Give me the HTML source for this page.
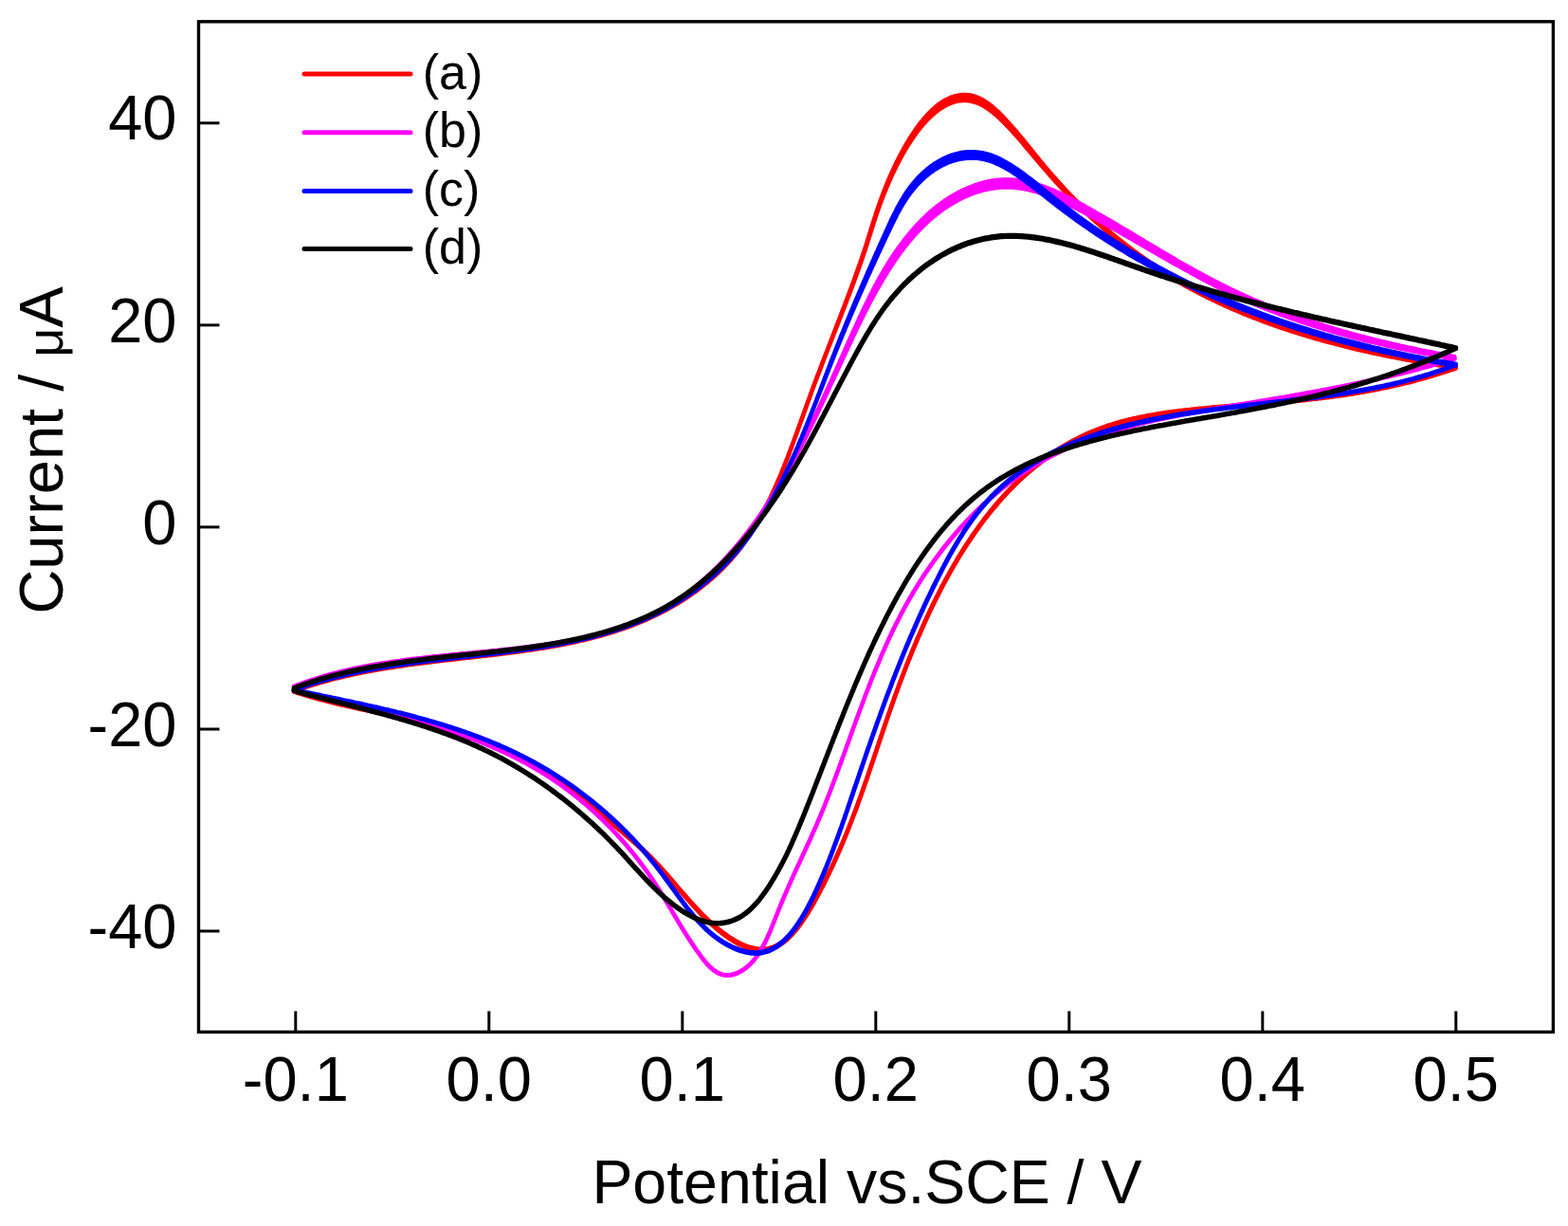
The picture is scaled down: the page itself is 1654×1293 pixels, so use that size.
<!DOCTYPE html>
<html><head><meta charset="utf-8"><title>Cyclic voltammograms</title>
<style>
html,body{margin:0;padding:0;background:#fff;}
body{width:1654px;height:1293px;overflow:hidden;}
svg{display:block;}
.t{font-family:"Liberation Sans", sans-serif;font-size:65px;fill:#000;}
.l{font-family:"Liberation Sans", sans-serif;font-size:52px;fill:#000;}
</style></head><body>
<svg width="1654" height="1293" viewBox="0 0 1654 1293">
<rect x="0" y="0" width="1654" height="1293" fill="#fff"/>
<path d="M310.0,728.5 311.9,727.8 313.8,727.1 315.7,726.5 317.5,725.8 319.4,725.1 321.3,724.5 323.2,723.9 325.1,723.2 327.0,722.6 329.0,722.0 330.9,721.4 332.8,720.8 334.7,720.2 336.6,719.7 338.5,719.1 340.5,718.6 342.4,718.0 344.3,717.5 346.3,717.0 348.2,716.4 350.1,715.9 352.1,715.4 354.0,714.9 356.0,714.4 357.9,714.0 359.8,713.5 361.8,713.0 363.7,712.6 365.7,712.1 367.7,711.7 369.6,711.2 371.6,710.8 373.5,710.4 375.5,710.0 377.4,709.5 379.4,709.1 381.4,708.7 383.3,708.3 385.3,708.0 387.3,707.6 389.2,707.2 391.2,706.8 393.2,706.5 395.1,706.1 397.1,705.8 399.1,705.4 401.1,705.1 403.0,704.7 405.0,704.4 407.0,704.1 409.0,703.8 411.0,703.5 412.9,703.1 414.9,702.8 416.9,702.5 418.9,702.2 420.9,701.9 422.8,701.6 424.8,701.4 426.8,701.1 428.8,700.8 430.8,700.5 432.8,700.2 434.7,700.0 436.7,699.7 438.7,699.4 440.7,699.2 442.7,698.9 444.7,698.7 446.7,698.4 448.6,698.2 450.6,697.9 452.6,697.7 454.6,697.4 456.6,697.2 458.6,696.9 460.6,696.7 462.6,696.5 464.6,696.2 466.5,696.0 468.5,695.8 470.5,695.5 472.5,695.3 474.5,695.1 476.5,694.9 478.5,694.6 480.5,694.4 482.5,694.2 484.5,693.9 486.5,693.7 488.4,693.5 490.4,693.3 492.4,693.0 494.4,692.8 496.4,692.6 498.4,692.4 500.4,692.2 502.4,691.9 504.4,691.7 506.4,691.5 508.4,691.2 510.3,691.0 512.3,690.8 514.3,690.6 516.3,690.3 518.3,690.1 520.3,689.9 522.3,689.6 524.3,689.4 526.3,689.1 528.2,688.9 530.2,688.6 532.2,688.4 534.2,688.1 536.2,687.9 538.2,687.6 540.2,687.4 542.2,687.1 544.1,686.9 546.1,686.6 548.1,686.3 550.1,686.1 552.1,685.8 554.1,685.5 556.1,685.2 558.0,684.9 560.0,684.6 562.0,684.3 564.0,684.0 566.0,683.7 567.9,683.4 569.9,683.1 571.9,682.8 573.9,682.5 575.9,682.1 577.8,681.8 579.8,681.5 581.8,681.1 583.7,680.8 585.7,680.4 587.7,680.1 589.7,679.7 591.6,679.3 593.6,679.0 595.6,678.6 597.5,678.2 599.5,677.8 601.5,677.4 603.4,677.0 605.4,676.5 607.3,676.1 609.3,675.7 611.2,675.3 613.2,674.8 615.1,674.4 617.1,673.9 619.0,673.4 621.0,672.9 622.9,672.5 624.9,672.0 626.8,671.5 628.8,670.9 630.7,670.4 632.6,669.9 634.6,669.4 636.5,668.8 638.4,668.3 640.3,667.7 642.2,667.1 644.2,666.5 646.1,665.9 648.0,665.3 649.9,664.7 651.8,664.1 653.7,663.5 655.6,662.8 657.5,662.2 659.4,661.5 661.3,660.8 663.1,660.1 665.0,659.4 666.9,658.7 668.8,658.0 670.6,657.3 672.5,656.5 674.4,655.8 676.2,655.0 678.1,654.2 679.9,653.5 681.7,652.7 683.6,651.8 685.4,651.0 687.2,650.2 689.0,649.3 690.8,648.5 692.6,647.6 694.4,646.7 696.2,645.8 698.0,644.9 699.8,644.0 701.6,643.1 703.3,642.1 705.1,641.2 706.8,640.2 708.6,639.2 710.3,638.2 712.1,637.2 713.8,636.2 715.5,635.1 717.2,634.1 718.9,633.0 720.6,631.9 722.3,630.9 724.0,629.8 725.6,628.7 727.3,627.5 728.9,626.4 730.6,625.2 732.2,624.1 733.8,622.9 735.4,621.7 737.0,620.5 738.6,619.3 740.2,618.1 741.8,616.9 743.4,615.6 744.9,614.3 746.5,613.1 748.0,611.8 749.5,610.5 751.0,609.2 752.5,607.8 754.0,606.5 755.5,605.1 757.0,603.8 758.4,602.4 759.9,601.0 761.3,599.6 762.7,598.2 764.1,596.8 765.5,595.3 766.9,593.9 768.3,592.4 769.6,590.9 771.0,589.4 772.3,587.9 773.6,586.4 774.9,584.9 776.2,583.4 777.4,581.8 778.7,580.2 779.9,578.7 781.2,577.1 782.4,575.5 783.6,573.9 784.8,572.3 785.9,570.6 787.1,569.0 788.2,567.4 789.4,565.7 790.5,564.0 791.6,562.4 792.7,560.7 793.7,559.0 794.8,557.3 795.9,555.6 796.9,553.9 797.9,552.2 799.0,550.4 800.0,548.7 801.0,547.0 801.9,545.2 802.9,543.5 803.9,541.7 804.8,540.0 805.8,538.2 806.7,536.4 807.6,534.6 808.5,532.8 809.4,531.1 810.3,529.3 811.2,527.5 812.1,525.7 813.0,523.9 813.8,522.1 814.7,520.2 815.5,518.4 816.4,516.6 817.2,514.8 818.0,512.9 818.8,511.1 819.6,509.3 820.4,507.4 821.2,505.6 822.0,503.8 822.8,501.9 823.6,500.1 824.3,498.2 825.1,496.4 825.8,494.5 826.6,492.6 827.3,490.8 828.1,488.9 828.8,487.1 829.5,485.2 830.3,483.3 831.0,481.5 831.7,479.6 832.4,477.7 833.1,475.8 833.8,474.0 834.5,472.1 835.3,470.2 835.9,468.3 836.6,466.5 837.3,464.6 838.0,462.7 838.7,460.8 839.4,458.9 840.1,457.1 840.8,455.2 841.5,453.3 842.1,451.4 842.8,449.5 843.5,447.6 844.2,445.7 844.8,443.9 845.5,442.0 846.2,440.1 846.9,438.2 847.6,436.3 848.2,434.4 848.9,432.5 849.6,430.7 850.3,428.8 850.9,426.9 851.6,425.0 852.3,423.1 853.0,421.2 853.7,419.4 854.4,417.5 855.0,415.6 855.7,413.7 856.4,411.8 857.1,410.0 857.8,408.1 858.5,406.2 859.2,404.3 859.9,402.4 860.6,400.6 861.3,398.7 862.0,396.8 862.7,394.9 863.5,393.1 864.2,391.2 864.9,389.3 865.6,387.5 866.3,385.6 867.0,383.7 867.7,381.8 868.5,380.0 869.2,378.1 869.9,376.2 870.6,374.4 871.3,372.5 872.1,370.6 872.8,368.7 873.5,366.8 874.2,364.9 875.0,363.1 875.7,361.2 876.4,359.3 877.1,357.4 877.9,355.6 878.6,353.7 879.3,351.8 880.0,349.9 880.8,348.0 881.5,346.2 882.2,344.3 882.9,342.4 883.7,340.5 884.4,338.6 885.1,336.8 885.8,334.9 886.6,333.0 887.3,331.1 888.0,329.2 888.7,327.3 889.4,325.5 890.2,323.6 890.9,321.7 891.6,319.8 892.3,317.9 893.0,316.1 893.7,314.2 894.4,312.3 895.2,310.4 895.9,308.5 896.6,306.6 897.3,304.7 898.0,302.8 898.7,301.0 899.4,299.1 900.1,297.2 900.8,295.3 901.4,293.4 902.1,291.5 902.8,289.6 903.5,287.7 904.2,285.8 904.8,283.9 905.5,282.0 906.2,280.1 906.9,278.2 907.5,276.3 908.2,274.4 908.8,272.5 909.5,270.6 910.1,268.7 910.8,266.8 911.4,264.9 912.0,263.0 912.7,261.0 913.3,259.1 913.9,257.2 914.5,255.3 915.1,253.4 915.7,251.5 916.3,249.5 916.9,247.6 917.5,245.7 918.1,243.8 918.7,241.8 919.3,239.9 919.9,238.0 920.5,236.0 921.1,234.1 921.7,232.2 922.3,230.3 923.0,228.4 923.6,226.4 924.2,224.5 924.8,222.6 925.5,220.7 926.1,218.8 926.8,216.9 927.4,215.0 928.1,213.1 928.8,211.2 929.5,209.3 930.2,207.4 930.9,205.5 931.6,203.6 932.3,201.7 933.1,199.8 933.8,198.0 934.6,196.1 935.3,194.2 936.1,192.3 936.9,190.5 937.7,188.6 938.5,186.8 939.3,184.9 940.1,183.1 940.9,181.2 941.8,179.4 942.6,177.6 943.5,175.7 944.4,173.9 945.2,172.1 946.1,170.3 947.0,168.5 947.9,166.6 948.9,164.9 949.8,163.1 950.8,161.3 951.7,159.5 952.7,157.7 953.7,155.9 954.7,154.2 955.7,152.4 956.7,150.7 957.8,149.0 958.8,147.2 959.9,145.5 961.0,143.8 962.1,142.1 963.2,140.4 964.3,138.7 965.5,137.1 966.6,135.4 967.8,133.8 969.0,132.1 970.2,130.5 971.5,128.9 972.8,127.3 974.0,125.8 975.4,124.2 976.7,122.7 978.1,121.2 979.4,119.7 980.9,118.3 982.3,116.8 983.8,115.4 985.3,114.1 986.8,112.7 988.3,111.5 989.9,110.2 991.6,109.0 993.2,107.9 994.9,106.8 996.6,105.8 998.4,104.9 1000.2,104.0 1002.0,103.2 1003.9,102.4 1005.8,101.8 1007.7,101.2 1009.7,100.8 1011.6,100.4 1013.6,100.2 1015.6,100.0 1017.6,100.0 1019.6,100.1 1021.6,100.2 1023.6,100.5 1025.6,101.0 1027.5,101.5 1029.4,102.1 1031.3,102.8 1033.1,103.6 1034.9,104.4 1036.7,105.4 1038.4,106.4 1040.1,107.5 1041.8,108.6 1043.4,109.8 1045.0,111.1 1046.6,112.3 1048.1,113.7 1049.6,115.0 1051.1,116.3 1052.6,117.7 1054.1,119.1 1055.5,120.5 1057.0,122.0 1058.4,123.4 1059.8,124.9 1061.2,126.4 1062.5,127.9 1063.9,129.4 1065.2,130.9 1066.6,132.4 1067.9,133.9 1069.3,135.4 1070.6,137.0 1071.9,138.5 1073.2,140.1 1074.5,141.6 1075.8,143.2 1077.1,144.7 1078.4,146.3 1079.7,147.8 1080.9,149.4 1082.2,151.0 1083.5,152.6 1084.8,154.1 1086.0,155.7 1087.3,157.3 1088.6,158.8 1089.9,160.4 1091.1,162.0 1092.4,163.6 1093.7,165.2 1094.9,166.7 1096.2,168.3 1097.5,169.9 1098.8,171.4 1100.1,173.0 1101.4,174.6 1102.7,176.1 1104.0,177.7 1105.3,179.2 1106.6,180.7 1107.9,182.3 1109.2,183.8 1110.5,185.3 1111.9,186.8 1113.2,188.3 1114.5,189.8 1115.9,191.3 1117.2,192.8 1118.6,194.3 1120.0,195.8 1121.3,197.2 1122.7,198.7 1124.1,200.2 1125.5,201.6 1126.8,203.1 1128.2,204.5 1129.6,206.0 1131.0,207.4 1132.4,208.8 1133.8,210.3 1135.3,211.7 1136.7,213.1 1138.1,214.5 1139.5,215.9 1141.0,217.3 1142.4,218.7 1143.8,220.1 1145.3,221.5 1146.8,222.9 1148.2,224.3 1149.7,225.6 1151.1,227.0 1152.6,228.4 1154.1,229.7 1155.6,231.1 1157.1,232.4 1158.6,233.8 1160.1,235.1 1161.6,236.4 1163.1,237.8 1164.6,239.1 1166.1,240.4 1167.6,241.7 1169.2,243.0 1170.7,244.3 1172.2,245.6 1173.8,246.9 1175.3,248.1 1176.9,249.4 1178.4,250.7 1180.0,251.9 1181.6,253.2 1183.1,254.5 1184.7,255.7 1186.3,256.9 1187.9,258.2 1189.5,259.4 1191.0,260.6 1192.6,261.8 1194.3,263.0 1195.9,264.2 1197.5,265.4 1199.1,266.6 1200.7,267.8 1202.3,269.0 1204.0,270.1 1205.6,271.3 1207.2,272.4 1208.9,273.6 1210.5,274.7 1212.2,275.9 1213.9,277.0 1215.5,278.1 1217.2,279.2 1218.9,280.4 1220.5,281.5 1222.2,282.6 1223.9,283.6 1225.6,284.7 1227.3,285.8 1229.0,286.9 1230.7,287.9 1232.4,289.0 1234.1,290.0 1235.8,291.1 1237.5,292.1 1239.3,293.1 1241.0,294.2 1242.7,295.2 1244.5,296.2 1246.2,297.2 1247.9,298.2 1249.7,299.2 1251.4,300.1 1253.2,301.1 1255.0,302.1 1256.7,303.0 1258.5,304.0 1260.3,304.9 1262.0,305.8 1263.8,306.8 1265.6,307.7 1267.4,308.6 1269.1,309.5 1270.9,310.4 1272.7,311.3 1274.5,312.2 1276.3,313.1 1278.1,314.0 1279.9,314.8 1281.7,315.7 1283.6,316.6 1285.4,317.4 1287.2,318.3 1289.0,319.1 1290.8,319.9 1292.6,320.8 1294.5,321.6 1296.3,322.4 1298.1,323.2 1300.0,324.0 1301.8,324.8 1303.7,325.6 1305.5,326.4 1307.3,327.2 1309.2,327.9 1311.0,328.7 1312.9,329.5 1314.8,330.2 1316.6,331.0 1318.5,331.7 1320.3,332.5 1322.2,333.2 1324.1,333.9 1325.9,334.7 1327.8,335.4 1329.7,336.1 1331.5,336.8 1333.4,337.5 1335.3,338.2 1337.2,338.9 1339.1,339.6 1341.0,340.3 1342.8,340.9 1344.7,341.6 1346.6,342.3 1348.5,342.9 1350.4,343.6 1352.3,344.2 1354.2,344.9 1356.1,345.5 1358.0,346.1 1359.9,346.8 1361.8,347.4 1363.7,348.0 1365.6,348.6 1367.5,349.2 1369.4,349.8 1371.4,350.4 1373.3,351.0 1375.2,351.6 1377.1,352.2 1379.0,352.8 1380.9,353.4 1382.9,353.9 1384.8,354.5 1386.7,355.1 1388.6,355.6 1390.6,356.2 1392.5,356.7 1394.4,357.3 1396.3,357.8 1398.3,358.4 1400.2,358.9 1402.1,359.4 1404.1,359.9 1406.0,360.5 1407.9,361.0 1409.9,361.5 1411.8,362.0 1413.8,362.5 1415.7,363.0 1417.6,363.5 1419.6,364.0 1421.5,364.4 1423.5,364.9 1425.4,365.4 1427.4,365.9 1429.3,366.3 1431.3,366.8 1433.2,367.3 1435.2,367.7 1437.1,368.2 1439.1,368.6 1441.0,369.1 1443.0,369.5 1444.9,370.0 1446.9,370.4 1448.8,370.8 1450.8,371.2 1452.8,371.7 1454.7,372.1 1456.7,372.5 1458.6,372.9 1460.6,373.3 1462.6,373.7 1464.5,374.1 1466.5,374.5 1468.5,374.9 1470.4,375.3 1472.4,375.7 1474.4,376.1 1476.3,376.5 1478.3,376.8 1480.3,377.2 1482.2,377.6 1484.2,378.0 1486.2,378.3 1488.1,378.7 1490.1,379.0 1492.1,379.4 1494.1,379.7 1496.0,380.1 1498.0,380.4 1500.0,380.8 1502.0,381.1 1503.9,381.5 1505.9,381.8 1507.9,382.1 1509.9,382.4 1511.8,382.8 1513.8,383.1 1515.8,383.4 1517.8,383.7 1519.8,384.0 1521.7,384.3 1523.7,384.7 1525.7,385.0 1527.7,385.3 1529.7,385.6 1531.6,385.9 1533.6,386.2 1535.6,386.4 1535.6,388.0 1533.6,387.7 1531.6,387.4 1529.7,387.1 1527.7,386.8 1525.7,386.5 1523.7,386.2 1521.7,385.9 1519.8,385.6 1517.8,385.3 1515.8,385.0 1513.8,384.6 1511.8,384.3 1509.9,384.0 1507.9,383.7 1505.9,383.3 1503.9,383.0 1502.0,382.7 1500.0,382.3 1498.0,382.0 1496.0,381.7 1494.1,381.3 1492.1,381.0 1490.1,380.6 1488.1,380.3 1486.2,379.9 1484.2,379.5 1482.2,379.2 1480.3,378.8 1478.3,378.4 1476.3,378.1 1474.4,377.7 1472.4,377.3 1470.4,376.9 1468.5,376.5 1466.5,376.2 1464.5,375.8 1462.6,375.4 1460.6,375.0 1458.6,374.6 1456.7,374.1 1454.7,373.7 1452.8,373.3 1450.8,372.9 1448.8,372.5 1446.9,372.0 1444.9,371.6 1443.0,371.2 1441.0,370.7 1439.1,370.3 1437.1,369.9 1435.2,369.4 1433.2,369.0 1431.3,368.5 1429.3,368.0 1427.4,367.6 1425.4,367.1 1423.5,366.6 1421.5,366.2 1419.6,365.7 1417.6,365.2 1415.7,364.7 1413.8,364.2 1411.8,363.7 1409.9,363.2 1407.9,362.7 1406.0,362.2 1404.1,361.7 1402.1,361.2 1400.2,360.6 1398.3,360.1 1396.3,359.6 1394.4,359.0 1392.5,358.5 1390.6,357.9 1388.6,357.4 1386.7,356.8 1384.8,356.3 1382.9,355.7 1380.9,355.2 1379.0,354.6 1377.1,354.0 1375.2,353.4 1373.3,352.8 1371.4,352.2 1369.4,351.6 1367.5,351.0 1365.6,350.4 1363.7,349.8 1361.8,349.2 1359.9,348.6 1358.0,348.0 1356.1,347.3 1354.2,346.7 1352.3,346.1 1350.4,345.4 1348.5,344.8 1346.6,344.1 1344.7,343.4 1342.8,342.8 1341.0,342.1 1339.1,341.4 1337.2,340.7 1335.3,340.1 1333.4,339.4 1331.5,338.7 1329.7,338.0 1327.8,337.2 1325.9,336.5 1324.1,335.8 1322.2,335.1 1320.3,334.4 1318.5,333.6 1316.6,332.9 1314.8,332.1 1312.9,331.4 1311.0,330.6 1309.2,329.8 1307.3,329.1 1305.5,328.3 1303.7,327.5 1301.8,326.7 1300.0,325.9 1298.1,325.1 1296.3,324.3 1294.5,323.5 1292.6,322.7 1290.8,321.9 1289.0,321.0 1287.2,320.2 1285.4,319.4 1283.6,318.5 1281.7,317.6 1279.9,316.8 1278.1,315.9 1276.3,315.0 1274.5,314.2 1272.7,313.3 1270.9,312.4 1269.1,311.5 1267.4,310.6 1265.6,309.7 1263.8,308.7 1262.0,307.8 1260.3,306.9 1258.5,305.9 1256.7,305.0 1255.0,304.0 1253.2,303.1 1251.4,302.1 1249.7,301.2 1247.9,300.2 1246.2,299.2 1244.5,298.2 1242.7,297.2 1241.0,296.2 1239.3,295.2 1237.5,294.2 1235.8,293.2 1234.1,292.1 1232.4,291.1 1230.7,290.1 1229.0,289.0 1227.3,288.0 1225.6,286.9 1223.9,285.8 1222.2,284.8 1220.5,283.7 1218.9,282.6 1217.2,281.5 1215.5,280.4 1213.9,279.3 1212.2,278.1 1210.5,277.0 1208.9,275.9 1207.2,274.8 1205.6,273.6 1204.0,272.5 1202.3,271.3 1200.7,270.1 1199.1,269.0 1197.5,267.8 1195.9,266.6 1194.3,265.4 1192.6,264.2 1191.0,263.0 1189.5,261.8 1187.9,260.6 1186.3,259.4 1184.7,258.2 1183.1,256.9 1181.6,255.7 1180.0,254.4 1178.4,253.2 1176.9,251.9 1175.3,250.7 1173.8,249.4 1172.2,248.1 1170.7,246.9 1169.2,245.6 1167.6,244.3 1166.1,243.0 1164.6,241.7 1163.1,240.4 1161.6,239.1 1160.1,237.7 1158.6,236.4 1157.1,235.1 1155.6,233.8 1154.1,232.4 1152.6,231.1 1151.1,229.7 1149.7,228.4 1148.2,227.0 1146.8,225.6 1145.3,224.3 1143.8,222.9 1142.4,221.5 1141.0,220.1 1139.5,218.7 1138.1,217.3 1136.7,215.9 1135.3,214.5 1133.8,213.1 1132.4,211.7 1131.0,210.3 1129.6,208.8 1128.2,207.4 1126.8,206.0 1125.5,204.5 1124.1,203.1 1122.7,201.6 1121.3,200.2 1120.0,198.7 1118.6,197.2 1117.2,195.8 1115.9,194.3 1114.5,192.8 1113.2,191.3 1111.9,189.8 1110.5,188.3 1109.2,186.9 1107.9,185.4 1106.6,183.9 1105.3,182.4 1104.0,180.9 1102.7,179.4 1101.4,177.9 1100.1,176.4 1098.8,174.9 1097.5,173.4 1096.2,171.9 1094.9,170.4 1093.7,168.8 1092.4,167.3 1091.1,165.8 1089.9,164.3 1088.6,162.8 1087.3,161.2 1086.0,159.7 1084.8,158.2 1083.5,156.7 1082.2,155.2 1080.9,153.7 1079.7,152.1 1078.4,150.6 1077.1,149.1 1075.8,147.6 1074.5,146.1 1073.2,144.6 1071.9,143.1 1070.6,141.7 1069.3,140.2 1067.9,138.7 1066.6,137.2 1065.2,135.8 1063.9,134.3 1062.5,132.9 1061.2,131.5 1059.8,130.0 1058.4,128.6 1057.0,127.3 1055.5,125.9 1054.1,124.5 1052.6,123.2 1051.1,121.9 1049.6,120.6 1048.1,119.3 1046.6,118.1 1045.0,116.9 1043.4,115.7 1041.8,114.6 1040.1,113.5 1038.4,112.4 1036.7,111.4 1034.9,110.4 1033.1,109.6 1031.3,108.8 1029.4,108.1 1027.5,107.5 1025.6,107.0 1023.6,106.5 1021.6,106.2 1019.6,106.1 1017.6,106.0 1015.6,106.0 1013.6,106.2 1011.6,106.4 1009.7,106.8 1007.7,107.2 1005.8,107.8 1003.9,108.4 1002.0,109.2 1000.2,110.0 998.4,110.9 996.6,111.8 994.9,112.8 993.2,113.9 991.6,115.0 989.9,116.2 988.3,117.4 986.8,118.6 985.3,119.9 983.8,121.2 982.3,122.5 980.9,123.8 979.4,125.2 978.1,126.6 976.7,128.1 975.4,129.5 974.0,131.0 972.8,132.5 971.5,134.1 970.2,135.6 969.0,137.2 967.8,138.7 966.6,140.3 965.5,141.9 964.3,143.5 963.2,145.2 962.1,146.8 961.0,148.4 959.9,150.1 958.8,151.8 957.8,153.4 956.7,155.1 955.7,156.8 954.7,158.5 953.7,160.3 952.7,162.0 951.7,163.7 950.8,165.4 949.8,167.2 948.9,168.9 947.9,170.7 947.0,172.4 946.1,174.2 945.2,176.0 944.4,177.8 943.5,179.6 942.6,181.3 941.8,183.1 940.9,184.9 940.1,186.7 939.3,188.5 938.5,190.4 937.7,192.2 936.9,194.0 936.1,195.8 935.3,197.7 934.6,199.5 933.8,201.3 933.1,203.2 932.3,205.0 931.6,206.9 930.9,208.7 930.2,210.6 929.5,212.4 928.8,214.3 928.1,216.2 927.4,218.0 926.8,219.9 926.1,221.8 925.5,223.7 924.8,225.6 924.2,227.4 923.6,229.3 923.0,231.2 922.3,233.1 921.7,235.0 921.1,236.9 920.5,238.8 919.9,240.7 919.3,242.6 918.7,244.5 918.1,246.4 917.5,248.3 916.9,250.2 916.3,252.1 915.7,254.0 915.1,255.9 914.5,257.8 913.9,259.7 913.3,261.6 912.7,263.5 912.0,265.4 911.4,267.3 910.8,269.1 910.1,271.0 909.5,272.9 908.8,274.8 908.2,276.7 907.5,278.6 906.9,280.4 906.2,282.3 905.5,284.2 904.8,286.1 904.2,287.9 903.5,289.8 902.8,291.7 902.1,293.6 901.4,295.4 900.8,297.3 900.1,299.2 899.4,301.0 898.7,302.9 898.0,304.8 897.3,306.6 896.6,308.5 895.9,310.4 895.2,312.2 894.4,314.1 893.7,316.0 893.0,317.8 892.3,319.7 891.6,321.5 890.9,323.4 890.2,325.3 889.4,327.1 888.7,329.0 888.0,330.8 887.3,332.7 886.6,334.5 885.8,336.4 885.1,338.3 884.4,340.1 883.7,342.0 882.9,343.8 882.2,345.7 881.5,347.5 880.8,349.4 880.0,351.2 879.3,353.1 878.6,355.0 877.9,356.8 877.1,358.7 876.4,360.5 875.7,362.4 875.0,364.2 874.2,366.1 873.5,367.9 872.8,369.8 872.1,371.7 871.3,373.5 870.6,375.4 869.9,377.2 869.2,379.1 868.5,381.0 867.7,382.8 867.0,384.7 866.3,386.6 865.6,388.5 864.9,390.3 864.2,392.2 863.5,394.1 862.7,395.9 862.0,397.8 861.3,399.7 860.6,401.6 859.9,403.4 859.2,405.3 858.5,407.2 857.8,409.1 857.1,410.9 856.4,412.8 855.7,414.7 855.0,416.6 854.4,418.5 853.7,420.4 853.0,422.2 852.3,424.1 851.6,426.0 850.9,427.9 850.3,429.8 849.6,431.7 848.9,433.5 848.2,435.4 847.6,437.3 846.9,439.2 846.2,441.1 845.5,443.0 844.8,444.9 844.2,446.7 843.5,448.6 842.8,450.5 842.1,452.4 841.5,454.3 840.8,456.2 840.1,458.0 839.4,459.9 838.7,461.8 838.0,463.7 837.3,465.6 836.6,467.5 835.9,469.3 835.3,471.2 834.5,473.1 833.8,475.0 833.1,476.8 832.4,478.7 831.7,480.6 831.0,482.4 830.3,484.3 829.5,486.2 828.8,488.0 828.1,489.9 827.3,491.8 826.6,493.6 825.8,495.5 825.1,497.3 824.3,499.2 823.6,501.0 822.8,502.9 822.0,504.7 821.2,506.6 820.4,508.4 819.6,510.3 818.8,512.1 818.0,513.9 817.2,515.8 816.4,517.6 815.5,519.4 814.7,521.2 813.8,523.0 813.0,524.8 812.1,526.6 811.2,528.4 810.3,530.2 809.4,532.0 808.5,533.8 807.6,535.6 806.7,537.4 805.8,539.2 804.8,540.9 803.9,542.7 802.9,544.4 801.9,546.2 801.0,547.9 800.0,549.7 799.0,551.4 797.9,553.1 796.9,554.9 795.9,556.6 794.8,558.3 793.7,560.0 792.7,561.7 791.6,563.3 790.5,565.0 789.4,566.7 788.2,568.3 787.1,570.0 785.9,571.6 784.8,573.2 783.6,574.8 782.4,576.5 781.2,578.1 779.9,579.6 778.7,581.2 777.4,582.8 776.2,584.3 774.9,585.9 773.6,587.4 772.3,588.9 771.0,590.4 769.6,591.9 768.3,593.4 766.9,594.8 765.5,596.3 764.1,597.7 762.7,599.2 761.3,600.6 759.9,602.0 758.4,603.4 757.0,604.7 755.5,606.1 754.0,607.5 752.5,608.8 751.0,610.1 749.5,611.4 748.0,612.7 746.5,614.0 744.9,615.3 743.4,616.6 741.8,617.8 740.2,619.0 738.6,620.3 737.0,621.5 735.4,622.7 733.8,623.9 732.2,625.0 730.6,626.2 728.9,627.3 727.3,628.5 725.6,629.6 724.0,630.7 722.3,631.8 720.6,632.9 718.9,634.0 717.2,635.0 715.5,636.1 713.8,637.1 712.1,638.1 710.3,639.1 708.6,640.1 706.8,641.1 705.1,642.1 703.3,643.1 701.6,644.0 699.8,644.9 698.0,645.9 696.2,646.8 694.4,647.7 692.6,648.5 690.8,649.4 689.0,650.3 687.2,651.1 685.4,652.0 683.6,652.8 681.7,653.6 679.9,654.4 678.1,655.2 676.2,656.0 674.4,656.7 672.5,657.5 670.6,658.2 668.8,658.9 666.9,659.7 665.0,660.4 663.1,661.1 661.3,661.8 659.4,662.4 657.5,663.1 655.6,663.7 653.7,664.4 651.8,665.0 649.9,665.6 648.0,666.3 646.1,666.9 644.2,667.5 642.2,668.0 640.3,668.6 638.4,669.2 636.5,669.7 634.6,670.3 632.6,670.8 630.7,671.3 628.8,671.9 626.8,672.4 624.9,672.9 622.9,673.4 621.0,673.9 619.0,674.3 617.1,674.8 615.1,675.3 613.2,675.7 611.2,676.2 609.3,676.6 607.3,677.0 605.4,677.5 603.4,677.9 601.5,678.3 599.5,678.7 597.5,679.1 595.6,679.5 593.6,679.9 591.6,680.2 589.7,680.6 587.7,681.0 585.7,681.3 583.7,681.7 581.8,682.0 579.8,682.4 577.8,682.7 575.9,683.0 573.9,683.4 571.9,683.7 569.9,684.0 567.9,684.3 566.0,684.6 564.0,684.9 562.0,685.2 560.0,685.5 558.0,685.8 556.1,686.1 554.1,686.4 552.1,686.7 550.1,686.9 548.1,687.2 546.1,687.5 544.1,687.7 542.2,688.0 540.2,688.3 538.2,688.5 536.2,688.8 534.2,689.0 532.2,689.3 530.2,689.5 528.2,689.8 526.3,690.0 524.3,690.3 522.3,690.5 520.3,690.7 518.3,691.0 516.3,691.2 514.3,691.4 512.3,691.7 510.3,691.9 508.4,692.1 506.4,692.3 504.4,692.6 502.4,692.8 500.4,693.0 498.4,693.2 496.4,693.5 494.4,693.7 492.4,693.9 490.4,694.1 488.4,694.4 486.5,694.6 484.5,694.8 482.5,695.0 480.5,695.3 478.5,695.5 476.5,695.7 474.5,695.9 472.5,696.2 470.5,696.4 468.5,696.6 466.5,696.9 464.6,697.1 462.6,697.3 460.6,697.6 458.6,697.8 456.6,698.0 454.6,698.3 452.6,698.5 450.6,698.8 448.6,699.0 446.7,699.3 444.7,699.5 442.7,699.8 440.7,700.0 438.7,700.3 436.7,700.6 434.7,700.8 432.8,701.1 430.8,701.4 428.8,701.6 426.8,701.9 424.8,702.2 422.8,702.5 420.9,702.8 418.9,703.1 416.9,703.4 414.9,703.7 412.9,704.0 411.0,704.3 409.0,704.6 407.0,704.9 405.0,705.3 403.0,705.6 401.1,705.9 399.1,706.3 397.1,706.6 395.1,707.0 393.2,707.3 391.2,707.7 389.2,708.0 387.3,708.4 385.3,708.8 383.3,709.2 381.4,709.6 379.4,710.0 377.4,710.4 375.5,710.8 373.5,711.2 371.6,711.6 369.6,712.0 367.7,712.5 365.7,712.9 363.7,713.4 361.8,713.8 359.8,714.3 357.9,714.8 356.0,715.3 354.0,715.7 352.1,716.2 350.1,716.7 348.2,717.2 346.3,717.8 344.3,718.3 342.4,718.8 340.5,719.4 338.5,719.9 336.6,720.5 334.7,721.1 332.8,721.6 330.9,722.2 329.0,722.8 327.0,723.4 325.1,724.0 323.2,724.7 321.3,725.3 319.4,725.9 317.5,726.6 315.7,727.3 313.8,727.9 311.9,728.6 310.0,729.3Z" fill="#ff0000" stroke="#ff0000" stroke-width="4.4" stroke-linejoin="round"/>
<path d="M1535.6,387.4 1533.7,388.1 1531.8,388.7 1529.9,389.3 1528.0,390.0 1526.1,390.6 1524.2,391.2 1522.3,391.8 1520.4,392.4 1518.5,393.0 1516.5,393.6 1514.6,394.2 1512.7,394.8 1510.8,395.4 1508.9,395.9 1506.9,396.5 1505.0,397.0 1503.1,397.6 1501.2,398.1 1499.2,398.7 1497.3,399.2 1495.4,399.7 1493.4,400.2 1491.5,400.7 1489.5,401.3 1487.6,401.7 1485.7,402.2 1483.7,402.7 1481.8,403.2 1479.8,403.7 1477.9,404.1 1475.9,404.6 1474.0,405.1 1472.0,405.5 1470.1,405.9 1468.1,406.4 1466.1,406.8 1464.2,407.2 1462.2,407.7 1460.3,408.1 1458.3,408.5 1456.3,408.9 1454.4,409.3 1452.4,409.7 1450.4,410.0 1448.5,410.4 1446.5,410.8 1444.5,411.1 1442.5,411.5 1440.6,411.9 1438.6,412.2 1436.6,412.6 1434.6,412.9 1432.7,413.2 1430.7,413.6 1428.7,413.9 1426.7,414.2 1424.8,414.5 1422.8,414.8 1420.8,415.1 1418.8,415.4 1416.8,415.7 1414.8,416.0 1412.9,416.3 1410.9,416.6 1408.9,416.8 1406.9,417.1 1404.9,417.4 1402.9,417.7 1400.9,417.9 1399.0,418.2 1397.0,418.4 1395.0,418.7 1393.0,418.9 1391.0,419.2 1389.0,419.4 1387.0,419.6 1385.0,419.9 1383.0,420.1 1381.0,420.3 1379.0,420.5 1377.1,420.7 1375.1,421.0 1373.1,421.2 1371.1,421.4 1369.1,421.6 1367.1,421.8 1365.1,422.0 1363.1,422.2 1361.1,422.4 1359.1,422.6 1357.1,422.8 1355.1,423.0 1353.1,423.1 1351.1,423.3 1349.1,423.5 1347.1,423.7 1345.1,423.9 1343.1,424.1 1341.1,424.2 1339.1,424.4 1337.1,424.6 1335.1,424.8 1333.1,424.9 1331.2,425.1 1329.2,425.3 1327.2,425.5 1325.2,425.6 1323.2,425.8 1321.2,426.0 1319.2,426.1 1317.2,426.3 1315.2,426.5 1313.2,426.6 1311.2,426.8 1309.2,427.0 1307.2,427.1 1305.2,427.3 1303.2,427.5 1301.2,427.6 1299.2,427.8 1297.2,428.0 1295.2,428.1 1293.2,428.3 1291.2,428.5 1289.2,428.7 1287.2,428.8 1285.2,429.0 1283.2,429.2 1281.2,429.3 1279.2,429.5 1277.2,429.7 1275.2,429.9 1273.2,430.1 1271.2,430.3 1269.2,430.4 1267.2,430.6 1265.2,430.8 1263.2,431.0 1261.3,431.2 1259.3,431.4 1257.3,431.6 1255.3,431.9 1253.3,432.1 1251.3,432.3 1249.3,432.5 1247.3,432.8 1245.3,433.0 1243.3,433.2 1241.3,433.5 1239.3,433.7 1237.4,434.0 1235.4,434.3 1233.4,434.5 1231.4,434.8 1229.4,435.1 1227.4,435.4 1225.4,435.7 1223.5,436.0 1221.5,436.3 1219.5,436.6 1217.5,437.0 1215.6,437.3 1213.6,437.7 1211.6,438.0 1209.6,438.4 1207.7,438.8 1205.7,439.2 1203.7,439.6 1201.8,440.0 1199.8,440.4 1197.9,440.8 1195.9,441.2 1193.9,441.7 1192.0,442.1 1190.0,442.6 1188.1,443.1 1186.2,443.6 1184.2,444.1 1182.3,444.6 1180.4,445.2 1178.4,445.7 1176.5,446.3 1174.6,446.9 1172.7,447.5 1170.8,448.1 1168.8,448.7 1166.9,449.3 1165.1,450.0 1163.2,450.6 1161.3,451.3 1159.4,452.0 1157.5,452.7 1155.7,453.5 1153.8,454.2 1151.9,455.0 1150.1,455.8 1148.3,456.6 1146.4,457.4 1144.6,458.2 1142.8,459.0 1141.0,459.9 1139.2,460.8 1137.4,461.7 1135.6,462.6 1133.8,463.5 1132.0,464.4 1130.3,465.4 1128.5,466.3 1126.8,467.3 1125.0,468.3 1123.3,469.3 1121.6,470.4 1119.8,471.4 1118.1,472.4 1116.4,473.5 1114.8,474.6 1113.1,475.7 1111.4,476.8 1109.7,477.9 1108.1,479.0 1106.4,480.2 1104.8,481.3 1103.2,482.5 1101.6,483.7 1099.9,484.9 1098.3,486.1 1096.8,487.3 1095.2,488.5 1093.6,489.8 1092.0,491.0 1090.5,492.3 1088.9,493.6 1087.4,494.9 1085.9,496.2 1084.4,497.5 1082.8,498.8 1081.3,500.1 1079.9,501.5 1078.4,502.8 1076.9,504.2 1075.4,505.5 1074.0,506.9 1072.5,508.3 1071.1,509.7 1069.7,511.1 1068.3,512.5 1066.9,514.0 1065.5,515.4 1064.1,516.9 1062.7,518.3 1061.3,519.8 1060.0,521.2 1058.6,522.7 1057.3,524.2 1055.9,525.7 1054.6,527.2 1053.3,528.7 1052.0,530.2 1050.7,531.8 1049.4,533.3 1048.1,534.8 1046.8,536.4 1045.5,537.9 1044.3,539.5 1043.0,541.1 1041.8,542.6 1040.6,544.2 1039.3,545.8 1038.1,547.4 1036.9,549.0 1035.7,550.6 1034.5,552.2 1033.3,553.8 1032.1,555.4 1031.0,557.1 1029.8,558.7 1028.7,560.3 1027.5,562.0 1026.4,563.6 1025.2,565.3 1024.1,566.9 1023.0,568.6 1021.9,570.3 1020.8,571.9 1019.7,573.6 1018.6,575.3 1017.5,577.0 1016.4,578.7 1015.3,580.4 1014.3,582.1 1013.2,583.8 1012.2,585.5 1011.1,587.2 1010.1,588.9 1009.1,590.6 1008.1,592.4 1007.0,594.1 1006.0,595.8 1005.0,597.5 1004.0,599.3 1003.0,601.0 1002.0,602.8 1001.1,604.5 1000.1,606.3 999.1,608.0 998.2,609.8 997.2,611.6 996.3,613.3 995.3,615.1 994.4,616.9 993.4,618.6 992.5,620.4 991.6,622.2 990.7,624.0 989.8,625.8 988.9,627.5 988.0,629.3 987.1,631.1 986.2,632.9 985.3,634.7 984.4,636.5 983.5,638.3 982.7,640.1 981.8,641.9 980.9,643.8 980.1,645.6 979.2,647.4 978.4,649.2 977.5,651.0 976.7,652.8 975.9,654.7 975.1,656.5 974.2,658.3 973.4,660.1 972.6,662.0 971.8,663.8 971.0,665.6 970.2,667.5 969.4,669.3 968.6,671.2 967.8,673.0 967.0,674.9 966.2,676.7 965.5,678.5 964.7,680.4 963.9,682.2 963.1,684.1 962.4,686.0 961.6,687.8 960.9,689.7 960.1,691.5 959.4,693.4 958.6,695.2 957.9,697.1 957.1,699.0 956.4,700.8 955.7,702.7 955.0,704.6 954.2,706.4 953.5,708.3 952.8,710.2 952.1,712.1 951.4,713.9 950.7,715.8 949.9,717.7 949.2,719.6 948.5,721.4 947.8,723.3 947.2,725.2 946.5,727.1 945.8,729.0 945.1,730.8 944.4,732.7 943.7,734.6 943.0,736.5 942.4,738.4 941.7,740.3 941.0,742.2 940.4,744.1 939.7,745.9 939.0,747.8 938.4,749.7 937.7,751.6 937.0,753.5 936.4,755.4 935.7,757.3 935.1,759.2 934.4,761.1 933.8,763.0 933.1,764.9 932.5,766.8 931.8,768.7 931.2,770.6 930.5,772.5 929.9,774.4 929.3,776.3 928.6,778.2 928.0,780.1 927.3,782.0 926.7,783.9 926.1,785.8 925.4,787.7 924.8,789.6 924.2,791.5 923.5,793.4 922.9,795.3 922.2,797.2 921.6,799.1 921.0,801.0 920.3,802.9 919.7,804.8 919.0,806.7 918.4,808.6 917.7,810.5 917.1,812.4 916.5,814.3 915.8,816.2 915.2,818.1 914.5,820.0 913.9,821.9 913.2,823.8 912.5,825.6 911.9,827.5 911.2,829.4 910.6,831.3 909.9,833.2 909.2,835.1 908.5,837.0 907.9,838.9 907.2,840.8 906.5,842.7 905.8,844.5 905.1,846.4 904.5,848.3 903.8,850.2 903.1,852.1 902.4,853.9 901.7,855.8 901.0,857.7 900.2,859.6 899.5,861.4 898.8,863.3 898.1,865.2 897.4,867.0 896.6,868.9 895.9,870.8 895.2,872.6 894.4,874.5 893.7,876.4 892.9,878.2 892.2,880.1 891.4,881.9 890.6,883.8 889.9,885.6 889.1,887.5 888.3,889.3 887.5,891.2 886.7,893.0 885.9,894.8 885.1,896.7 884.3,898.5 883.5,900.3 882.7,902.2 881.9,904.0 881.1,905.8 880.2,907.6 879.4,909.5 878.6,911.3 877.7,913.1 876.9,914.9 876.0,916.7 875.1,918.5 874.3,920.3 873.4,922.1 872.5,923.9 871.6,925.7 870.8,927.5 869.9,929.3 869.0,931.1 868.1,932.9 867.1,934.7 866.2,936.5 865.3,938.2 864.4,940.0 863.4,941.8 862.5,943.5 861.6,945.3 860.6,947.1 859.6,948.8 858.7,950.6 857.7,952.3 856.7,954.1 855.7,955.8 854.7,957.5 853.6,959.2 852.6,960.9 851.5,962.6 850.4,964.3 849.4,966.0 848.2,967.7 847.1,969.3 846.0,971.0 844.8,972.6 843.6,974.2 842.4,975.8 841.2,977.4 839.9,979.0 838.7,980.5 837.3,982.0 836.0,983.5 834.6,985.0 833.2,986.4 831.8,987.8 830.3,989.1 828.8,990.4 827.2,991.7 825.7,992.9 824.0,994.1 822.3,995.2 820.6,996.2 818.8,997.1 817.0,998.0 815.2,998.7 813.3,999.4 811.3,999.9 809.4,1000.3 807.4,1000.6 805.4,1000.8 803.4,1000.8 801.4,1000.7 799.4,1000.6 797.4,1000.3 795.4,1000.0 793.5,999.5 791.6,999.0 789.6,998.4 787.7,997.7 785.9,997.0 784.0,996.3 782.2,995.4 780.4,994.6 778.6,993.6 776.9,992.7 775.1,991.7 773.4,990.7 771.7,989.6 770.0,988.5 768.3,987.4 766.7,986.3 765.1,985.1 763.4,983.9 761.8,982.7 760.3,981.5 758.7,980.3 757.1,979.0 755.6,977.7 754.1,976.4 752.6,975.1 751.1,973.8 749.6,972.4 748.1,971.1 746.7,969.7 745.2,968.3 743.8,966.9 742.4,965.5 740.9,964.1 739.5,962.7 738.1,961.2 736.8,959.8 735.4,958.3 734.0,956.9 732.7,955.4 731.3,953.9 730.0,952.4 728.6,951.0 727.3,949.5 725.9,948.0 724.6,946.5 723.3,945.0 722.0,943.5 720.7,941.9 719.4,940.4 718.0,938.9 716.7,937.4 715.4,935.9 714.1,934.4 712.8,932.8 711.5,931.3 710.2,929.8 708.9,928.3 707.6,926.8 706.3,925.3 705.0,923.7 703.7,922.2 702.4,920.7 701.0,919.2 699.7,917.7 698.4,916.2 697.0,914.7 695.7,913.3 694.3,911.8 692.9,910.3 691.6,908.9 690.2,907.4 688.8,906.0 687.4,904.5 686.0,903.1 684.5,901.7 683.1,900.3 681.7,898.9 680.2,897.5 678.8,896.2 677.3,894.8 675.8,893.5 674.3,892.1 672.8,890.8 671.4,889.4 669.9,888.1 668.3,886.8 666.8,885.4 665.3,884.1 663.8,882.8 662.3,881.5 660.8,880.2 659.2,878.9 657.7,877.6 656.2,876.3 654.7,875.0 653.1,873.7 651.6,872.4 650.1,871.1 648.6,869.8 647.0,868.5 645.5,867.2 644.0,866.0 642.4,864.7 640.9,863.4 639.3,862.1 637.8,860.8 636.3,859.5 634.7,858.3 633.2,857.0 631.6,855.7 630.1,854.4 628.5,853.2 627.0,851.9 625.4,850.6 623.9,849.4 622.3,848.1 620.7,846.9 619.2,845.6 617.6,844.4 616.0,843.1 614.4,841.9 612.9,840.7 611.3,839.4 609.7,838.2 608.1,837.0 606.5,835.8 604.9,834.5 603.3,833.3 601.7,832.1 600.1,830.9 598.5,829.7 596.9,828.6 595.3,827.4 593.6,826.2 592.0,825.0 590.4,823.9 588.8,822.7 587.1,821.5 585.5,820.4 583.8,819.3 582.2,818.1 580.5,817.0 578.9,815.9 577.2,814.8 575.5,813.7 573.8,812.6 572.2,811.5 570.5,810.4 568.8,809.3 567.1,808.2 565.4,807.2 563.7,806.1 562.0,805.1 560.2,804.1 558.5,803.0 556.8,802.0 555.1,801.0 553.3,800.0 551.6,799.0 549.8,798.1 548.1,797.1 546.3,796.1 544.5,795.2 542.8,794.3 541.0,793.3 539.2,792.4 537.4,791.5 535.6,790.6 533.8,789.8 532.0,788.9 530.2,788.0 528.4,787.2 526.5,786.4 524.7,785.6 522.9,784.8 521.0,784.0 519.2,783.2 517.3,782.4 515.5,781.7 513.6,781.0 511.7,780.2 509.9,779.5 508.0,778.8 506.1,778.1 504.2,777.4 502.3,776.7 500.4,776.1 498.6,775.4 496.7,774.8 494.8,774.1 492.8,773.5 490.9,772.9 489.0,772.3 487.1,771.7 485.2,771.1 483.3,770.5 481.4,770.0 479.4,769.4 477.5,768.8 475.6,768.3 473.7,767.8 471.7,767.2 469.8,766.7 467.8,766.2 465.9,765.7 464.0,765.2 462.0,764.7 460.1,764.2 458.1,763.7 456.2,763.2 454.2,762.7 452.3,762.3 450.3,761.8 448.4,761.3 446.4,760.9 444.5,760.4 442.5,760.0 440.6,759.5 438.6,759.1 436.7,758.7 434.7,758.2 432.8,757.8 430.8,757.4 428.8,757.0 426.9,756.6 424.9,756.1 423.0,755.7 421.0,755.3 419.0,754.9 417.1,754.5 415.1,754.1 413.1,753.7 411.2,753.3 409.2,752.9 407.3,752.5 405.3,752.1 403.3,751.6 401.4,751.2 399.4,750.8 397.4,750.4 395.5,750.0 393.5,749.6 391.5,749.2 389.6,748.8 387.6,748.4 385.7,748.0 383.7,747.6 381.7,747.2 379.8,746.7 377.8,746.3 375.9,745.9 373.9,745.5 371.9,745.0 370.0,744.6 368.0,744.2 366.1,743.7 364.1,743.3 362.2,742.9 360.2,742.4 358.3,741.9 356.3,741.5 354.4,741.0 352.4,740.5 350.5,740.1 348.5,739.6 346.6,739.1 344.6,738.6 342.7,738.1 340.7,737.6 338.8,737.1 336.9,736.6 334.9,736.0 333.0,735.5 331.1,735.0 329.1,734.4 327.2,733.9 325.3,733.3 323.4,732.7 321.5,732.2 319.5,731.6 317.6,731.0 315.7,730.4 313.8,729.8 311.9,729.1 310.0,728.5 310.0,729.5 311.9,730.1 313.8,730.8 315.7,731.4 317.6,732.0 319.5,732.6 321.5,733.2 323.4,733.8 325.3,734.3 327.2,734.9 329.1,735.5 331.1,736.0 333.0,736.6 334.9,737.1 336.9,737.6 338.8,738.1 340.7,738.7 342.7,739.2 344.6,739.7 346.6,740.2 348.5,740.7 350.5,741.1 352.4,741.6 354.4,742.1 356.3,742.6 358.3,743.0 360.2,743.5 362.2,743.9 364.1,744.4 366.1,744.8 368.0,745.3 370.0,745.7 371.9,746.1 373.9,746.6 375.9,747.0 377.8,747.4 379.8,747.8 381.7,748.3 383.7,748.7 385.7,749.1 387.6,749.5 389.6,749.9 391.5,750.3 393.5,750.7 395.5,751.2 397.4,751.6 399.4,752.0 401.4,752.4 403.3,752.8 405.3,753.2 407.3,753.6 409.2,754.0 411.2,754.4 413.1,754.8 415.1,755.2 417.1,755.6 419.0,756.0 421.0,756.5 423.0,756.9 424.9,757.3 426.9,757.7 428.8,758.1 430.8,758.6 432.8,759.0 434.7,759.4 436.7,759.8 438.6,760.3 440.6,760.7 442.5,761.2 444.5,761.6 446.4,762.1 448.4,762.5 450.3,763.0 452.3,763.5 454.2,763.9 456.2,764.4 458.1,764.9 460.1,765.4 462.0,765.9 464.0,766.4 465.9,766.9 467.8,767.4 469.8,767.9 471.7,768.4 473.7,769.0 475.6,769.5 477.5,770.1 479.4,770.6 481.4,771.2 483.3,771.8 485.2,772.3 487.1,772.9 489.0,773.5 490.9,774.1 492.8,774.8 494.8,775.4 496.7,776.0 498.6,776.7 500.4,777.3 502.3,778.0 504.2,778.7 506.1,779.4 508.0,780.1 509.9,780.8 511.7,781.5 513.6,782.2 515.5,783.0 517.3,783.7 519.2,784.5 521.0,785.3 522.9,786.1 524.7,786.9 526.5,787.7 528.4,788.5 530.2,789.3 532.0,790.2 533.8,791.1 535.6,791.9 537.4,792.8 539.2,793.7 541.0,794.6 542.8,795.6 544.5,796.5 546.3,797.4 548.1,798.4 549.8,799.4 551.6,800.3 553.3,801.3 555.1,802.3 556.8,803.3 558.5,804.4 560.2,805.4 562.0,806.4 563.7,807.5 565.4,808.5 567.1,809.6 568.8,810.6 570.5,811.7 572.2,812.8 573.8,813.9 575.5,815.0 577.2,816.1 578.9,817.2 580.5,818.3 582.2,819.5 583.8,820.6 585.5,821.8 587.1,822.9 588.8,824.1 590.4,825.2 592.0,826.4 593.6,827.6 595.3,828.7 596.9,829.9 598.5,831.1 600.1,832.3 601.7,833.5 603.3,834.7 604.9,835.9 606.5,837.1 608.1,838.4 609.7,839.6 611.3,840.8 612.9,842.0 614.4,843.3 616.0,844.5 617.6,845.8 619.2,847.0 620.7,848.3 622.3,849.5 623.9,850.8 625.4,852.0 627.0,853.3 628.5,854.6 630.1,855.8 631.6,857.1 633.2,858.4 634.7,859.7 636.3,860.9 637.8,862.2 639.3,863.5 640.9,864.8 642.4,866.1 644.0,867.4 645.5,868.7 647.0,870.0 648.6,871.3 650.1,872.6 651.6,873.9 653.1,875.2 654.7,876.4 656.2,877.7 657.7,879.0 659.2,880.4 660.8,881.7 662.3,883.0 663.8,884.3 665.3,885.6 666.8,886.9 668.3,888.2 669.9,889.6 671.4,890.9 672.8,892.2 674.3,893.6 675.8,894.9 677.3,896.3 678.8,897.6 680.2,899.0 681.7,900.4 683.1,901.8 684.5,903.2 686.0,904.6 687.4,906.0 688.8,907.5 690.2,908.9 691.6,910.4 692.9,911.8 694.3,913.3 695.7,914.8 697.0,916.2 698.4,917.7 699.7,919.2 701.0,920.7 702.4,922.2 703.7,923.7 705.0,925.3 706.3,926.8 707.6,928.3 708.9,929.8 710.2,931.4 711.5,932.9 712.8,934.4 714.1,935.9 715.4,937.5 716.7,939.0 718.0,940.5 719.4,942.0 720.7,943.5 722.0,945.1 723.3,946.6 724.6,948.1 725.9,949.6 727.3,951.1 728.6,952.6 730.0,954.1 731.3,955.6 732.7,957.1 734.0,958.5 735.4,960.0 736.8,961.5 738.1,962.9 739.5,964.4 740.9,965.8 742.4,967.2 743.8,968.6 745.2,970.0 746.7,971.4 748.1,972.8 749.6,974.2 751.1,975.5 752.6,976.9 754.1,978.2 755.6,979.5 757.1,980.8 758.7,982.1 760.3,983.3 761.8,984.5 763.4,985.8 765.1,987.0 766.7,988.1 768.3,989.3 770.0,990.4 771.7,991.5 773.4,992.6 775.1,993.6 776.9,994.6 778.6,995.5 780.4,996.5 782.2,997.3 784.0,998.2 785.9,999.0 787.7,999.7 789.6,1000.3 791.6,1000.9 793.5,1001.5 795.4,1001.9 797.4,1002.3 799.4,1002.6 801.4,1002.7 803.4,1002.8 805.4,1002.7 807.4,1002.6 809.4,1002.3 811.3,1001.8 813.3,1001.3 815.2,1000.6 817.0,999.9 818.8,999.0 820.6,998.1 822.3,997.0 824.0,995.9 825.7,994.8 827.2,993.6 828.8,992.3 830.3,991.0 831.8,989.6 833.2,988.2 834.6,986.8 836.0,985.3 837.3,983.8 838.7,982.3 839.9,980.8 841.2,979.2 842.4,977.6 843.6,976.0 844.8,974.4 846.0,972.7 847.1,971.1 848.2,969.4 849.4,967.8 850.4,966.1 851.5,964.4 852.6,962.7 853.6,961.0 854.7,959.2 855.7,957.5 856.7,955.8 857.7,954.0 858.7,952.3 859.6,950.5 860.6,948.8 861.6,947.0 862.5,945.2 863.4,943.5 864.4,941.7 865.3,939.9 866.2,938.1 867.1,936.3 868.1,934.6 869.0,932.8 869.9,931.0 870.8,929.2 871.6,927.4 872.5,925.6 873.4,923.8 874.3,922.0 875.1,920.2 876.0,918.3 876.9,916.5 877.7,914.7 878.6,912.9 879.4,911.1 880.2,909.2 881.1,907.4 881.9,905.6 882.7,903.8 883.5,901.9 884.3,900.1 885.1,898.2 885.9,896.4 886.7,894.6 887.5,892.7 888.3,890.9 889.1,889.0 889.9,887.2 890.6,885.3 891.4,883.5 892.2,881.6 892.9,879.7 893.7,877.9 894.4,876.0 895.2,874.2 895.9,872.3 896.6,870.4 897.4,868.6 898.1,866.7 898.8,864.8 899.5,862.9 900.2,861.1 901.0,859.2 901.7,857.3 902.4,855.4 903.1,853.6 903.8,851.7 904.5,849.8 905.1,847.9 905.8,846.0 906.5,844.1 907.2,842.3 907.9,840.4 908.5,838.5 909.2,836.6 909.9,834.7 910.6,832.8 911.2,830.9 911.9,829.0 912.5,827.1 913.2,825.2 913.9,823.4 914.5,821.5 915.2,819.6 915.8,817.7 916.5,815.8 917.1,813.9 917.7,812.0 918.4,810.1 919.0,808.2 919.7,806.3 920.3,804.4 921.0,802.5 921.6,800.6 922.2,798.7 922.9,796.8 923.5,794.9 924.2,793.0 924.8,791.1 925.4,789.2 926.1,787.3 926.7,785.4 927.3,783.5 928.0,781.6 928.6,779.7 929.3,777.8 929.9,775.9 930.5,774.0 931.2,772.1 931.8,770.2 932.5,768.3 933.1,766.4 933.8,764.5 934.4,762.6 935.1,760.7 935.7,758.8 936.4,756.9 937.0,755.0 937.7,753.1 938.4,751.2 939.0,749.3 939.7,747.4 940.4,745.5 941.0,743.6 941.7,741.8 942.4,739.9 943.0,738.0 943.7,736.1 944.4,734.2 945.1,732.3 945.8,730.4 946.5,728.6 947.2,726.7 947.8,724.8 948.5,722.9 949.2,721.0 949.9,719.2 950.7,717.3 951.4,715.4 952.1,713.5 952.8,711.7 953.5,709.8 954.2,707.9 955.0,706.0 955.7,704.2 956.4,702.3 957.1,700.4 957.9,698.6 958.6,696.7 959.4,694.9 960.1,693.0 960.9,691.1 961.6,689.3 962.4,687.4 963.1,685.6 963.9,683.7 964.7,681.9 965.5,680.0 966.2,678.2 967.0,676.3 967.8,674.5 968.6,672.6 969.4,670.8 970.2,669.0 971.0,667.1 971.8,665.3 972.6,663.4 973.4,661.6 974.2,659.8 975.1,658.0 975.9,656.1 976.7,654.3 977.5,652.5 978.4,650.7 979.2,648.8 980.1,647.0 980.9,645.2 981.8,643.4 982.7,641.6 983.5,639.8 984.4,638.0 985.3,636.2 986.2,634.4 987.1,632.6 988.0,630.8 988.9,629.0 989.8,627.2 990.7,625.4 991.6,623.6 992.5,621.9 993.4,620.1 994.4,618.3 995.3,616.5 996.3,614.8 997.2,613.0 998.2,611.2 999.1,609.5 1000.1,607.7 1001.1,606.0 1002.0,604.2 1003.0,602.5 1004.0,600.7 1005.0,599.0 1006.0,597.3 1007.0,595.5 1008.1,593.8 1009.1,592.1 1010.1,590.4 1011.1,588.6 1012.2,586.9 1013.2,585.2 1014.3,583.5 1015.3,581.8 1016.4,580.1 1017.5,578.4 1018.6,576.7 1019.7,575.1 1020.8,573.4 1021.9,571.7 1023.0,570.0 1024.1,568.4 1025.2,566.7 1026.4,565.1 1027.5,563.4 1028.7,561.8 1029.8,560.1 1031.0,558.5 1032.1,556.9 1033.3,555.2 1034.5,553.6 1035.7,552.0 1036.9,550.4 1038.1,548.8 1039.3,547.2 1040.6,545.6 1041.8,544.1 1043.0,542.5 1044.3,540.9 1045.5,539.4 1046.8,537.8 1048.1,536.3 1049.4,534.7 1050.7,533.2 1052.0,531.7 1053.3,530.1 1054.6,528.6 1055.9,527.1 1057.3,525.6 1058.6,524.1 1060.0,522.7 1061.3,521.2 1062.7,519.7 1064.1,518.3 1065.5,516.8 1066.9,515.4 1068.3,514.0 1069.7,512.6 1071.1,511.1 1072.5,509.7 1074.0,508.3 1075.4,507.0 1076.9,505.6 1078.4,504.2 1079.9,502.9 1081.3,501.5 1082.8,500.2 1084.4,498.9 1085.9,497.6 1087.4,496.3 1088.9,495.0 1090.5,493.7 1092.0,492.4 1093.6,491.2 1095.2,489.9 1096.8,488.7 1098.3,487.5 1099.9,486.3 1101.6,485.1 1103.2,483.9 1104.8,482.7 1106.4,481.6 1108.1,480.4 1109.7,479.3 1111.4,478.2 1113.1,477.1 1114.8,476.0 1116.4,474.9 1118.1,473.8 1119.8,472.8 1121.6,471.7 1123.3,470.7 1125.0,469.7 1126.8,468.7 1128.5,467.7 1130.3,466.8 1132.0,465.8 1133.8,464.9 1135.6,464.0 1137.4,463.1 1139.2,462.2 1141.0,461.3 1142.8,460.4 1144.6,459.6 1146.4,458.8 1148.3,457.9 1150.1,457.1 1151.9,456.4 1153.8,455.6 1155.7,454.9 1157.5,454.1 1159.4,453.4 1161.3,452.7 1163.2,452.0 1165.1,451.3 1166.9,450.7 1168.8,450.1 1170.8,449.4 1172.7,448.8 1174.6,448.2 1176.5,447.7 1178.4,447.1 1180.4,446.5 1182.3,446.0 1184.2,445.5 1186.2,445.0 1188.1,444.5 1190.0,444.0 1192.0,443.5 1193.9,443.1 1195.9,442.6 1197.9,442.2 1199.8,441.7 1201.8,441.3 1203.7,440.9 1205.7,440.5 1207.7,440.1 1209.6,439.7 1211.6,439.4 1213.6,439.0 1215.6,438.7 1217.5,438.3 1219.5,438.0 1221.5,437.7 1223.5,437.4 1225.4,437.0 1227.4,436.7 1229.4,436.5 1231.4,436.2 1233.4,435.9 1235.4,435.6 1237.4,435.3 1239.3,435.1 1241.3,434.8 1243.3,434.6 1245.3,434.3 1247.3,434.1 1249.3,433.9 1251.3,433.6 1253.3,433.4 1255.3,433.2 1257.3,433.0 1259.3,432.8 1261.3,432.6 1263.2,432.4 1265.2,432.2 1267.2,432.0 1269.2,431.8 1271.2,431.6 1273.2,431.4 1275.2,431.2 1277.2,431.0 1279.2,430.8 1281.2,430.7 1283.2,430.5 1285.2,430.3 1287.2,430.1 1289.2,430.0 1291.2,429.8 1293.2,429.6 1295.2,429.5 1297.2,429.3 1299.2,429.1 1301.2,428.9 1303.2,428.8 1305.2,428.6 1307.2,428.4 1309.2,428.3 1311.2,428.1 1313.2,427.9 1315.2,427.8 1317.2,427.6 1319.2,427.4 1321.2,427.3 1323.2,427.1 1325.2,426.9 1327.2,426.8 1329.2,426.6 1331.2,426.4 1333.1,426.2 1335.1,426.1 1337.1,425.9 1339.1,425.7 1341.1,425.5 1343.1,425.4 1345.1,425.2 1347.1,425.0 1349.1,424.8 1351.1,424.6 1353.1,424.4 1355.1,424.2 1357.1,424.1 1359.1,423.9 1361.1,423.7 1363.1,423.5 1365.1,423.3 1367.1,423.1 1369.1,422.9 1371.1,422.7 1373.1,422.4 1375.1,422.2 1377.1,422.0 1379.0,421.8 1381.0,421.6 1383.0,421.4 1385.0,421.1 1387.0,420.9 1389.0,420.7 1391.0,420.4 1393.0,420.2 1395.0,419.9 1397.0,419.7 1399.0,419.4 1400.9,419.2 1402.9,418.9 1404.9,418.7 1406.9,418.4 1408.9,418.1 1410.9,417.8 1412.9,417.6 1414.8,417.3 1416.8,417.0 1418.8,416.7 1420.8,416.4 1422.8,416.1 1424.8,415.8 1426.7,415.5 1428.7,415.1 1430.7,414.8 1432.7,414.5 1434.6,414.1 1436.6,413.8 1438.6,413.5 1440.6,413.1 1442.5,412.8 1444.5,412.4 1446.5,412.0 1448.5,411.7 1450.4,411.3 1452.4,410.9 1454.4,410.5 1456.3,410.1 1458.3,409.7 1460.3,409.3 1462.2,408.9 1464.2,408.5 1466.1,408.0 1468.1,407.6 1470.1,407.2 1472.0,406.7 1474.0,406.3 1475.9,405.8 1477.9,405.4 1479.8,404.9 1481.8,404.4 1483.7,404.0 1485.7,403.5 1487.6,403.0 1489.5,402.5 1491.5,402.0 1493.4,401.5 1495.4,400.9 1497.3,400.4 1499.2,399.9 1501.2,399.4 1503.1,398.8 1505.0,398.3 1506.9,397.7 1508.9,397.1 1510.8,396.6 1512.7,396.0 1514.6,395.4 1516.5,394.8 1518.5,394.2 1520.4,393.6 1522.3,393.0 1524.2,392.4 1526.1,391.8 1528.0,391.2 1529.9,390.5 1531.8,389.9 1533.7,389.3 1535.6,388.6Z" fill="#ff0000" stroke="#ff0000" stroke-width="4.4" stroke-linejoin="round"/>
<path d="M310.0,723.9 311.9,723.1 313.7,722.4 315.6,721.7 317.5,721.0 319.4,720.3 321.3,719.6 323.1,718.9 325.0,718.3 326.9,717.6 328.8,717.0 330.7,716.4 332.6,715.8 334.6,715.1 336.5,714.6 338.4,714.0 340.3,713.4 342.2,712.8 344.2,712.3 346.1,711.7 348.0,711.2 350.0,710.7 351.9,710.1 353.8,709.6 355.8,709.1 357.7,708.6 359.7,708.2 361.6,707.7 363.6,707.2 365.5,706.8 367.5,706.3 369.4,705.9 371.4,705.5 373.3,705.0 375.3,704.6 377.3,704.2 379.2,703.8 381.2,703.4 383.2,703.0 385.1,702.6 387.1,702.3 389.1,701.9 391.1,701.5 393.0,701.2 395.0,700.8 397.0,700.5 399.0,700.2 400.9,699.8 402.9,699.5 404.9,699.2 406.9,698.9 408.9,698.6 410.8,698.3 412.8,698.0 414.8,697.7 416.8,697.4 418.8,697.1 420.8,696.9 422.7,696.6 424.7,696.3 426.7,696.1 428.7,695.8 430.7,695.5 432.7,695.3 434.7,695.0 436.7,694.8 438.7,694.6 440.6,694.3 442.6,694.1 444.6,693.9 446.6,693.6 448.6,693.4 450.6,693.2 452.6,693.0 454.6,692.8 456.6,692.5 458.6,692.3 460.6,692.1 462.6,691.9 464.6,691.7 466.6,691.5 468.6,691.3 470.5,691.1 472.5,690.9 474.5,690.7 476.5,690.5 478.5,690.3 480.5,690.1 482.5,689.9 484.5,689.7 486.5,689.5 488.5,689.4 490.5,689.2 492.5,689.0 494.5,688.8 496.5,688.6 498.5,688.4 500.5,688.2 502.5,688.0 504.5,687.8 506.5,687.6 508.5,687.4 510.5,687.2 512.5,687.1 514.4,686.9 516.4,686.7 518.4,686.5 520.4,686.3 522.4,686.1 524.4,685.9 526.4,685.6 528.4,685.4 530.4,685.2 532.4,685.0 534.4,684.8 536.4,684.6 538.4,684.4 540.4,684.1 542.4,683.9 544.4,683.7 546.3,683.5 548.3,683.2 550.3,683.0 552.3,682.7 554.3,682.5 556.3,682.2 558.3,682.0 560.3,681.7 562.3,681.5 564.2,681.2 566.2,680.9 568.2,680.6 570.2,680.4 572.2,680.1 574.2,679.8 576.2,679.5 578.1,679.2 580.1,678.9 582.1,678.6 584.1,678.2 586.1,677.9 588.0,677.6 590.0,677.2 592.0,676.9 594.0,676.5 595.9,676.2 597.9,675.8 599.9,675.4 601.8,675.1 603.8,674.7 605.8,674.3 607.7,673.9 609.7,673.5 611.7,673.0 613.6,672.6 615.6,672.2 617.5,671.7 619.5,671.3 621.4,670.8 623.4,670.4 625.3,669.9 627.3,669.4 629.2,668.9 631.2,668.4 633.1,667.9 635.0,667.3 637.0,666.8 638.9,666.2 640.8,665.7 642.7,665.1 644.7,664.5 646.6,663.9 648.5,663.3 650.4,662.7 652.3,662.1 654.2,661.4 656.1,660.8 658.0,660.1 659.9,659.5 661.8,658.8 663.6,658.1 665.5,657.4 667.4,656.6 669.2,655.9 671.1,655.2 673.0,654.4 674.8,653.6 676.7,652.8 678.5,652.0 680.3,651.2 682.1,650.4 684.0,649.5 685.8,648.7 687.6,647.8 689.4,646.9 691.2,646.0 693.0,645.1 694.7,644.2 696.5,643.3 698.3,642.3 700.0,641.3 701.8,640.3 703.5,639.3 705.2,638.3 707.0,637.3 708.7,636.3 710.4,635.2 712.1,634.1 713.8,633.1 715.4,632.0 717.1,630.8 718.8,629.7 720.4,628.6 722.1,627.4 723.7,626.2 725.3,625.1 726.9,623.9 728.5,622.6 730.1,621.4 731.7,620.2 733.2,618.9 734.8,617.7 736.3,616.4 737.9,615.1 739.4,613.8 740.9,612.5 742.4,611.2 743.9,609.8 745.4,608.5 746.9,607.2 748.4,605.8 749.8,604.4 751.3,603.0 752.7,601.6 754.2,600.2 755.6,598.8 757.0,597.4 758.4,596.0 759.8,594.6 761.2,593.1 762.6,591.7 764.0,590.2 765.3,588.7 766.7,587.3 768.0,585.8 769.4,584.3 770.7,582.8 772.0,581.3 773.4,579.8 774.7,578.2 776.0,576.7 777.3,575.2 778.6,573.6 779.8,572.1 781.1,570.6 782.4,569.0 783.6,567.4 784.9,565.9 786.1,564.3 787.3,562.7 788.6,561.1 789.8,559.5 791.0,557.9 792.2,556.3 793.4,554.7 794.6,553.1 795.8,551.5 796.9,549.8 798.1,548.2 799.3,546.6 800.4,544.9 801.6,543.3 802.7,541.6 803.8,540.0 805.0,538.3 806.1,536.7 807.2,535.0 808.3,533.3 809.4,531.7 810.5,530.0 811.6,528.3 812.7,526.6 813.7,524.9 814.8,523.2 815.9,521.5 816.9,519.8 818.0,518.1 819.0,516.4 820.1,514.7 821.1,513.0 822.1,511.2 823.1,509.5 824.2,507.8 825.2,506.0 826.2,504.3 827.2,502.6 828.2,500.8 829.2,499.1 830.1,497.3 831.1,495.6 832.1,493.8 833.1,492.0 834.0,490.2 835.0,488.4 835.9,486.7 836.9,484.9 837.8,483.1 838.8,481.3 839.7,479.5 840.7,477.7 841.6,475.9 842.5,474.1 843.4,472.3 844.3,470.5 845.3,468.7 846.2,466.9 847.1,465.0 848.0,463.2 848.9,461.4 849.8,459.6 850.7,457.8 851.5,456.0 852.4,454.1 853.3,452.3 854.2,450.5 855.1,448.7 855.9,446.8 856.8,445.0 857.7,443.2 858.5,441.4 859.4,439.5 860.3,437.7 861.1,435.9 862.0,434.0 862.8,432.2 863.7,430.4 864.5,428.5 865.4,426.7 866.2,424.8 867.1,423.0 867.9,421.2 868.8,419.3 869.6,417.5 870.4,415.6 871.3,413.8 872.1,412.0 873.0,410.1 873.8,408.3 874.6,406.4 875.4,404.6 876.3,402.7 877.1,400.9 877.9,399.0 878.8,397.2 879.6,395.3 880.4,393.5 881.3,391.6 882.1,389.8 882.9,387.9 883.7,386.0 884.6,384.2 885.4,382.3 886.2,380.4 887.0,378.6 887.9,376.7 888.7,374.9 889.5,373.0 890.4,371.1 891.2,369.3 892.0,367.4 892.8,365.5 893.7,363.7 894.5,361.8 895.3,360.0 896.2,358.1 897.0,356.2 897.9,354.4 898.7,352.5 899.5,350.7 900.4,348.8 901.2,347.0 902.1,345.1 902.9,343.2 903.8,341.4 904.6,339.5 905.5,337.7 906.3,335.8 907.2,334.0 908.0,332.1 908.9,330.3 909.8,328.4 910.7,326.6 911.5,324.8 912.4,322.9 913.3,321.1 914.2,319.2 915.1,317.4 916.0,315.6 916.9,313.8 917.8,311.9 918.7,310.1 919.7,308.3 920.6,306.5 921.5,304.7 922.5,302.8 923.4,301.0 924.4,299.2 925.4,297.4 926.3,295.6 927.3,293.8 928.3,292.1 929.3,290.3 930.3,288.5 931.3,286.8 932.3,285.0 933.4,283.3 934.4,281.6 935.5,279.9 936.5,278.2 937.6,276.5 938.7,274.8 939.7,273.1 940.8,271.5 941.9,269.8 943.1,268.1 944.2,266.5 945.3,264.8 946.5,263.2 947.6,261.5 948.8,259.9 950.0,258.3 951.2,256.7 952.4,255.1 953.6,253.5 954.8,251.9 956.1,250.3 957.3,248.8 958.6,247.2 959.9,245.7 961.2,244.1 962.5,242.6 963.8,241.1 965.1,239.6 966.5,238.1 967.8,236.6 969.2,235.2 970.6,233.7 972.0,232.3 973.4,230.9 974.9,229.5 976.3,228.1 977.8,226.7 979.2,225.4 980.7,224.0 982.2,222.7 983.8,221.4 985.3,220.1 986.9,218.9 988.4,217.6 990.0,216.4 991.6,215.2 993.2,214.0 994.9,212.8 996.5,211.7 998.2,210.6 999.9,209.5 1001.5,208.4 1003.2,207.3 1005.0,206.3 1006.7,205.3 1008.4,204.3 1010.2,203.3 1012.0,202.4 1013.8,201.5 1015.6,200.6 1017.4,199.8 1019.2,199.0 1021.1,198.2 1022.9,197.4 1024.8,196.7 1026.7,196.0 1028.5,195.3 1030.4,194.6 1032.4,194.0 1034.3,193.5 1036.2,192.9 1038.1,192.4 1040.1,192.0 1042.1,191.5 1044.0,191.1 1046.0,190.8 1048.0,190.5 1050.0,190.2 1052.0,190.0 1053.9,189.8 1055.9,189.6 1057.9,189.5 1060.0,189.5 1062.0,189.4 1064.0,189.5 1066.0,189.5 1068.0,189.6 1070.0,189.8 1072.0,190.0 1074.0,190.2 1075.9,190.5 1077.9,190.8 1079.9,191.1 1081.9,191.5 1083.8,191.9 1085.8,192.4 1087.7,192.8 1089.7,193.3 1091.6,193.9 1093.5,194.4 1095.4,195.0 1097.4,195.6 1099.3,196.2 1101.2,196.9 1103.0,197.6 1104.9,198.3 1106.8,199.1 1108.7,199.8 1110.5,200.6 1112.4,201.4 1114.2,202.2 1116.0,203.0 1117.9,203.8 1119.7,204.7 1121.5,205.6 1123.3,206.4 1125.1,207.3 1126.9,208.2 1128.7,209.1 1130.5,210.0 1132.3,211.0 1134.1,211.9 1135.9,212.8 1137.7,213.8 1139.4,214.7 1141.2,215.7 1143.0,216.7 1144.7,217.7 1146.5,218.6 1148.2,219.6 1150.0,220.6 1151.7,221.6 1153.5,222.6 1155.2,223.6 1157.0,224.6 1158.7,225.6 1160.5,226.6 1162.2,227.6 1164.0,228.6 1165.7,229.6 1167.4,230.6 1169.2,231.6 1170.9,232.7 1172.7,233.7 1174.4,234.7 1176.1,235.7 1177.9,236.7 1179.6,237.8 1181.3,238.8 1183.1,239.8 1184.8,240.9 1186.5,241.9 1188.3,242.9 1190.0,243.9 1191.7,245.0 1193.4,246.0 1195.2,247.0 1196.9,248.1 1198.6,249.1 1200.4,250.1 1202.1,251.2 1203.8,252.2 1205.5,253.2 1207.3,254.3 1209.0,255.3 1210.7,256.3 1212.5,257.4 1214.2,258.4 1215.9,259.4 1217.6,260.5 1219.4,261.5 1221.1,262.5 1222.8,263.6 1224.6,264.6 1226.3,265.6 1228.0,266.6 1229.8,267.7 1231.5,268.7 1233.2,269.7 1235.0,270.7 1236.7,271.7 1238.5,272.7 1240.2,273.8 1241.9,274.8 1243.7,275.8 1245.4,276.8 1247.2,277.8 1248.9,278.8 1250.7,279.8 1252.4,280.8 1254.2,281.7 1255.9,282.7 1257.7,283.7 1259.4,284.7 1261.2,285.6 1263.0,286.6 1264.7,287.6 1266.5,288.5 1268.2,289.5 1270.0,290.4 1271.8,291.4 1273.6,292.3 1275.3,293.3 1277.1,294.2 1278.9,295.2 1280.7,296.1 1282.5,297.0 1284.2,297.9 1286.0,298.8 1287.8,299.7 1289.6,300.6 1291.4,301.5 1293.2,302.4 1295.0,303.3 1296.8,304.2 1298.6,305.1 1300.4,306.0 1302.2,306.8 1304.0,307.7 1305.9,308.5 1307.7,309.4 1309.5,310.2 1311.3,311.1 1313.2,311.9 1315.0,312.7 1316.8,313.6 1318.7,314.4 1320.5,315.2 1322.3,316.0 1324.2,316.8 1326.0,317.6 1327.9,318.3 1329.7,319.1 1331.6,319.9 1333.4,320.7 1335.3,321.4 1337.2,322.2 1339.0,322.9 1340.9,323.7 1342.7,324.4 1344.6,325.2 1346.5,325.9 1348.4,326.6 1350.2,327.3 1352.1,328.0 1354.0,328.7 1355.9,329.4 1357.8,330.1 1359.6,330.8 1361.5,331.5 1363.4,332.2 1365.3,332.9 1367.2,333.5 1369.1,334.2 1371.0,334.9 1372.9,335.5 1374.8,336.2 1376.7,336.8 1378.6,337.5 1380.5,338.1 1382.4,338.7 1384.3,339.4 1386.2,340.0 1388.1,340.6 1390.0,341.2 1391.9,341.8 1393.9,342.4 1395.8,343.0 1397.7,343.6 1399.6,344.2 1401.5,344.8 1403.4,345.4 1405.4,346.0 1407.3,346.5 1409.2,347.1 1411.1,347.7 1413.1,348.2 1415.0,348.8 1416.9,349.4 1418.9,349.9 1420.8,350.4 1422.7,351.0 1424.7,351.5 1426.6,352.1 1428.5,352.6 1430.5,353.1 1432.4,353.6 1434.3,354.1 1436.3,354.7 1438.2,355.2 1440.2,355.7 1442.1,356.2 1444.1,356.7 1446.0,357.2 1447.9,357.6 1449.9,358.1 1451.8,358.6 1453.8,359.1 1455.7,359.6 1457.7,360.0 1459.6,360.5 1461.6,361.0 1463.5,361.4 1465.5,361.9 1467.5,362.3 1469.4,362.8 1471.4,363.2 1473.3,363.7 1475.3,364.1 1477.2,364.6 1479.2,365.0 1481.2,365.4 1483.1,365.8 1485.1,366.3 1487.0,366.7 1489.0,367.1 1491.0,367.5 1492.9,367.9 1494.9,368.3 1496.9,368.8 1498.8,369.2 1500.8,369.6 1502.8,369.9 1504.7,370.3 1506.7,370.7 1508.7,371.1 1510.6,371.5 1512.6,371.9 1514.6,372.3 1516.5,372.6 1518.5,373.0 1520.5,373.4 1522.5,373.8 1524.4,374.1 1526.4,374.5 1528.4,374.9 1530.4,375.2 1532.3,375.6 1534.3,375.9 1534.3,378.5 1532.3,378.1 1530.4,377.8 1528.4,377.5 1526.4,377.1 1524.4,376.8 1522.5,376.4 1520.5,376.1 1518.5,375.7 1516.5,375.3 1514.6,375.0 1512.6,374.6 1510.6,374.3 1508.7,373.9 1506.7,373.5 1504.7,373.1 1502.8,372.8 1500.8,372.4 1498.8,372.0 1496.9,371.6 1494.9,371.2 1492.9,370.8 1491.0,370.4 1489.0,370.0 1487.0,369.6 1485.1,369.2 1483.1,368.8 1481.2,368.4 1479.2,368.0 1477.2,367.6 1475.3,367.2 1473.3,366.8 1471.4,366.3 1469.4,365.9 1467.5,365.5 1465.5,365.0 1463.5,364.6 1461.6,364.1 1459.6,363.7 1457.7,363.2 1455.7,362.8 1453.8,362.3 1451.8,361.9 1449.9,361.4 1447.9,360.9 1446.0,360.5 1444.1,360.0 1442.1,359.5 1440.2,359.0 1438.2,358.5 1436.3,358.0 1434.3,357.5 1432.4,357.0 1430.5,356.5 1428.5,356.0 1426.6,355.5 1424.7,355.0 1422.7,354.5 1420.8,354.0 1418.9,353.4 1416.9,352.9 1415.0,352.4 1413.1,351.8 1411.1,351.3 1409.2,350.7 1407.3,350.2 1405.4,349.6 1403.4,349.1 1401.5,348.5 1399.6,347.9 1397.7,347.4 1395.8,346.8 1393.9,346.2 1391.9,345.6 1390.0,345.0 1388.1,344.4 1386.2,343.8 1384.3,343.2 1382.4,342.6 1380.5,342.0 1378.6,341.4 1376.7,340.7 1374.8,340.1 1372.9,339.5 1371.0,338.8 1369.1,338.2 1367.2,337.5 1365.3,336.9 1363.4,336.2 1361.5,335.6 1359.6,334.9 1357.8,334.2 1355.9,333.5 1354.0,332.8 1352.1,332.2 1350.2,331.5 1348.4,330.8 1346.5,330.0 1344.6,329.3 1342.7,328.6 1340.9,327.9 1339.0,327.2 1337.2,326.4 1335.3,325.7 1333.4,324.9 1331.6,324.2 1329.7,323.4 1327.9,322.7 1326.0,321.9 1324.2,321.1 1322.3,320.4 1320.5,319.6 1318.7,318.8 1316.8,318.0 1315.0,317.2 1313.2,316.4 1311.3,315.5 1309.5,314.7 1307.7,313.9 1305.9,313.1 1304.0,312.2 1302.2,311.4 1300.4,310.5 1298.6,309.7 1296.8,308.8 1295.0,307.9 1293.2,307.1 1291.4,306.2 1289.6,305.3 1287.8,304.4 1286.0,303.5 1284.2,302.6 1282.5,301.7 1280.7,300.8 1278.9,299.9 1277.1,299.0 1275.3,298.1 1273.6,297.1 1271.8,296.2 1270.0,295.3 1268.2,294.3 1266.5,293.4 1264.7,292.5 1263.0,291.5 1261.2,290.6 1259.4,289.6 1257.7,288.6 1255.9,287.7 1254.2,286.7 1252.4,285.7 1250.7,284.8 1248.9,283.8 1247.2,282.8 1245.4,281.9 1243.7,280.9 1241.9,279.9 1240.2,279.0 1238.5,278.0 1236.7,277.0 1235.0,276.0 1233.2,275.0 1231.5,274.0 1229.8,273.1 1228.0,272.1 1226.3,271.1 1224.6,270.1 1222.8,269.1 1221.1,268.1 1219.4,267.1 1217.6,266.1 1215.9,265.1 1214.2,264.1 1212.5,263.1 1210.7,262.1 1209.0,261.1 1207.3,260.1 1205.5,259.1 1203.8,258.1 1202.1,257.1 1200.4,256.1 1198.6,255.1 1196.9,254.1 1195.2,253.1 1193.4,252.1 1191.7,251.1 1190.0,250.1 1188.3,249.1 1186.5,248.1 1184.8,247.2 1183.1,246.2 1181.3,245.2 1179.6,244.2 1177.9,243.2 1176.1,242.2 1174.4,241.2 1172.7,240.2 1170.9,239.2 1169.2,238.3 1167.4,237.3 1165.7,236.3 1164.0,235.3 1162.2,234.4 1160.5,233.4 1158.7,232.4 1157.0,231.4 1155.2,230.5 1153.5,229.5 1151.7,228.6 1150.0,227.6 1148.2,226.7 1146.5,225.7 1144.7,224.8 1143.0,223.8 1141.2,222.9 1139.4,222.0 1137.7,221.0 1135.9,220.1 1134.1,219.2 1132.3,218.3 1130.5,217.4 1128.7,216.5 1126.9,215.7 1125.1,214.8 1123.3,214.0 1121.5,213.1 1119.7,212.3 1117.9,211.5 1116.0,210.7 1114.2,209.9 1112.4,209.1 1110.5,208.4 1108.7,207.6 1106.8,206.9 1104.9,206.2 1103.0,205.5 1101.2,204.9 1099.3,204.2 1097.4,203.6 1095.4,203.0 1093.5,202.4 1091.6,201.9 1089.7,201.3 1087.7,200.8 1085.8,200.4 1083.8,199.9 1081.9,199.5 1079.9,199.1 1077.9,198.8 1075.9,198.5 1074.0,198.2 1072.0,198.0 1070.0,197.8 1068.0,197.6 1066.0,197.5 1064.0,197.5 1062.0,197.4 1060.0,197.5 1057.9,197.5 1055.9,197.6 1053.9,197.8 1052.0,198.0 1050.0,198.2 1048.0,198.5 1046.0,198.8 1044.0,199.1 1042.1,199.5 1040.1,200.0 1038.1,200.4 1036.2,200.9 1034.3,201.5 1032.4,202.0 1030.4,202.6 1028.5,203.3 1026.7,204.0 1024.8,204.7 1022.9,205.4 1021.1,206.2 1019.2,207.0 1017.4,207.8 1015.6,208.6 1013.8,209.5 1012.0,210.4 1010.2,211.3 1008.4,212.3 1006.7,213.3 1005.0,214.3 1003.2,215.3 1001.5,216.4 999.9,217.5 998.2,218.6 996.5,219.7 994.9,220.8 993.2,222.0 991.6,223.2 990.0,224.4 988.4,225.6 986.9,226.9 985.3,228.1 983.8,229.4 982.2,230.7 980.7,232.0 979.2,233.4 977.8,234.7 976.3,236.1 974.9,237.5 973.4,238.9 972.0,240.3 970.6,241.7 969.2,243.2 967.8,244.6 966.5,246.1 965.1,247.6 963.8,249.1 962.5,250.6 961.2,252.1 959.9,253.7 958.6,255.2 957.3,256.8 956.1,258.3 954.8,259.9 953.6,261.5 952.4,263.1 951.2,264.7 950.0,266.3 948.8,267.9 947.6,269.5 946.5,271.2 945.3,272.8 944.2,274.5 943.1,276.1 941.9,277.8 940.8,279.5 939.7,281.1 938.7,282.8 937.6,284.5 936.5,286.2 935.5,287.9 934.4,289.6 933.4,291.3 932.3,293.0 931.3,294.8 930.3,296.5 929.3,298.2 928.3,299.9 927.3,301.6 926.3,303.3 925.4,305.0 924.4,306.7 923.4,308.4 922.5,310.2 921.5,311.9 920.6,313.6 919.7,315.4 918.7,317.1 917.8,318.8 916.9,320.6 916.0,322.3 915.1,324.1 914.2,325.8 913.3,327.6 912.4,329.3 911.5,331.1 910.7,332.9 909.8,334.6 908.9,336.4 908.0,338.2 907.2,339.9 906.3,341.7 905.5,343.5 904.6,345.2 903.8,347.0 902.9,348.8 902.1,350.6 901.2,352.4 900.4,354.1 899.5,355.9 898.7,357.7 897.9,359.5 897.0,361.3 896.2,363.1 895.3,364.8 894.5,366.6 893.7,368.4 892.8,370.2 892.0,372.0 891.2,373.8 890.4,375.6 889.5,377.4 888.7,379.1 887.9,380.9 887.0,382.7 886.2,384.5 885.4,386.3 884.6,388.1 883.7,389.9 882.9,391.7 882.1,393.5 881.3,395.2 880.4,397.0 879.6,398.8 878.8,400.6 877.9,402.4 877.1,404.2 876.3,406.0 875.4,407.8 874.6,409.7 873.8,411.5 873.0,413.3 872.1,415.1 871.3,416.9 870.4,418.7 869.6,420.5 868.8,422.3 867.9,424.1 867.1,425.9 866.2,427.7 865.4,429.5 864.5,431.2 863.7,433.0 862.8,434.8 862.0,436.6 861.1,438.4 860.3,440.2 859.4,442.0 858.5,443.8 857.7,445.6 856.8,447.4 855.9,449.1 855.1,450.9 854.2,452.7 853.3,454.5 852.4,456.3 851.5,458.0 850.7,459.8 849.8,461.6 848.9,463.4 848.0,465.1 847.1,466.9 846.2,468.7 845.3,470.4 844.3,472.2 843.4,473.9 842.5,475.7 841.6,477.5 840.7,479.2 839.7,481.0 838.8,482.7 837.8,484.5 836.9,486.2 835.9,487.9 835.0,489.7 834.0,491.4 833.1,493.2 832.1,494.9 831.1,496.6 830.1,498.3 829.2,500.1 828.2,501.8 827.2,503.6 826.2,505.3 825.2,507.0 824.2,508.8 823.1,510.5 822.1,512.2 821.1,513.9 820.1,515.7 819.0,517.4 818.0,519.1 816.9,520.8 815.9,522.5 814.8,524.2 813.7,525.9 812.7,527.6 811.6,529.3 810.5,531.0 809.4,532.6 808.3,534.3 807.2,536.0 806.1,537.6 805.0,539.3 803.8,541.0 802.7,542.6 801.6,544.3 800.4,545.9 799.3,547.6 798.1,549.2 796.9,550.8 795.8,552.4 794.6,554.1 793.4,555.7 792.2,557.3 791.0,558.9 789.8,560.5 788.6,562.1 787.3,563.7 786.1,565.2 784.9,566.8 783.6,568.4 782.4,569.9 781.1,571.5 779.8,573.1 778.6,574.6 777.3,576.1 776.0,577.7 774.7,579.2 773.4,580.7 772.0,582.2 770.7,583.7 769.4,585.2 768.0,586.7 766.7,588.2 765.3,589.7 764.0,591.1 762.6,592.6 761.2,594.0 759.8,595.5 758.4,596.9 757.0,598.3 755.6,599.8 754.2,601.2 752.7,602.6 751.3,604.0 749.8,605.3 748.4,606.7 746.9,608.1 745.4,609.4 743.9,610.8 742.4,612.1 740.9,613.4 739.4,614.7 737.9,616.0 736.3,617.3 734.8,618.6 733.2,619.8 731.7,621.1 730.1,622.3 728.5,623.6 726.9,624.8 725.3,626.0 723.7,627.1 722.1,628.3 720.4,629.5 718.8,630.6 717.1,631.7 715.4,632.8 713.8,633.9 712.1,635.0 710.4,636.1 708.7,637.2 707.0,638.2 705.2,639.2 703.5,640.2 701.8,641.2 700.0,642.2 698.3,643.2 696.5,644.1 694.7,645.1 693.0,646.0 691.2,646.9 689.4,647.8 687.6,648.7 685.8,649.6 684.0,650.4 682.1,651.2 680.3,652.1 678.5,652.9 676.7,653.7 674.8,654.5 673.0,655.2 671.1,656.0 669.2,656.8 667.4,657.5 665.5,658.2 663.6,658.9 661.8,659.6 659.9,660.3 658.0,661.0 656.1,661.6 654.2,662.3 652.3,662.9 650.4,663.5 648.5,664.2 646.6,664.8 644.7,665.4 642.7,665.9 640.8,666.5 638.9,667.1 637.0,667.6 635.0,668.1 633.1,668.7 631.2,669.2 629.2,669.7 627.3,670.2 625.3,670.7 623.4,671.2 621.4,671.6 619.5,672.1 617.5,672.5 615.6,673.0 613.6,673.4 611.7,673.8 609.7,674.3 607.7,674.7 605.8,675.1 603.8,675.5 601.8,675.9 599.9,676.2 597.9,676.6 595.9,677.0 594.0,677.3 592.0,677.7 590.0,678.0 588.0,678.4 586.1,678.7 584.1,679.0 582.1,679.3 580.1,679.6 578.1,679.9 576.2,680.2 574.2,680.5 572.2,680.8 570.2,681.1 568.2,681.4 566.2,681.7 564.2,681.9 562.3,682.2 560.3,682.5 558.3,682.7 556.3,683.0 554.3,683.2 552.3,683.5 550.3,683.7 548.3,684.0 546.3,684.2 544.4,684.4 542.4,684.6 540.4,684.9 538.4,685.1 536.4,685.3 534.4,685.5 532.4,685.7 530.4,685.9 528.4,686.2 526.4,686.4 524.4,686.6 522.4,686.8 520.4,687.0 518.4,687.2 516.4,687.4 514.4,687.6 512.5,687.8 510.5,687.9 508.5,688.1 506.5,688.3 504.5,688.5 502.5,688.7 500.5,688.9 498.5,689.1 496.5,689.3 494.5,689.5 492.5,689.7 490.5,689.8 488.5,690.0 486.5,690.2 484.5,690.4 482.5,690.6 480.5,690.8 478.5,691.0 476.5,691.2 474.5,691.4 472.5,691.6 470.5,691.8 468.6,692.0 466.6,692.2 464.6,692.4 462.6,692.6 460.6,692.8 458.6,693.0 456.6,693.2 454.6,693.4 452.6,693.6 450.6,693.8 448.6,694.1 446.6,694.3 444.6,694.5 442.6,694.7 440.6,695.0 438.7,695.2 436.7,695.4 434.7,695.7 432.7,695.9 430.7,696.2 428.7,696.4 426.7,696.7 424.7,696.9 422.7,697.2 420.8,697.5 418.8,697.7 416.8,698.0 414.8,698.3 412.8,698.6 410.8,698.9 408.9,699.2 406.9,699.5 404.9,699.8 402.9,700.1 400.9,700.4 399.0,700.8 397.0,701.1 395.0,701.4 393.0,701.8 391.1,702.1 389.1,702.5 387.1,702.8 385.1,703.2 383.2,703.6 381.2,704.0 379.2,704.4 377.3,704.8 375.3,705.2 373.3,705.6 371.4,706.0 369.4,706.4 367.5,706.9 365.5,707.3 363.6,707.8 361.6,708.3 359.7,708.7 357.7,709.2 355.8,709.7 353.8,710.2 351.9,710.7 350.0,711.2 348.0,711.7 346.1,712.3 344.2,712.8 342.2,713.4 340.3,713.9 338.4,714.5 336.5,715.1 334.6,715.7 332.6,716.3 330.7,716.9 328.8,717.5 326.9,718.2 325.0,718.8 323.1,719.5 321.3,720.1 319.4,720.8 317.5,721.5 315.6,722.2 313.7,722.9 311.9,723.6 310.0,724.4Z" fill="#ff00ff" stroke="#ff00ff" stroke-width="4.4" stroke-linejoin="round"/>
<path d="M1534.3,377.6 1532.4,378.2 1530.5,378.8 1528.6,379.4 1526.6,379.9 1524.7,380.5 1522.8,381.1 1520.9,381.7 1519.0,382.2 1517.0,382.8 1515.1,383.3 1513.2,383.9 1511.3,384.4 1509.3,385.0 1507.4,385.5 1505.5,386.1 1503.5,386.6 1501.6,387.1 1499.7,387.6 1497.7,388.2 1495.8,388.7 1493.9,389.2 1491.9,389.7 1490.0,390.2 1488.1,390.7 1486.1,391.2 1484.2,391.7 1482.2,392.2 1480.3,392.7 1478.3,393.2 1476.4,393.7 1474.5,394.2 1472.5,394.7 1470.6,395.1 1468.6,395.6 1466.7,396.1 1464.7,396.5 1462.8,397.0 1460.8,397.5 1458.9,397.9 1456.9,398.4 1455.0,398.8 1453.0,399.3 1451.1,399.7 1449.1,400.2 1447.2,400.6 1445.2,401.0 1443.2,401.5 1441.3,401.9 1439.3,402.3 1437.4,402.7 1435.4,403.2 1433.5,403.6 1431.5,404.0 1429.5,404.4 1427.6,404.8 1425.6,405.2 1423.7,405.7 1421.7,406.1 1419.7,406.5 1417.8,406.9 1415.8,407.3 1413.8,407.7 1411.9,408.0 1409.9,408.4 1407.9,408.8 1406.0,409.2 1404.0,409.6 1402.0,410.0 1400.1,410.4 1398.1,410.7 1396.1,411.1 1394.2,411.5 1392.2,411.9 1390.2,412.2 1388.3,412.6 1386.3,413.0 1384.3,413.3 1382.4,413.7 1380.4,414.0 1378.4,414.4 1376.5,414.8 1374.5,415.1 1372.5,415.5 1370.5,415.8 1368.6,416.2 1366.6,416.5 1364.6,416.9 1362.6,417.2 1360.7,417.6 1358.7,417.9 1356.7,418.3 1354.8,418.6 1352.8,418.9 1350.8,419.3 1348.8,419.6 1346.9,420.0 1344.9,420.3 1342.9,420.6 1340.9,421.0 1339.0,421.3 1337.0,421.6 1335.0,422.0 1333.0,422.3 1331.1,422.6 1329.1,422.9 1327.1,423.3 1325.1,423.6 1323.1,423.9 1321.2,424.3 1319.2,424.6 1317.2,424.9 1315.2,425.2 1313.3,425.6 1311.3,425.9 1309.3,426.2 1307.3,426.5 1305.4,426.8 1303.4,427.2 1301.4,427.5 1299.4,427.8 1297.4,428.1 1295.5,428.5 1293.5,428.8 1291.5,429.1 1289.5,429.4 1287.6,429.8 1285.6,430.1 1283.6,430.4 1281.6,430.8 1279.7,431.1 1277.7,431.4 1275.7,431.8 1273.7,432.1 1271.8,432.4 1269.8,432.8 1267.8,433.1 1265.8,433.5 1263.9,433.8 1261.9,434.2 1259.9,434.5 1258.0,434.9 1256.0,435.2 1254.0,435.6 1252.0,436.0 1250.1,436.3 1248.1,436.7 1246.1,437.1 1244.2,437.5 1242.2,437.8 1240.2,438.2 1238.3,438.6 1236.3,439.0 1234.3,439.4 1232.4,439.8 1230.4,440.2 1228.5,440.6 1226.5,441.0 1224.5,441.4 1222.6,441.9 1220.6,442.3 1218.7,442.7 1216.7,443.2 1214.8,443.6 1212.8,444.1 1210.9,444.5 1208.9,445.0 1207.0,445.4 1205.0,445.9 1203.1,446.4 1201.1,446.9 1199.2,447.3 1197.2,447.8 1195.3,448.3 1193.4,448.8 1191.4,449.4 1189.5,449.9 1187.5,450.4 1185.6,450.9 1183.7,451.5 1181.8,452.0 1179.8,452.6 1177.9,453.2 1176.0,453.7 1174.1,454.3 1172.2,454.9 1170.2,455.5 1168.3,456.1 1166.4,456.7 1164.5,457.3 1162.6,457.9 1160.7,458.6 1158.8,459.2 1156.9,459.9 1155.0,460.5 1153.2,461.2 1151.3,461.9 1149.4,462.6 1147.5,463.3 1145.6,464.0 1143.8,464.7 1141.9,465.5 1140.0,466.2 1138.2,466.9 1136.3,467.7 1134.5,468.5 1132.6,469.3 1130.8,470.0 1129.0,470.9 1127.1,471.7 1125.3,472.5 1123.5,473.3 1121.7,474.2 1119.9,475.0 1118.1,475.9 1116.3,476.8 1114.5,477.7 1112.7,478.6 1110.9,479.5 1109.1,480.4 1107.3,481.4 1105.6,482.3 1103.8,483.3 1102.1,484.2 1100.3,485.2 1098.6,486.2 1096.9,487.2 1095.1,488.2 1093.4,489.3 1091.7,490.3 1090.0,491.4 1088.3,492.4 1086.6,493.5 1084.9,494.6 1083.2,495.7 1081.6,496.8 1079.9,497.9 1078.2,499.0 1076.6,500.1 1074.9,501.3 1073.3,502.4 1071.7,503.6 1070.1,504.8 1068.4,506.0 1066.8,507.1 1065.2,508.4 1063.6,509.6 1062.0,510.8 1060.5,512.0 1058.9,513.3 1057.3,514.5 1055.8,515.8 1054.2,517.0 1052.7,518.3 1051.1,519.6 1049.6,520.9 1048.1,522.2 1046.6,523.5 1045.0,524.8 1043.5,526.1 1042.0,527.5 1040.6,528.8 1039.1,530.2 1037.6,531.5 1036.1,532.9 1034.7,534.3 1033.2,535.6 1031.8,537.0 1030.4,538.4 1028.9,539.8 1027.5,541.2 1026.1,542.7 1024.7,544.1 1023.3,545.5 1021.9,547.0 1020.5,548.4 1019.2,549.9 1017.8,551.3 1016.4,552.8 1015.1,554.3 1013.7,555.8 1012.4,557.3 1011.1,558.8 1009.7,560.3 1008.4,561.8 1007.1,563.3 1005.8,564.8 1004.5,566.4 1003.2,567.9 1002.0,569.4 1000.7,571.0 999.4,572.5 998.2,574.1 996.9,575.7 995.7,577.2 994.4,578.8 993.2,580.4 992.0,582.0 990.8,583.6 989.6,585.2 988.4,586.8 987.2,588.4 986.0,590.0 984.8,591.7 983.7,593.3 982.5,594.9 981.4,596.6 980.2,598.2 979.1,599.9 978.0,601.5 976.8,603.2 975.7,604.8 974.6,606.5 973.5,608.2 972.4,609.9 971.3,611.5 970.3,613.2 969.2,614.9 968.1,616.6 967.1,618.3 966.0,620.0 965.0,621.7 964.0,623.5 962.9,625.2 961.9,626.9 960.9,628.6 959.9,630.4 958.9,632.1 957.9,633.8 956.9,635.6 955.9,637.3 955.0,639.1 954.0,640.9 953.1,642.6 952.1,644.4 951.2,646.1 950.2,647.9 949.3,649.7 948.4,651.5 947.5,653.3 946.6,655.0 945.7,656.8 944.8,658.6 943.9,660.4 943.0,662.2 942.1,664.0 941.3,665.8 940.4,667.6 939.6,669.5 938.7,671.3 937.9,673.1 937.0,674.9 936.2,676.7 935.4,678.5 934.5,680.4 933.7,682.2 932.9,684.0 932.1,685.9 931.3,687.7 930.5,689.5 929.7,691.4 928.9,693.2 928.1,695.1 927.3,696.9 926.6,698.8 925.8,700.6 925.0,702.4 924.3,704.3 923.5,706.2 922.7,708.0 922.0,709.9 921.2,711.7 920.5,713.6 919.7,715.4 919.0,717.3 918.3,719.2 917.5,721.0 916.8,722.9 916.1,724.8 915.4,726.6 914.6,728.5 913.9,730.4 913.2,732.2 912.5,734.1 911.8,736.0 911.1,737.9 910.4,739.7 909.7,741.6 909.0,743.5 908.3,745.4 907.6,747.3 906.9,749.1 906.2,751.0 905.5,752.9 904.8,754.8 904.1,756.7 903.4,758.5 902.7,760.4 902.1,762.3 901.4,764.2 900.7,766.1 900.0,767.9 899.3,769.8 898.6,771.7 898.0,773.6 897.3,775.5 896.6,777.4 895.9,779.3 895.3,781.1 894.6,783.0 893.9,784.9 893.2,786.8 892.5,788.7 891.9,790.6 891.2,792.4 890.5,794.3 889.8,796.2 889.1,798.1 888.4,800.0 887.8,801.9 887.1,803.7 886.4,805.6 885.7,807.5 885.0,809.4 884.3,811.3 883.6,813.2 882.9,815.0 882.2,816.9 881.5,818.8 880.8,820.7 880.1,822.5 879.4,824.4 878.7,826.3 878.0,828.2 877.3,830.0 876.6,831.9 875.9,833.8 875.2,835.6 874.4,837.5 873.7,839.4 873.0,841.2 872.2,843.1 871.5,845.0 870.8,846.8 870.0,848.7 869.3,850.6 868.5,852.4 867.8,854.3 867.0,856.1 866.2,858.0 865.5,859.8 864.7,861.7 863.9,863.5 863.1,865.4 862.3,867.2 861.6,869.0 860.8,870.9 860.0,872.7 859.1,874.5 858.3,876.4 857.5,878.2 856.7,880.0 855.9,881.9 855.1,883.7 854.2,885.5 853.4,887.3 852.6,889.2 851.7,891.0 850.9,892.8 850.1,894.6 849.2,896.4 848.4,898.3 847.6,900.1 846.7,901.9 845.9,903.7 845.0,905.5 844.2,907.4 843.4,909.2 842.5,911.0 841.7,912.8 840.8,914.6 840.0,916.5 839.2,918.3 838.3,920.1 837.5,921.9 836.7,923.8 835.9,925.6 835.0,927.4 834.2,929.2 833.4,931.1 832.6,932.9 831.8,934.7 831.0,936.6 830.2,938.4 829.4,940.2 828.6,942.1 827.8,943.9 827.0,945.7 826.2,947.6 825.4,949.4 824.7,951.3 823.9,953.1 823.1,955.0 822.4,956.8 821.6,958.7 820.9,960.6 820.1,962.4 819.4,964.3 818.6,966.1 817.9,968.0 817.2,969.9 816.4,971.7 815.7,973.6 814.9,975.5 814.2,977.3 813.4,979.2 812.7,981.0 811.9,982.9 811.1,984.7 810.3,986.5 809.5,988.4 808.6,990.2 807.8,992.0 806.9,993.8 806.0,995.6 805.1,997.4 804.1,999.1 803.1,1000.9 802.1,1002.6 801.0,1004.3 799.9,1005.9 798.8,1007.6 797.6,1009.2 796.4,1010.8 795.1,1012.4 793.8,1013.9 792.4,1015.3 791.0,1016.8 789.6,1018.1 788.0,1019.4 786.5,1020.7 784.9,1021.9 783.2,1023.0 781.5,1024.0 779.7,1024.9 777.9,1025.8 776.0,1026.6 774.1,1027.2 772.2,1027.7 770.2,1028.1 768.2,1028.2 766.2,1028.2 764.3,1028.0 762.3,1027.6 760.4,1027.0 758.5,1026.3 756.7,1025.4 755.0,1024.4 753.3,1023.2 751.8,1022.0 750.2,1020.7 748.8,1019.4 747.4,1017.9 746.0,1016.5 744.7,1015.0 743.4,1013.4 742.2,1011.8 740.9,1010.3 739.7,1008.7 738.5,1007.0 737.4,1005.4 736.2,1003.8 735.0,1002.2 733.9,1000.5 732.7,998.9 731.6,997.2 730.5,995.6 729.4,993.9 728.3,992.2 727.2,990.6 726.1,988.9 725.0,987.2 723.9,985.5 722.9,983.8 721.8,982.1 720.7,980.4 719.7,978.7 718.6,977.0 717.6,975.3 716.6,973.6 715.5,971.9 714.5,970.1 713.5,968.4 712.5,966.7 711.4,965.0 710.4,963.2 709.4,961.5 708.4,959.8 707.4,958.1 706.3,956.4 705.3,954.6 704.3,952.9 703.3,951.2 702.2,949.5 701.2,947.8 700.2,946.0 699.1,944.3 698.1,942.6 697.0,940.9 696.0,939.2 694.9,937.5 693.8,935.8 692.7,934.1 691.6,932.5 690.5,930.8 689.4,929.1 688.3,927.5 687.2,925.8 686.1,924.1 684.9,922.5 683.8,920.9 682.6,919.2 681.5,917.6 680.3,916.0 679.1,914.3 677.9,912.7 676.7,911.1 675.5,909.5 674.3,907.9 673.1,906.3 671.9,904.8 670.6,903.2 669.4,901.6 668.1,900.1 666.9,898.5 665.6,897.0 664.3,895.4 663.0,893.9 661.7,892.3 660.4,890.8 659.1,889.3 657.8,887.8 656.5,886.3 655.2,884.8 653.8,883.3 652.5,881.8 651.1,880.3 649.8,878.9 648.4,877.4 647.0,875.9 645.7,874.5 644.3,873.0 642.9,871.6 641.5,870.2 640.1,868.7 638.6,867.3 637.2,865.9 635.8,864.5 634.3,863.1 632.9,861.7 631.4,860.4 630.0,859.0 628.5,857.6 627.0,856.3 625.6,854.9 624.1,853.6 622.6,852.2 621.1,850.9 619.6,849.6 618.1,848.3 616.5,847.0 615.0,845.7 613.5,844.4 611.9,843.1 610.4,841.9 608.8,840.6 607.3,839.4 605.7,838.1 604.1,836.9 602.5,835.6 600.9,834.4 599.3,833.2 597.7,832.0 596.1,830.8 594.5,829.6 592.9,828.5 591.3,827.3 589.6,826.1 588.0,825.0 586.3,823.9 584.7,822.7 583.0,821.6 581.3,820.5 579.7,819.4 578.0,818.3 576.3,817.2 574.6,816.2 572.9,815.1 571.2,814.1 569.5,813.0 567.8,812.0 566.0,811.0 564.3,810.0 562.6,809.0 560.8,808.0 559.1,807.0 557.3,806.0 555.6,805.0 553.8,804.1 552.1,803.1 550.3,802.2 548.5,801.3 546.7,800.3 545.0,799.4 543.2,798.5 541.4,797.6 539.6,796.7 537.8,795.9 536.0,795.0 534.2,794.1 532.4,793.3 530.5,792.4 528.7,791.6 526.9,790.8 525.1,789.9 523.2,789.1 521.4,788.3 519.6,787.5 517.7,786.7 515.9,786.0 514.0,785.2 512.2,784.4 510.3,783.7 508.5,782.9 506.6,782.2 504.8,781.4 502.9,780.7 501.0,780.0 499.2,779.3 497.3,778.5 495.4,777.8 493.5,777.1 491.6,776.4 489.8,775.8 487.9,775.1 486.0,774.4 484.1,773.7 482.2,773.1 480.3,772.4 478.4,771.8 476.5,771.1 474.6,770.5 472.7,769.9 470.8,769.2 468.9,768.6 467.0,768.0 465.1,767.4 463.2,766.8 461.3,766.2 459.4,765.6 457.5,765.0 455.5,764.4 453.6,763.8 451.7,763.3 449.8,762.7 447.9,762.1 445.9,761.5 444.0,761.0 442.1,760.4 440.2,759.9 438.2,759.3 436.3,758.8 434.4,758.2 432.5,757.7 430.5,757.2 428.6,756.6 426.7,756.1 424.7,755.6 422.8,755.1 420.9,754.6 418.9,754.0 417.0,753.5 415.1,753.0 413.1,752.5 411.2,752.0 409.2,751.5 407.3,751.0 405.4,750.5 403.4,750.0 401.5,749.5 399.5,749.0 397.6,748.5 395.6,748.1 393.7,747.6 391.8,747.1 389.8,746.6 387.9,746.1 385.9,745.7 384.0,745.2 382.0,744.7 380.1,744.2 378.1,743.8 376.2,743.3 374.2,742.8 372.3,742.3 370.3,741.9 368.4,741.4 366.5,740.9 364.5,740.5 362.6,740.0 360.6,739.5 358.7,739.1 356.7,738.6 354.8,738.1 352.8,737.7 350.9,737.2 348.9,736.7 347.0,736.3 345.0,735.8 343.1,735.3 341.1,734.9 339.2,734.4 337.2,733.9 335.3,733.5 333.3,733.0 331.4,732.5 329.4,732.1 327.5,731.6 325.6,731.1 323.6,730.6 321.7,730.2 319.7,729.7 317.8,729.2 315.8,728.7 313.9,728.2 311.9,727.7 310.0,727.2 310.0,727.8 311.9,728.2 313.9,728.7 315.8,729.2 317.8,729.7 319.7,730.2 321.7,730.7 323.6,731.1 325.6,731.6 327.5,732.1 329.4,732.6 331.4,733.0 333.3,733.5 335.3,734.0 337.2,734.5 339.2,734.9 341.1,735.4 343.1,735.9 345.0,736.3 347.0,736.8 348.9,737.3 350.9,737.7 352.8,738.2 354.8,738.7 356.7,739.1 358.7,739.6 360.6,740.1 362.6,740.5 364.5,741.0 366.5,741.5 368.4,741.9 370.3,742.4 372.3,742.9 374.2,743.3 376.2,743.8 378.1,744.3 380.1,744.8 382.0,745.2 384.0,745.7 385.9,746.2 387.9,746.7 389.8,747.1 391.8,747.6 393.7,748.1 395.6,748.6 397.6,749.1 399.5,749.6 401.5,750.1 403.4,750.5 405.4,751.0 407.3,751.5 409.2,752.0 411.2,752.5 413.1,753.0 415.1,753.5 417.0,754.1 418.9,754.6 420.9,755.1 422.8,755.6 424.7,756.1 426.7,756.6 428.6,757.2 430.5,757.7 432.5,758.2 434.4,758.8 436.3,759.3 438.2,759.9 440.2,760.4 442.1,761.0 444.0,761.5 445.9,762.1 447.9,762.6 449.8,763.2 451.7,763.8 453.6,764.4 455.5,764.9 457.5,765.5 459.4,766.1 461.3,766.7 463.2,767.3 465.1,767.9 467.0,768.5 468.9,769.2 470.8,769.8 472.7,770.4 474.6,771.0 476.5,771.7 478.4,772.3 480.3,773.0 482.2,773.6 484.1,774.3 486.0,775.0 487.9,775.6 489.8,776.3 491.6,777.0 493.5,777.7 495.4,778.4 497.3,779.1 499.2,779.8 501.0,780.5 502.9,781.2 504.8,782.0 506.6,782.7 508.5,783.5 510.3,784.2 512.2,785.0 514.0,785.7 515.9,786.5 517.7,787.3 519.6,788.1 521.4,788.9 523.2,789.7 525.1,790.5 526.9,791.3 528.7,792.2 530.5,793.0 532.4,793.8 534.2,794.7 536.0,795.6 537.8,796.4 539.6,797.3 541.4,798.2 543.2,799.1 545.0,800.0 546.7,800.9 548.5,801.8 550.3,802.8 552.1,803.7 553.8,804.6 555.6,805.6 557.3,806.6 559.1,807.5 560.8,808.5 562.6,809.5 564.3,810.5 566.0,811.5 567.8,812.6 569.5,813.6 571.2,814.6 572.9,815.7 574.6,816.7 576.3,817.8 578.0,818.9 579.7,820.0 581.3,821.1 583.0,822.2 584.7,823.3 586.3,824.4 588.0,825.6 589.6,826.7 591.3,827.9 592.9,829.0 594.5,830.2 596.1,831.4 597.7,832.6 599.3,833.8 600.9,835.0 602.5,836.2 604.1,837.4 605.7,838.7 607.3,839.9 608.8,841.2 610.4,842.4 611.9,843.7 613.5,845.0 615.0,846.3 616.5,847.6 618.1,848.9 619.6,850.2 621.1,851.5 622.6,852.8 624.1,854.2 625.6,855.5 627.0,856.8 628.5,858.2 630.0,859.6 631.4,860.9 632.9,862.3 634.3,863.7 635.8,865.1 637.2,866.5 638.6,867.9 640.1,869.3 641.5,870.8 642.9,872.2 644.3,873.6 645.7,875.1 647.0,876.5 648.4,878.0 649.8,879.4 651.1,880.9 652.5,882.4 653.8,883.9 655.2,885.4 656.5,886.9 657.8,888.4 659.1,889.9 660.4,891.4 661.7,892.9 663.0,894.5 664.3,896.0 665.6,897.5 666.9,899.1 668.1,900.6 669.4,902.2 670.6,903.8 671.9,905.4 673.1,906.9 674.3,908.5 675.5,910.1 676.7,911.7 677.9,913.3 679.1,914.9 680.3,916.6 681.5,918.2 682.6,919.8 683.8,921.4 684.9,923.1 686.1,924.7 687.2,926.4 688.3,928.0 689.4,929.7 690.5,931.4 691.6,933.1 692.7,934.7 693.8,936.4 694.9,938.1 696.0,939.8 697.0,941.5 698.1,943.2 699.1,944.9 700.2,946.6 701.2,948.4 702.2,950.1 703.3,951.8 704.3,953.5 705.3,955.2 706.3,956.9 707.4,958.7 708.4,960.4 709.4,962.1 710.4,963.8 711.4,965.6 712.5,967.3 713.5,969.0 714.5,970.7 715.5,972.5 716.6,974.2 717.6,975.9 718.6,977.6 719.7,979.3 720.7,981.0 721.8,982.7 722.9,984.4 723.9,986.1 725.0,987.8 726.1,989.5 727.2,991.2 728.3,992.8 729.4,994.5 730.5,996.2 731.6,997.8 732.7,999.5 733.9,1001.1 735.0,1002.8 736.2,1004.4 737.4,1006.0 738.5,1007.7 739.7,1009.3 740.9,1010.9 742.2,1012.5 743.4,1014.0 744.7,1015.6 746.0,1017.1 747.4,1018.5 748.8,1020.0 750.2,1021.3 751.8,1022.6 753.3,1023.9 755.0,1025.0 756.7,1026.0 758.5,1026.9 760.4,1027.6 762.3,1028.2 764.3,1028.6 766.2,1028.9 768.2,1028.9 770.2,1028.7 772.2,1028.3 774.1,1027.8 776.0,1027.2 777.9,1026.4 779.7,1025.6 781.5,1024.6 783.2,1023.6 784.9,1022.5 786.5,1021.3 788.0,1020.0 789.6,1018.7 791.0,1017.4 792.4,1016.0 793.8,1014.5 795.1,1013.0 796.4,1011.4 797.6,1009.8 798.8,1008.2 799.9,1006.6 801.0,1004.9 802.1,1003.2 803.1,1001.5 804.1,999.7 805.1,998.0 806.0,996.2 806.9,994.4 807.8,992.6 808.6,990.8 809.5,989.0 810.3,987.2 811.1,985.3 811.9,983.5 812.7,981.6 813.4,979.8 814.2,977.9 814.9,976.1 815.7,974.2 816.4,972.4 817.2,970.5 817.9,968.6 818.6,966.8 819.4,964.9 820.1,963.0 820.9,961.2 821.6,959.3 822.4,957.5 823.1,955.6 823.9,953.8 824.7,951.9 825.4,950.1 826.2,948.2 827.0,946.4 827.8,944.5 828.6,942.7 829.4,940.9 830.2,939.0 831.0,937.2 831.8,935.4 832.6,933.5 833.4,931.7 834.2,929.9 835.0,928.0 835.9,926.2 836.7,924.4 837.5,922.6 838.3,920.7 839.2,918.9 840.0,917.1 840.8,915.3 841.7,913.5 842.5,911.6 843.4,909.8 844.2,908.0 845.0,906.2 845.9,904.4 846.7,902.5 847.6,900.7 848.4,898.9 849.2,897.1 850.1,895.3 850.9,893.4 851.7,891.6 852.6,889.8 853.4,888.0 854.2,886.2 855.1,884.3 855.9,882.5 856.7,880.7 857.5,878.8 858.3,877.0 859.1,875.2 860.0,873.3 860.8,871.5 861.6,869.7 862.3,867.8 863.1,866.0 863.9,864.2 864.7,862.3 865.5,860.5 866.2,858.6 867.0,856.8 867.8,854.9 868.5,853.1 869.3,851.2 870.0,849.3 870.8,847.5 871.5,845.6 872.2,843.8 873.0,841.9 873.7,840.0 874.4,838.2 875.2,836.3 875.9,834.4 876.6,832.5 877.3,830.7 878.0,828.8 878.7,826.9 879.4,825.1 880.1,823.2 880.8,821.3 881.5,819.4 882.2,817.5 882.9,815.7 883.6,813.8 884.3,811.9 885.0,810.0 885.7,808.2 886.4,806.3 887.1,804.4 887.8,802.5 888.4,800.6 889.1,798.7 889.8,796.9 890.5,795.0 891.2,793.1 891.9,791.2 892.5,789.3 893.2,787.4 893.9,785.6 894.6,783.7 895.3,781.8 895.9,779.9 896.6,778.0 897.3,776.1 898.0,774.2 898.6,772.4 899.3,770.5 900.0,768.6 900.7,766.7 901.4,764.8 902.1,762.9 902.7,761.1 903.4,759.2 904.1,757.3 904.8,755.4 905.5,753.5 906.2,751.7 906.9,749.8 907.6,747.9 908.3,746.0 909.0,744.1 909.7,742.3 910.4,740.4 911.1,738.5 911.8,736.6 912.5,734.8 913.2,732.9 913.9,731.0 914.6,729.2 915.4,727.3 916.1,725.4 916.8,723.6 917.5,721.7 918.3,719.8 919.0,718.0 919.7,716.1 920.5,714.2 921.2,712.4 922.0,710.5 922.7,708.7 923.5,706.8 924.3,705.0 925.0,703.1 925.8,701.3 926.6,699.4 927.3,697.6 928.1,695.7 928.9,693.9 929.7,692.0 930.5,690.2 931.3,688.4 932.1,686.5 932.9,684.7 933.7,682.9 934.5,681.0 935.4,679.2 936.2,677.4 937.0,675.6 937.9,673.7 938.7,671.9 939.6,670.1 940.4,668.3 941.3,666.5 942.1,664.7 943.0,662.9 943.9,661.1 944.8,659.3 945.7,657.5 946.6,655.7 947.5,653.9 948.4,652.1 949.3,650.4 950.2,648.6 951.2,646.8 952.1,645.0 953.1,643.3 954.0,641.5 955.0,639.8 955.9,638.0 956.9,636.2 957.9,634.5 958.9,632.8 959.9,631.0 960.9,629.3 961.9,627.6 962.9,625.8 964.0,624.1 965.0,622.4 966.0,620.7 967.1,619.0 968.1,617.3 969.2,615.6 970.3,613.9 971.3,612.2 972.4,610.5 973.5,608.8 974.6,607.2 975.7,605.5 976.8,603.8 978.0,602.2 979.1,600.5 980.2,598.9 981.4,597.2 982.5,595.6 983.7,594.0 984.8,592.3 986.0,590.7 987.2,589.1 988.4,587.5 989.6,585.9 990.8,584.3 992.0,582.7 993.2,581.1 994.4,579.5 995.7,577.9 996.9,576.3 998.2,574.8 999.4,573.2 1000.7,571.7 1002.0,570.1 1003.2,568.6 1004.5,567.0 1005.8,565.5 1007.1,564.0 1008.4,562.5 1009.7,560.9 1011.1,559.4 1012.4,557.9 1013.7,556.5 1015.1,555.0 1016.4,553.5 1017.8,552.0 1019.2,550.6 1020.5,549.1 1021.9,547.7 1023.3,546.2 1024.7,544.8 1026.1,543.3 1027.5,541.9 1028.9,540.5 1030.4,539.1 1031.8,537.7 1033.2,536.3 1034.7,534.9 1036.1,533.6 1037.6,532.2 1039.1,530.8 1040.6,529.5 1042.0,528.1 1043.5,526.8 1045.0,525.5 1046.6,524.2 1048.1,522.9 1049.6,521.6 1051.1,520.3 1052.7,519.0 1054.2,517.7 1055.8,516.4 1057.3,515.2 1058.9,513.9 1060.5,512.7 1062.0,511.5 1063.6,510.2 1065.2,509.0 1066.8,507.8 1068.4,506.6 1070.1,505.5 1071.7,504.3 1073.3,503.1 1074.9,502.0 1076.6,500.8 1078.2,499.7 1079.9,498.6 1081.6,497.5 1083.2,496.4 1084.9,495.3 1086.6,494.2 1088.3,493.1 1090.0,492.1 1091.7,491.0 1093.4,490.0 1095.1,488.9 1096.9,487.9 1098.6,486.9 1100.3,485.9 1102.1,484.9 1103.8,484.0 1105.6,483.0 1107.3,482.1 1109.1,481.1 1110.9,480.2 1112.7,479.3 1114.5,478.4 1116.3,477.5 1118.1,476.6 1119.9,475.7 1121.7,474.9 1123.5,474.0 1125.3,473.2 1127.1,472.4 1129.0,471.6 1130.8,470.7 1132.6,470.0 1134.5,469.2 1136.3,468.4 1138.2,467.6 1140.0,466.9 1141.9,466.2 1143.8,465.4 1145.6,464.7 1147.5,464.0 1149.4,463.3 1151.3,462.6 1153.2,461.9 1155.0,461.3 1156.9,460.6 1158.8,459.9 1160.7,459.3 1162.6,458.7 1164.5,458.0 1166.4,457.4 1168.3,456.8 1170.2,456.2 1172.2,455.6 1174.1,455.0 1176.0,454.4 1177.9,453.9 1179.8,453.3 1181.8,452.7 1183.7,452.2 1185.6,451.7 1187.5,451.1 1189.5,450.6 1191.4,450.1 1193.4,449.6 1195.3,449.1 1197.2,448.6 1199.2,448.1 1201.1,447.6 1203.1,447.1 1205.0,446.6 1207.0,446.1 1208.9,445.7 1210.9,445.2 1212.8,444.8 1214.8,444.3 1216.7,443.9 1218.7,443.4 1220.6,443.0 1222.6,442.6 1224.5,442.2 1226.5,441.8 1228.5,441.3 1230.4,440.9 1232.4,440.5 1234.3,440.1 1236.3,439.7 1238.3,439.3 1240.2,439.0 1242.2,438.6 1244.2,438.2 1246.1,437.8 1248.1,437.4 1250.1,437.1 1252.0,436.7 1254.0,436.3 1256.0,436.0 1258.0,435.6 1259.9,435.3 1261.9,434.9 1263.9,434.6 1265.8,434.2 1267.8,433.9 1269.8,433.5 1271.8,433.2 1273.7,432.8 1275.7,432.5 1277.7,432.2 1279.7,431.8 1281.6,431.5 1283.6,431.2 1285.6,430.8 1287.6,430.5 1289.5,430.2 1291.5,429.9 1293.5,429.5 1295.5,429.2 1297.4,428.9 1299.4,428.6 1301.4,428.2 1303.4,427.9 1305.4,427.6 1307.3,427.3 1309.3,426.9 1311.3,426.6 1313.3,426.3 1315.2,426.0 1317.2,425.7 1319.2,425.3 1321.2,425.0 1323.1,424.7 1325.1,424.4 1327.1,424.0 1329.1,423.7 1331.1,423.4 1333.0,423.0 1335.0,422.7 1337.0,422.4 1339.0,422.0 1340.9,421.7 1342.9,421.4 1344.9,421.0 1346.9,420.7 1348.8,420.4 1350.8,420.0 1352.8,419.7 1354.8,419.4 1356.7,419.0 1358.7,418.7 1360.7,418.3 1362.6,418.0 1364.6,417.6 1366.6,417.3 1368.6,416.9 1370.5,416.6 1372.5,416.2 1374.5,415.9 1376.5,415.5 1378.4,415.2 1380.4,414.8 1382.4,414.4 1384.3,414.1 1386.3,413.7 1388.3,413.4 1390.2,413.0 1392.2,412.6 1394.2,412.2 1396.1,411.9 1398.1,411.5 1400.1,411.1 1402.0,410.7 1404.0,410.4 1406.0,410.0 1407.9,409.6 1409.9,409.2 1411.9,408.8 1413.8,408.4 1415.8,408.0 1417.8,407.6 1419.7,407.2 1421.7,406.8 1423.7,406.4 1425.6,406.0 1427.6,405.6 1429.5,405.2 1431.5,404.8 1433.5,404.4 1435.4,403.9 1437.4,403.5 1439.3,403.1 1441.3,402.7 1443.2,402.2 1445.2,401.8 1447.2,401.4 1449.1,400.9 1451.1,400.5 1453.0,400.0 1455.0,399.6 1456.9,399.2 1458.9,398.7 1460.8,398.2 1462.8,397.8 1464.7,397.3 1466.7,396.9 1468.6,396.4 1470.6,395.9 1472.5,395.4 1474.5,395.0 1476.4,394.5 1478.3,394.0 1480.3,393.5 1482.2,393.0 1484.2,392.5 1486.1,392.0 1488.1,391.5 1490.0,391.0 1491.9,390.5 1493.9,390.0 1495.8,389.5 1497.7,389.0 1499.7,388.4 1501.6,387.9 1503.5,387.4 1505.5,386.9 1507.4,386.3 1509.3,385.8 1511.3,385.2 1513.2,384.7 1515.1,384.1 1517.0,383.6 1519.0,383.0 1520.9,382.5 1522.8,381.9 1524.7,381.3 1526.6,380.7 1528.6,380.2 1530.5,379.6 1532.4,379.0 1534.3,378.4Z" fill="#ff00ff" stroke="#ff00ff" stroke-width="4.4" stroke-linejoin="round"/>
<path d="M310.0,727.6 311.9,726.9 313.8,726.3 315.6,725.6 317.5,724.9 319.4,724.3 321.3,723.6 323.2,723.0 325.1,722.3 327.0,721.7 328.9,721.1 330.8,720.5 332.8,719.9 334.7,719.3 336.6,718.8 338.5,718.2 340.4,717.6 342.4,717.1 344.3,716.6 346.2,716.0 348.2,715.5 350.1,715.0 352.0,714.5 354.0,714.0 355.9,713.5 357.9,713.0 359.8,712.5 361.8,712.1 363.7,711.6 365.7,711.2 367.6,710.7 369.6,710.3 371.5,709.8 373.5,709.4 375.4,709.0 377.4,708.6 379.4,708.2 381.3,707.8 383.3,707.4 385.2,707.0 387.2,706.6 389.2,706.3 391.1,705.9 393.1,705.5 395.1,705.2 397.1,704.8 399.0,704.5 401.0,704.1 403.0,703.8 405.0,703.5 406.9,703.1 408.9,702.8 410.9,702.5 412.9,702.2 414.8,701.9 416.8,701.6 418.8,701.3 420.8,701.0 422.8,700.7 424.8,700.4 426.7,700.1 428.7,699.9 430.7,699.6 432.7,699.3 434.7,699.0 436.7,698.8 438.6,698.5 440.6,698.2 442.6,698.0 444.6,697.7 446.6,697.5 448.6,697.2 450.6,697.0 452.5,696.7 454.5,696.5 456.5,696.3 458.5,696.0 460.5,695.8 462.5,695.5 464.5,695.3 466.5,695.1 468.5,694.8 470.4,694.6 472.4,694.4 474.4,694.2 476.4,693.9 478.4,693.7 480.4,693.5 482.4,693.3 484.4,693.0 486.4,692.8 488.4,692.6 490.3,692.4 492.3,692.1 494.3,691.9 496.3,691.7 498.3,691.5 500.3,691.2 502.3,691.0 504.3,690.8 506.3,690.6 508.3,690.3 510.2,690.1 512.2,689.9 514.2,689.7 516.2,689.4 518.2,689.2 520.2,689.0 522.2,688.7 524.2,688.5 526.2,688.2 528.1,688.0 530.1,687.8 532.1,687.5 534.1,687.3 536.1,687.0 538.1,686.8 540.1,686.5 542.1,686.3 544.0,686.0 546.0,685.7 548.0,685.5 550.0,685.2 552.0,684.9 554.0,684.6 555.9,684.4 557.9,684.1 559.9,683.8 561.9,683.5 563.9,683.2 565.9,682.9 567.8,682.6 569.8,682.3 571.8,681.9 573.8,681.6 575.7,681.3 577.7,681.0 579.7,680.6 581.7,680.3 583.6,679.9 585.6,679.6 587.6,679.2 589.6,678.9 591.5,678.5 593.5,678.1 595.5,677.7 597.4,677.4 599.4,677.0 601.3,676.6 603.3,676.2 605.3,675.7 607.2,675.3 609.2,674.9 611.1,674.4 613.1,674.0 615.0,673.6 617.0,673.1 618.9,672.6 620.9,672.1 622.8,671.7 624.8,671.2 626.7,670.7 628.6,670.2 630.6,669.6 632.5,669.1 634.4,668.6 636.4,668.0 638.3,667.5 640.2,666.9 642.1,666.3 644.0,665.8 646.0,665.2 647.9,664.6 649.8,663.9 651.7,663.3 653.6,662.7 655.5,662.0 657.4,661.4 659.3,660.7 661.1,660.0 663.0,659.4 664.9,658.7 666.8,657.9 668.6,657.2 670.5,656.5 672.4,655.7 674.2,655.0 676.1,654.2 677.9,653.4 679.7,652.6 681.6,651.8 683.4,651.0 685.2,650.2 687.1,649.4 688.9,648.5 690.7,647.6 692.5,646.8 694.3,645.9 696.1,645.0 697.8,644.0 699.6,643.1 701.4,642.2 703.1,641.2 704.9,640.2 706.6,639.3 708.4,638.3 710.1,637.3 711.8,636.2 713.5,635.2 715.2,634.2 716.9,633.1 718.6,632.0 720.3,630.9 722.0,629.8 723.7,628.7 725.3,627.6 727.0,626.5 728.6,625.3 730.3,624.2 731.9,623.0 733.5,621.8 735.1,620.6 736.7,619.4 738.3,618.2 739.9,617.0 741.4,615.7 743.0,614.5 744.6,613.2 746.1,611.9 747.6,610.6 749.1,609.3 750.7,608.0 752.2,606.7 753.7,605.4 755.1,604.0 756.6,602.6 758.1,601.3 759.5,599.9 761.0,598.5 762.4,597.1 763.8,595.7 765.2,594.3 766.6,592.8 768.0,591.4 769.4,589.9 770.7,588.4 772.1,587.0 773.4,585.5 774.7,584.0 776.1,582.5 777.4,580.9 778.7,579.4 779.9,577.9 781.2,576.3 782.5,574.8 783.7,573.2 784.9,571.6 786.2,570.0 787.4,568.4 788.6,566.8 789.8,565.2 791.0,563.6 792.1,562.0 793.3,560.3 794.4,558.7 795.6,557.1 796.7,555.4 797.8,553.7 798.9,552.1 800.0,550.4 801.1,548.7 802.2,547.0 803.3,545.3 804.3,543.6 805.4,541.9 806.4,540.2 807.5,538.5 808.5,536.8 809.5,535.1 810.5,533.3 811.5,531.6 812.5,529.9 813.5,528.1 814.5,526.4 815.5,524.6 816.4,522.9 817.4,521.1 818.3,519.3 819.3,517.6 820.2,515.8 821.1,514.0 822.1,512.3 823.0,510.5 823.9,508.7 824.8,506.9 825.7,505.1 826.5,503.3 827.4,501.5 828.3,499.7 829.2,497.9 830.0,496.1 830.9,494.3 831.7,492.5 832.6,490.6 833.4,488.8 834.3,487.0 835.1,485.2 835.9,483.4 836.7,481.5 837.5,479.7 838.4,477.9 839.2,476.0 840.0,474.2 840.8,472.4 841.6,470.5 842.3,468.7 843.1,466.8 843.9,465.0 844.7,463.2 845.5,461.3 846.2,459.5 847.0,457.6 847.8,455.8 848.5,453.9 849.3,452.0 850.0,450.2 850.8,448.3 851.5,446.5 852.3,444.6 853.0,442.8 853.8,440.9 854.5,439.0 855.2,437.2 856.0,435.3 856.7,433.4 857.4,431.6 858.2,429.7 858.9,427.8 859.6,426.0 860.4,424.1 861.1,422.2 861.8,420.3 862.5,418.4 863.2,416.5 864.0,414.6 864.7,412.8 865.4,410.9 866.1,409.0 866.8,407.1 867.6,405.2 868.3,403.3 869.0,401.4 869.7,399.5 870.4,397.6 871.1,395.7 871.9,393.8 872.6,391.9 873.3,390.1 874.0,388.2 874.7,386.3 875.5,384.4 876.2,382.5 876.9,380.6 877.7,378.7 878.4,376.8 879.1,374.9 879.9,373.1 880.6,371.2 881.3,369.3 882.1,367.4 882.8,365.5 883.5,363.6 884.3,361.8 885.0,359.9 885.8,358.0 886.5,356.1 887.3,354.2 888.0,352.4 888.8,350.5 889.6,348.6 890.3,346.7 891.1,344.8 891.8,343.0 892.6,341.1 893.4,339.2 894.1,337.4 894.9,335.5 895.7,333.6 896.5,331.7 897.2,329.9 898.0,328.0 898.8,326.1 899.6,324.3 900.4,322.4 901.1,320.5 901.9,318.6 902.7,316.8 903.5,314.9 904.3,313.0 905.1,311.2 905.9,309.3 906.7,307.4 907.5,305.6 908.3,303.7 909.1,301.8 909.9,300.0 910.7,298.1 911.5,296.2 912.3,294.4 913.1,292.5 913.9,290.6 914.7,288.8 915.5,286.9 916.3,285.1 917.2,283.2 918.0,281.3 918.8,279.5 919.6,277.6 920.4,275.8 921.3,273.9 922.1,272.1 922.9,270.2 923.7,268.3 924.5,266.5 925.4,264.6 926.2,262.8 927.0,260.9 927.9,259.1 928.7,257.2 929.5,255.4 930.4,253.5 931.2,251.7 932.0,249.8 932.9,248.0 933.7,246.1 934.5,244.3 935.4,242.4 936.2,240.6 937.1,238.7 937.9,236.9 938.8,235.0 939.6,233.2 940.5,231.3 941.3,229.5 942.2,227.7 943.1,225.9 944.0,224.2 944.9,222.4 945.8,220.6 946.7,218.8 947.7,217.0 948.7,215.3 949.6,213.5 950.6,211.8 951.6,210.1 952.7,208.4 953.7,206.7 954.8,205.0 955.9,203.3 957.0,201.6 958.2,200.0 959.3,198.4 960.5,196.8 961.8,195.2 963.0,193.6 964.3,192.1 965.6,190.6 966.9,189.1 968.3,187.6 969.7,186.1 971.1,184.7 972.5,183.3 974.0,182.0 975.5,180.6 977.0,179.3 978.5,178.0 980.1,176.8 981.7,175.6 983.3,174.4 984.9,173.2 986.6,172.1 988.3,171.1 990.0,170.0 991.8,169.1 993.5,168.1 995.3,167.2 997.1,166.4 999.0,165.6 1000.8,164.8 1002.7,164.1 1004.6,163.4 1006.5,162.8 1008.4,162.3 1010.4,161.8 1012.3,161.4 1014.3,161.0 1016.3,160.7 1018.3,160.5 1020.3,160.3 1022.3,160.2 1024.3,160.1 1026.3,160.2 1028.3,160.2 1030.3,160.4 1032.3,160.6 1034.2,160.9 1036.2,161.2 1038.2,161.6 1040.1,162.1 1042.1,162.6 1044.0,163.2 1045.9,163.8 1047.7,164.5 1049.6,165.3 1051.4,166.1 1053.3,166.9 1055.1,167.8 1056.9,168.7 1058.6,169.6 1060.4,170.6 1062.1,171.6 1063.8,172.6 1065.6,173.6 1067.3,174.7 1068.9,175.8 1070.6,176.9 1072.3,178.0 1073.9,179.1 1075.6,180.3 1077.2,181.4 1078.8,182.6 1080.4,183.8 1082.0,185.0 1083.6,186.2 1085.2,187.4 1086.8,188.6 1088.4,189.8 1090.0,191.1 1091.6,192.3 1093.2,193.6 1094.7,194.8 1096.3,196.1 1097.9,197.3 1099.4,198.6 1101.0,199.9 1102.6,201.1 1104.1,202.4 1105.7,203.6 1107.3,204.9 1108.8,206.2 1110.4,207.4 1112.0,208.7 1113.5,209.9 1115.1,211.2 1116.7,212.4 1118.3,213.7 1119.9,214.9 1121.5,216.1 1123.1,217.4 1124.7,218.6 1126.3,219.8 1127.9,221.0 1129.5,222.2 1131.1,223.4 1132.7,224.6 1134.3,225.8 1135.9,227.0 1137.6,228.2 1139.2,229.4 1140.8,230.6 1142.4,231.8 1144.1,232.9 1145.7,234.1 1147.4,235.3 1149.0,236.4 1150.7,237.6 1152.3,238.7 1154.0,239.9 1155.6,241.0 1157.3,242.1 1158.9,243.3 1160.6,244.4 1162.3,245.5 1164.0,246.6 1165.6,247.7 1167.3,248.8 1169.0,249.9 1170.7,251.0 1172.4,252.1 1174.1,253.2 1175.7,254.3 1177.4,255.4 1179.1,256.5 1180.8,257.5 1182.5,258.6 1184.3,259.7 1186.0,260.7 1187.7,261.8 1189.4,262.8 1191.1,263.9 1192.8,264.9 1194.6,265.9 1196.3,267.0 1198.0,268.0 1199.7,269.0 1201.5,270.0 1203.2,271.1 1205.0,272.1 1206.7,273.1 1208.4,274.1 1210.2,275.1 1211.9,276.1 1213.7,277.0 1215.4,278.0 1217.2,279.0 1219.0,280.0 1220.7,280.9 1222.5,281.9 1224.3,282.9 1226.0,283.8 1227.8,284.8 1229.6,285.7 1231.3,286.7 1233.1,287.6 1234.9,288.5 1236.7,289.5 1238.5,290.4 1240.3,291.3 1242.0,292.2 1243.8,293.1 1245.6,294.0 1247.4,294.9 1249.2,295.8 1251.0,296.7 1252.8,297.6 1254.6,298.5 1256.4,299.3 1258.3,300.2 1260.1,301.1 1261.9,301.9 1263.7,302.8 1265.5,303.6 1267.3,304.5 1269.2,305.3 1271.0,306.1 1272.8,307.0 1274.6,307.8 1276.5,308.6 1278.3,309.4 1280.1,310.2 1282.0,311.0 1283.8,311.8 1285.6,312.6 1287.5,313.4 1289.3,314.2 1291.2,315.0 1293.0,315.8 1294.9,316.6 1296.7,317.3 1298.6,318.1 1300.4,318.9 1302.3,319.6 1304.1,320.4 1306.0,321.1 1307.8,321.9 1309.7,322.6 1311.6,323.4 1313.4,324.1 1315.3,324.8 1317.2,325.6 1319.0,326.3 1320.9,327.0 1322.8,327.7 1324.6,328.4 1326.5,329.1 1328.4,329.8 1330.3,330.5 1332.2,331.2 1334.0,331.9 1335.9,332.6 1337.8,333.3 1339.7,334.0 1341.6,334.6 1343.5,335.3 1345.4,336.0 1347.3,336.6 1349.1,337.3 1351.0,338.0 1352.9,338.6 1354.8,339.3 1356.7,339.9 1358.6,340.5 1360.5,341.2 1362.4,341.8 1364.3,342.4 1366.2,343.0 1368.1,343.7 1370.1,344.3 1372.0,344.9 1373.9,345.5 1375.8,346.1 1377.7,346.7 1379.6,347.3 1381.5,347.9 1383.4,348.5 1385.4,349.1 1387.3,349.6 1389.2,350.2 1391.1,350.8 1393.0,351.4 1395.0,351.9 1396.9,352.5 1398.8,353.1 1400.7,353.6 1402.7,354.2 1404.6,354.7 1406.5,355.3 1408.4,355.8 1410.4,356.3 1412.3,356.9 1414.2,357.4 1416.2,357.9 1418.1,358.4 1420.0,359.0 1422.0,359.5 1423.9,360.0 1425.9,360.5 1427.8,361.0 1429.7,361.5 1431.7,362.0 1433.6,362.5 1435.6,363.0 1437.5,363.5 1439.5,364.0 1441.4,364.4 1443.3,364.9 1445.3,365.4 1447.2,365.9 1449.2,366.3 1451.1,366.8 1453.1,367.2 1455.0,367.7 1457.0,368.2 1458.9,368.6 1460.9,369.0 1462.9,369.5 1464.8,369.9 1466.8,370.4 1468.7,370.8 1470.7,371.2 1472.6,371.7 1474.6,372.1 1476.6,372.5 1478.5,372.9 1480.5,373.3 1482.4,373.7 1484.4,374.2 1486.4,374.6 1488.3,375.0 1490.3,375.4 1492.2,375.8 1494.2,376.1 1496.2,376.5 1498.1,376.9 1500.1,377.3 1502.1,377.7 1504.0,378.1 1506.0,378.4 1508.0,378.8 1510.0,379.2 1511.9,379.5 1513.9,379.9 1515.9,380.3 1517.8,380.6 1519.8,381.0 1521.8,381.3 1523.8,381.7 1525.7,382.0 1527.7,382.4 1529.7,382.7 1531.7,383.0 1533.6,383.4 1535.6,383.7 1535.6,385.7 1533.6,385.4 1531.7,385.1 1529.7,384.7 1527.7,384.4 1525.7,384.1 1523.8,383.8 1521.8,383.4 1519.8,383.1 1517.8,382.7 1515.9,382.4 1513.9,382.0 1511.9,381.7 1510.0,381.3 1508.0,381.0 1506.0,380.6 1504.0,380.2 1502.1,379.9 1500.1,379.5 1498.1,379.1 1496.2,378.8 1494.2,378.4 1492.2,378.0 1490.3,377.6 1488.3,377.2 1486.4,376.8 1484.4,376.4 1482.4,376.0 1480.5,375.6 1478.5,375.2 1476.6,374.8 1474.6,374.4 1472.6,374.0 1470.7,373.6 1468.7,373.2 1466.8,372.7 1464.8,372.3 1462.9,371.9 1460.9,371.5 1458.9,371.0 1457.0,370.6 1455.0,370.1 1453.1,369.7 1451.1,369.2 1449.2,368.8 1447.2,368.3 1445.3,367.9 1443.3,367.4 1441.4,366.9 1439.5,366.5 1437.5,366.0 1435.6,365.5 1433.6,365.0 1431.7,364.6 1429.7,364.1 1427.8,363.6 1425.9,363.1 1423.9,362.6 1422.0,362.1 1420.0,361.6 1418.1,361.1 1416.2,360.6 1414.2,360.0 1412.3,359.5 1410.4,359.0 1408.4,358.5 1406.5,357.9 1404.6,357.4 1402.7,356.9 1400.7,356.3 1398.8,355.8 1396.9,355.2 1395.0,354.7 1393.0,354.1 1391.1,353.6 1389.2,353.0 1387.3,352.4 1385.4,351.9 1383.4,351.3 1381.5,350.7 1379.6,350.1 1377.7,349.5 1375.8,349.0 1373.9,348.4 1372.0,347.8 1370.1,347.2 1368.1,346.6 1366.2,345.9 1364.3,345.3 1362.4,344.7 1360.5,344.1 1358.6,343.5 1356.7,342.8 1354.8,342.2 1352.9,341.6 1351.0,340.9 1349.1,340.3 1347.3,339.6 1345.4,339.0 1343.5,338.3 1341.6,337.7 1339.7,337.0 1337.8,336.3 1335.9,335.7 1334.0,335.0 1332.2,334.3 1330.3,333.6 1328.4,332.9 1326.5,332.2 1324.6,331.6 1322.8,330.8 1320.9,330.1 1319.0,329.4 1317.2,328.7 1315.3,328.0 1313.4,327.3 1311.6,326.6 1309.7,325.8 1307.8,325.1 1306.0,324.4 1304.1,323.6 1302.3,322.9 1300.4,322.1 1298.6,321.4 1296.7,320.6 1294.9,319.8 1293.0,319.1 1291.2,318.3 1289.3,317.5 1287.5,316.7 1285.6,316.0 1283.8,315.2 1282.0,314.4 1280.1,313.6 1278.3,312.8 1276.5,312.0 1274.6,311.2 1272.8,310.3 1271.0,309.5 1269.2,308.7 1267.3,307.9 1265.5,307.0 1263.7,306.2 1261.9,305.4 1260.1,304.5 1258.3,303.7 1256.4,302.8 1254.6,302.0 1252.8,301.1 1251.0,300.2 1249.2,299.4 1247.4,298.5 1245.6,297.6 1243.8,296.8 1242.0,295.9 1240.3,295.0 1238.5,294.1 1236.7,293.2 1234.9,292.3 1233.1,291.4 1231.3,290.5 1229.6,289.6 1227.8,288.7 1226.0,287.8 1224.3,286.9 1222.5,285.9 1220.7,285.0 1219.0,284.1 1217.2,283.1 1215.4,282.2 1213.7,281.2 1211.9,280.3 1210.2,279.3 1208.4,278.4 1206.7,277.4 1205.0,276.4 1203.2,275.4 1201.5,274.5 1199.7,273.5 1198.0,272.5 1196.3,271.5 1194.6,270.5 1192.8,269.5 1191.1,268.5 1189.4,267.5 1187.7,266.4 1186.0,265.4 1184.3,264.4 1182.5,263.4 1180.8,262.3 1179.1,261.3 1177.4,260.2 1175.7,259.2 1174.1,258.1 1172.4,257.1 1170.7,256.0 1169.0,255.0 1167.3,253.9 1165.6,252.8 1164.0,251.7 1162.3,250.6 1160.6,249.6 1158.9,248.5 1157.3,247.4 1155.6,246.3 1154.0,245.2 1152.3,244.0 1150.7,242.9 1149.0,241.8 1147.4,240.7 1145.7,239.5 1144.1,238.4 1142.4,237.3 1140.8,236.1 1139.2,235.0 1137.6,233.8 1135.9,232.7 1134.3,231.5 1132.7,230.3 1131.1,229.2 1129.5,228.0 1127.9,226.8 1126.3,225.6 1124.7,224.4 1123.1,223.3 1121.5,222.1 1119.9,220.9 1118.3,219.6 1116.7,218.4 1115.1,217.2 1113.5,216.0 1112.0,214.8 1110.4,213.6 1108.8,212.3 1107.3,211.1 1105.7,209.9 1104.1,208.6 1102.6,207.4 1101.0,206.1 1099.4,204.9 1097.9,203.7 1096.3,202.4 1094.7,201.2 1093.2,200.0 1091.6,198.8 1090.0,197.6 1088.4,196.3 1086.8,195.1 1085.2,193.9 1083.6,192.7 1082.0,191.5 1080.4,190.3 1078.8,189.1 1077.2,187.9 1075.6,186.8 1073.9,185.6 1072.3,184.5 1070.6,183.4 1068.9,182.3 1067.3,181.2 1065.6,180.1 1063.8,179.1 1062.1,178.1 1060.4,177.1 1058.6,176.1 1056.9,175.2 1055.1,174.3 1053.3,173.4 1051.4,172.6 1049.6,171.8 1047.7,171.0 1045.9,170.3 1044.0,169.7 1042.1,169.1 1040.1,168.6 1038.2,168.1 1036.2,167.7 1034.2,167.4 1032.3,167.1 1030.3,166.9 1028.3,166.7 1026.3,166.7 1024.3,166.6 1022.3,166.7 1020.3,166.8 1018.3,167.0 1016.3,167.2 1014.3,167.5 1012.3,167.9 1010.4,168.3 1008.4,168.8 1006.5,169.3 1004.6,169.9 1002.7,170.6 1000.8,171.3 999.0,172.1 997.1,172.9 995.3,173.7 993.5,174.6 991.8,175.6 990.0,176.5 988.3,177.6 986.6,178.6 984.9,179.7 983.3,180.9 981.7,182.1 980.1,183.3 978.5,184.5 977.0,185.8 975.5,187.1 974.0,188.5 972.5,189.8 971.1,191.2 969.7,192.6 968.3,194.1 966.9,195.6 965.6,197.1 964.3,198.6 963.0,200.1 961.8,201.7 960.5,203.3 959.3,204.9 958.2,206.5 957.0,208.1 955.9,209.8 954.8,211.5 953.7,213.2 952.7,214.9 951.6,216.6 950.6,218.3 949.6,220.0 948.7,221.8 947.7,223.5 946.7,225.3 945.8,227.1 944.9,228.9 944.0,230.7 943.1,232.4 942.2,234.2 941.3,236.0 940.5,237.8 939.6,239.6 938.8,241.4 937.9,243.2 937.1,245.0 936.2,246.8 935.4,248.6 934.5,250.3 933.7,252.1 932.9,253.9 932.0,255.7 931.2,257.5 930.4,259.3 929.5,261.1 928.7,262.9 927.9,264.7 927.0,266.4 926.2,268.2 925.4,270.0 924.5,271.8 923.7,273.6 922.9,275.4 922.1,277.2 921.3,279.0 920.4,280.8 919.6,282.6 918.8,284.4 918.0,286.2 917.2,288.0 916.3,289.8 915.5,291.6 914.7,293.4 913.9,295.2 913.1,297.0 912.3,298.8 911.5,300.6 910.7,302.4 909.9,304.2 909.1,306.0 908.3,307.8 907.5,309.6 906.7,311.4 905.9,313.2 905.1,315.0 904.3,316.9 903.5,318.7 902.7,320.5 901.9,322.3 901.1,324.1 900.4,325.9 899.6,327.7 898.8,329.6 898.0,331.4 897.2,333.2 896.5,335.0 895.7,336.8 894.9,338.7 894.1,340.5 893.4,342.3 892.6,344.1 891.8,346.0 891.1,347.8 890.3,349.6 889.6,351.4 888.8,353.3 888.0,355.1 887.3,356.9 886.5,358.8 885.8,360.6 885.0,362.4 884.3,364.3 883.5,366.1 882.8,367.9 882.1,369.8 881.3,371.6 880.6,373.5 879.9,375.3 879.1,377.1 878.4,379.0 877.7,380.8 876.9,382.7 876.2,384.5 875.5,386.4 874.7,388.2 874.0,390.0 873.3,391.9 872.6,393.7 871.9,395.6 871.1,397.4 870.4,399.3 869.7,401.1 869.0,403.0 868.3,404.8 867.6,406.7 866.8,408.5 866.1,410.4 865.4,412.2 864.7,414.1 864.0,415.9 863.2,417.7 862.5,419.6 861.8,421.4 861.1,423.3 860.4,425.1 859.6,427.0 858.9,428.8 858.2,430.7 857.4,432.6 856.7,434.4 856.0,436.3 855.2,438.2 854.5,440.0 853.8,441.9 853.0,443.7 852.3,445.6 851.5,447.5 850.8,449.3 850.0,451.2 849.3,453.0 848.5,454.9 847.8,456.7 847.0,458.6 846.2,460.4 845.5,462.3 844.7,464.1 843.9,466.0 843.1,467.8 842.3,469.7 841.6,471.5 840.8,473.3 840.0,475.2 839.2,477.0 838.4,478.9 837.5,480.7 836.7,482.5 835.9,484.3 835.1,486.2 834.3,488.0 833.4,489.8 832.6,491.6 831.7,493.4 830.9,495.3 830.0,497.1 829.2,498.9 828.3,500.7 827.4,502.5 826.5,504.3 825.7,506.1 824.8,507.9 823.9,509.6 823.0,511.4 822.1,513.2 821.1,515.0 820.2,516.8 819.3,518.5 818.3,520.3 817.4,522.1 816.4,523.8 815.5,525.6 814.5,527.3 813.5,529.1 812.5,530.8 811.5,532.6 810.5,534.3 809.5,536.0 808.5,537.8 807.5,539.5 806.4,541.2 805.4,542.9 804.3,544.6 803.3,546.3 802.2,548.0 801.1,549.7 800.0,551.3 798.9,553.0 797.8,554.7 796.7,556.3 795.6,558.0 794.4,559.6 793.3,561.3 792.1,562.9 791.0,564.5 789.8,566.2 788.6,567.8 787.4,569.4 786.2,571.0 784.9,572.5 783.7,574.1 782.5,575.7 781.2,577.2 779.9,578.8 778.7,580.3 777.4,581.9 776.1,583.4 774.7,584.9 773.4,586.4 772.1,587.9 770.7,589.4 769.4,590.8 768.0,592.3 766.6,593.7 765.2,595.2 763.8,596.6 762.4,598.0 761.0,599.4 759.5,600.8 758.1,602.2 756.6,603.6 755.1,604.9 753.7,606.3 752.2,607.6 750.7,608.9 749.1,610.2 747.6,611.5 746.1,612.8 744.6,614.1 743.0,615.4 741.4,616.6 739.9,617.9 738.3,619.1 736.7,620.3 735.1,621.5 733.5,622.7 731.9,623.9 730.3,625.1 728.6,626.2 727.0,627.4 725.3,628.5 723.7,629.6 722.0,630.7 720.3,631.8 718.6,632.9 716.9,634.0 715.2,635.0 713.5,636.1 711.8,637.1 710.1,638.1 708.4,639.1 706.6,640.1 704.9,641.1 703.1,642.1 701.4,643.0 699.6,644.0 697.8,644.9 696.1,645.8 694.3,646.7 692.5,647.6 690.7,648.5 688.9,649.3 687.1,650.2 685.2,651.0 683.4,651.9 681.6,652.7 679.7,653.5 677.9,654.3 676.1,655.1 674.2,655.8 672.4,656.6 670.5,657.3 668.6,658.1 666.8,658.8 664.9,659.5 663.0,660.2 661.1,660.9 659.3,661.5 657.4,662.2 655.5,662.9 653.6,663.5 651.7,664.1 649.8,664.8 647.9,665.4 646.0,666.0 644.0,666.6 642.1,667.1 640.2,667.7 638.3,668.3 636.4,668.8 634.4,669.4 632.5,669.9 630.6,670.4 628.6,671.0 626.7,671.5 624.8,672.0 622.8,672.5 620.9,672.9 618.9,673.4 617.0,673.9 615.0,674.3 613.1,674.8 611.1,675.2 609.2,675.7 607.2,676.1 605.3,676.5 603.3,676.9 601.3,677.3 599.4,677.7 597.4,678.1 595.5,678.5 593.5,678.9 591.5,679.3 589.6,679.6 587.6,680.0 585.6,680.4 583.6,680.7 581.7,681.0 579.7,681.4 577.7,681.7 575.7,682.0 573.8,682.4 571.8,682.7 569.8,683.0 567.8,683.3 565.9,683.6 563.9,683.9 561.9,684.2 559.9,684.5 557.9,684.8 555.9,685.1 554.0,685.4 552.0,685.6 550.0,685.9 548.0,686.2 546.0,686.4 544.0,686.7 542.1,687.0 540.1,687.2 538.1,687.5 536.1,687.7 534.1,688.0 532.1,688.2 530.1,688.5 528.1,688.7 526.2,689.0 524.2,689.2 522.2,689.4 520.2,689.7 518.2,689.9 516.2,690.1 514.2,690.4 512.2,690.6 510.2,690.8 508.3,691.0 506.3,691.3 504.3,691.5 502.3,691.7 500.3,691.9 498.3,692.2 496.3,692.4 494.3,692.6 492.3,692.8 490.3,693.0 488.4,693.3 486.4,693.5 484.4,693.7 482.4,693.9 480.4,694.1 478.4,694.4 476.4,694.6 474.4,694.8 472.4,695.0 470.4,695.3 468.5,695.5 466.5,695.7 464.5,696.0 462.5,696.2 460.5,696.4 458.5,696.7 456.5,696.9 454.5,697.1 452.5,697.4 450.6,697.6 448.6,697.9 446.6,698.1 444.6,698.4 442.6,698.6 440.6,698.9 438.6,699.1 436.7,699.4 434.7,699.7 432.7,699.9 430.7,700.2 428.7,700.5 426.7,700.7 424.8,701.0 422.8,701.3 420.8,701.6 418.8,701.9 416.8,702.2 414.8,702.5 412.9,702.8 410.9,703.1 408.9,703.4 406.9,703.7 405.0,704.1 403.0,704.4 401.0,704.7 399.0,705.1 397.1,705.4 395.1,705.8 393.1,706.1 391.1,706.5 389.2,706.8 387.2,707.2 385.2,707.6 383.3,708.0 381.3,708.4 379.4,708.8 377.4,709.2 375.4,709.6 373.5,710.0 371.5,710.4 369.6,710.8 367.6,711.3 365.7,711.7 363.7,712.2 361.8,712.6 359.8,713.1 357.9,713.6 355.9,714.0 354.0,714.5 352.0,715.0 350.1,715.5 348.2,716.0 346.2,716.6 344.3,717.1 342.4,717.6 340.4,718.2 338.5,718.7 336.6,719.3 334.7,719.9 332.8,720.4 330.8,721.0 328.9,721.6 327.0,722.2 325.1,722.9 323.2,723.5 321.3,724.1 319.4,724.8 317.5,725.4 315.6,726.1 313.8,726.8 311.9,727.5 310.0,728.2Z" fill="#0000ff" stroke="#0000ff" stroke-width="4.4" stroke-linejoin="round"/>
<path d="M1535.6,384.3 1533.7,385.0 1531.9,385.7 1530.0,386.5 1528.1,387.2 1526.2,387.8 1524.3,388.5 1522.5,389.2 1520.6,389.9 1518.7,390.5 1516.8,391.2 1514.9,391.8 1513.0,392.4 1511.1,393.0 1509.2,393.7 1507.3,394.3 1505.3,394.8 1503.4,395.4 1501.5,396.0 1499.6,396.6 1497.7,397.1 1495.7,397.7 1493.8,398.2 1491.9,398.8 1490.0,399.3 1488.0,399.8 1486.1,400.3 1484.1,400.8 1482.2,401.3 1480.3,401.8 1478.3,402.3 1476.4,402.8 1474.4,403.3 1472.5,403.7 1470.5,404.2 1468.6,404.6 1466.6,405.1 1464.7,405.5 1462.7,405.9 1460.7,406.4 1458.8,406.8 1456.8,407.2 1454.9,407.6 1452.9,408.0 1450.9,408.4 1449.0,408.8 1447.0,409.2 1445.0,409.5 1443.1,409.9 1441.1,410.3 1439.1,410.6 1437.2,411.0 1435.2,411.3 1433.2,411.7 1431.2,412.0 1429.3,412.4 1427.3,412.7 1425.3,413.0 1423.3,413.4 1421.4,413.7 1419.4,414.0 1417.4,414.3 1415.4,414.6 1413.4,414.9 1411.5,415.2 1409.5,415.5 1407.5,415.8 1405.5,416.1 1403.5,416.4 1401.6,416.6 1399.6,416.9 1397.6,417.2 1395.6,417.5 1393.6,417.7 1391.6,418.0 1389.6,418.3 1387.7,418.5 1385.7,418.8 1383.7,419.0 1381.7,419.3 1379.7,419.6 1377.7,419.8 1375.7,420.0 1373.7,420.3 1371.8,420.5 1369.8,420.8 1367.8,421.0 1365.8,421.3 1363.8,421.5 1361.8,421.7 1359.8,422.0 1357.8,422.2 1355.8,422.4 1353.9,422.7 1351.9,422.9 1349.9,423.1 1347.9,423.3 1345.9,423.6 1343.9,423.8 1341.9,424.0 1339.9,424.3 1337.9,424.5 1335.9,424.7 1333.9,424.9 1332.0,425.2 1330.0,425.4 1328.0,425.6 1326.0,425.8 1324.0,426.1 1322.0,426.3 1320.0,426.5 1318.0,426.8 1316.0,427.0 1314.0,427.2 1312.1,427.5 1310.1,427.7 1308.1,427.9 1306.1,428.2 1304.1,428.4 1302.1,428.6 1300.1,428.9 1298.1,429.1 1296.1,429.4 1294.2,429.6 1292.2,429.9 1290.2,430.1 1288.2,430.4 1286.2,430.6 1284.2,430.9 1282.2,431.1 1280.2,431.4 1278.3,431.7 1276.3,431.9 1274.3,432.2 1272.3,432.5 1270.3,432.7 1268.3,433.0 1266.4,433.3 1264.4,433.6 1262.4,433.9 1260.4,434.2 1258.4,434.5 1256.4,434.8 1254.5,435.1 1252.5,435.4 1250.5,435.7 1248.5,436.0 1246.6,436.3 1244.6,436.7 1242.6,437.0 1240.6,437.3 1238.7,437.7 1236.7,438.0 1234.7,438.4 1232.7,438.7 1230.8,439.1 1228.8,439.4 1226.8,439.8 1224.9,440.2 1222.9,440.6 1220.9,440.9 1219.0,441.3 1217.0,441.7 1215.0,442.1 1213.1,442.5 1211.1,443.0 1209.2,443.4 1207.2,443.8 1205.2,444.3 1203.3,444.7 1201.3,445.1 1199.4,445.6 1197.4,446.1 1195.5,446.5 1193.5,447.0 1191.6,447.5 1189.7,448.0 1187.7,448.5 1185.8,449.0 1183.8,449.5 1181.9,450.0 1180.0,450.6 1178.0,451.1 1176.1,451.6 1174.2,452.2 1172.3,452.7 1170.4,453.3 1168.4,453.9 1166.5,454.5 1164.6,455.1 1162.7,455.7 1160.8,456.3 1158.9,456.9 1157.0,457.5 1155.1,458.2 1153.2,458.8 1151.3,459.5 1149.4,460.2 1147.5,460.8 1145.6,461.5 1143.8,462.2 1141.9,462.9 1140.0,463.6 1138.1,464.4 1136.3,465.1 1134.4,465.8 1132.6,466.6 1130.7,467.4 1128.9,468.1 1127.0,468.9 1125.2,469.7 1123.4,470.5 1121.5,471.4 1119.7,472.2 1117.9,473.0 1116.1,473.9 1114.3,474.8 1112.5,475.6 1110.7,476.5 1108.9,477.4 1107.1,478.3 1105.3,479.3 1103.6,480.2 1101.8,481.2 1100.1,482.1 1098.3,483.1 1096.6,484.1 1094.8,485.1 1093.1,486.1 1091.4,487.1 1089.7,488.2 1088.0,489.2 1086.3,490.3 1084.6,491.4 1082.9,492.5 1081.3,493.6 1079.6,494.7 1077.9,495.9 1076.3,497.0 1074.7,498.2 1073.1,499.4 1071.5,500.5 1069.9,501.8 1068.3,503.0 1066.7,504.2 1065.1,505.5 1063.6,506.7 1062.0,508.0 1060.5,509.3 1059.0,510.6 1057.5,511.9 1056.0,513.3 1054.5,514.6 1053.0,516.0 1051.6,517.4 1050.1,518.7 1048.7,520.2 1047.3,521.6 1045.9,523.0 1044.5,524.5 1043.2,525.9 1041.8,527.4 1040.5,528.9 1039.1,530.4 1037.8,531.9 1036.5,533.4 1035.2,535.0 1034.0,536.5 1032.7,538.1 1031.5,539.6 1030.2,541.2 1029.0,542.8 1027.8,544.4 1026.6,546.0 1025.4,547.6 1024.2,549.2 1023.1,550.9 1021.9,552.5 1020.8,554.2 1019.7,555.8 1018.5,557.5 1017.4,559.1 1016.3,560.8 1015.3,562.5 1014.2,564.2 1013.1,565.9 1012.0,567.6 1011.0,569.3 1010.0,571.0 1008.9,572.7 1007.9,574.4 1006.9,576.2 1005.9,577.9 1004.9,579.6 1003.9,581.4 1002.9,583.1 1001.9,584.9 1000.9,586.6 1000.0,588.4 999.0,590.1 998.1,591.9 997.1,593.7 996.2,595.4 995.3,597.2 994.3,599.0 993.4,600.7 992.5,602.5 991.6,604.3 990.7,606.1 989.8,607.9 988.9,609.7 988.0,611.5 987.1,613.3 986.2,615.0 985.3,616.8 984.4,618.6 983.5,620.4 982.7,622.2 981.8,624.0 980.9,625.9 980.1,627.7 979.2,629.5 978.3,631.3 977.5,633.1 976.6,634.9 975.8,636.7 974.9,638.5 974.1,640.4 973.3,642.2 972.4,644.0 971.6,645.8 970.8,647.6 969.9,649.5 969.1,651.3 968.3,653.1 967.5,655.0 966.7,656.8 965.9,658.6 965.1,660.4 964.3,662.3 963.5,664.1 962.7,666.0 961.9,667.8 961.1,669.6 960.3,671.5 959.5,673.3 958.7,675.2 958.0,677.0 957.2,678.9 956.4,680.7 955.6,682.6 954.9,684.4 954.1,686.3 953.3,688.1 952.6,690.0 951.8,691.8 951.1,693.7 950.3,695.5 949.6,697.4 948.8,699.3 948.1,701.1 947.3,703.0 946.6,704.8 945.9,706.7 945.1,708.6 944.4,710.4 943.7,712.3 943.0,714.2 942.2,716.0 941.5,717.9 940.8,719.8 940.1,721.6 939.4,723.5 938.7,725.4 938.0,727.3 937.2,729.1 936.5,731.0 935.8,732.9 935.1,734.8 934.4,736.6 933.7,738.5 933.0,740.4 932.4,742.3 931.7,744.2 931.0,746.0 930.3,747.9 929.6,749.8 928.9,751.7 928.2,753.6 927.6,755.4 926.9,757.3 926.2,759.2 925.5,761.1 924.8,763.0 924.2,764.9 923.5,766.8 922.8,768.7 922.2,770.5 921.5,772.4 920.8,774.3 920.2,776.2 919.5,778.1 918.8,780.0 918.2,781.9 917.5,783.8 916.9,785.7 916.2,787.6 915.5,789.4 914.9,791.3 914.2,793.2 913.6,795.1 912.9,797.0 912.3,798.9 911.6,800.8 911.0,802.7 910.3,804.6 909.7,806.5 909.0,808.4 908.4,810.3 907.7,812.2 907.1,814.1 906.4,816.0 905.8,817.9 905.1,819.8 904.5,821.7 903.9,823.6 903.2,825.5 902.6,827.3 901.9,829.2 901.3,831.1 900.6,833.0 900.0,834.9 899.4,836.8 898.7,838.7 898.1,840.6 897.4,842.5 896.8,844.4 896.1,846.3 895.5,848.2 894.9,850.1 894.2,852.0 893.6,853.9 892.9,855.8 892.3,857.7 891.6,859.6 891.0,861.5 890.3,863.4 889.6,865.3 889.0,867.2 888.3,869.1 887.7,870.9 887.0,872.8 886.3,874.7 885.6,876.6 885.0,878.5 884.3,880.4 883.6,882.3 882.9,884.1 882.2,886.0 881.5,887.9 880.8,889.8 880.1,891.7 879.4,893.5 878.7,895.4 878.0,897.3 877.3,899.1 876.6,901.0 875.8,902.9 875.1,904.7 874.4,906.6 873.6,908.5 872.9,910.3 872.1,912.2 871.4,914.0 870.6,915.9 869.9,917.7 869.1,919.6 868.3,921.4 867.5,923.3 866.7,925.1 865.9,927.0 865.1,928.8 864.3,930.6 863.5,932.5 862.7,934.3 861.9,936.1 861.1,937.9 860.2,939.8 859.4,941.6 858.5,943.4 857.7,945.2 856.8,947.0 855.9,948.8 855.0,950.6 854.1,952.4 853.2,954.1 852.2,955.9 851.3,957.7 850.3,959.4 849.4,961.2 848.4,962.9 847.4,964.7 846.3,966.4 845.3,968.1 844.2,969.8 843.1,971.5 842.0,973.2 840.9,974.8 839.8,976.5 838.6,978.1 837.4,979.7 836.1,981.3 834.9,982.8 833.6,984.4 832.3,985.9 830.9,987.4 829.5,988.8 828.1,990.2 826.7,991.6 825.2,992.9 823.6,994.2 822.0,995.4 820.4,996.6 818.8,997.7 817.1,998.8 815.3,999.8 813.5,1000.7 811.7,1001.5 809.8,1002.2 807.9,1002.8 806.0,1003.4 804.0,1003.8 802.0,1004.1 800.0,1004.3 798.0,1004.4 796.0,1004.4 794.0,1004.3 792.0,1004.2 790.1,1003.9 788.1,1003.6 786.1,1003.1 784.2,1002.7 782.3,1002.1 780.3,1001.5 778.5,1000.8 776.6,1000.1 774.7,999.4 772.9,998.6 771.1,997.7 769.3,996.8 767.5,995.9 765.8,994.9 764.1,993.9 762.3,992.9 760.7,991.8 759.0,990.7 757.3,989.5 755.7,988.4 754.1,987.2 752.5,985.9 751.0,984.7 749.4,983.4 747.9,982.1 746.4,980.8 745.0,979.4 743.5,978.0 742.1,976.6 740.7,975.2 739.3,973.8 737.9,972.3 736.5,970.9 735.2,969.4 733.9,967.9 732.5,966.4 731.2,964.8 730.0,963.3 728.7,961.8 727.4,960.2 726.2,958.6 724.9,957.1 723.7,955.5 722.5,953.9 721.3,952.3 720.1,950.7 718.9,949.1 717.7,947.5 716.5,945.9 715.3,944.3 714.1,942.6 713.0,941.0 711.8,939.4 710.6,937.8 709.4,936.2 708.2,934.6 707.1,932.9 705.9,931.3 704.7,929.7 703.5,928.1 702.3,926.5 701.1,924.9 700.0,923.3 698.8,921.7 697.6,920.1 696.3,918.5 695.1,916.9 693.9,915.3 692.7,913.7 691.5,912.1 690.2,910.5 689.0,909.0 687.7,907.4 686.4,905.9 685.2,904.3 683.9,902.8 682.6,901.2 681.3,899.7 680.0,898.2 678.7,896.7 677.4,895.2 676.1,893.7 674.7,892.2 673.4,890.7 672.0,889.2 670.7,887.7 669.3,886.2 668.0,884.8 666.6,883.3 665.2,881.9 663.8,880.4 662.4,879.0 661.0,877.6 659.6,876.1 658.2,874.7 656.8,873.3 655.3,871.9 653.9,870.5 652.5,869.1 651.0,867.8 649.5,866.4 648.1,865.0 646.6,863.6 645.1,862.3 643.7,860.9 642.2,859.6 640.7,858.3 639.2,856.9 637.7,855.6 636.2,854.3 634.6,853.0 633.1,851.7 631.6,850.4 630.0,849.1 628.5,847.9 627.0,846.6 625.4,845.3 623.8,844.1 622.3,842.8 620.7,841.6 619.1,840.4 617.5,839.1 615.9,837.9 614.3,836.7 612.7,835.5 611.1,834.3 609.5,833.1 607.9,831.9 606.3,830.8 604.7,829.6 603.0,828.4 601.4,827.3 599.7,826.1 598.1,825.0 596.4,823.9 594.8,822.8 593.1,821.6 591.4,820.5 589.8,819.5 588.1,818.4 586.4,817.3 584.7,816.2 583.0,815.2 581.3,814.1 579.6,813.0 577.9,812.0 576.2,811.0 574.4,810.0 572.7,808.9 571.0,807.9 569.2,806.9 567.5,806.0 565.7,805.0 564.0,804.0 562.2,803.0 560.5,802.1 558.7,801.1 556.9,800.2 555.2,799.3 553.4,798.4 551.6,797.5 549.8,796.5 548.0,795.7 546.2,794.8 544.4,793.9 542.6,793.0 540.8,792.2 539.0,791.3 537.2,790.5 535.4,789.6 533.5,788.8 531.7,788.0 529.9,787.2 528.0,786.4 526.2,785.6 524.4,784.8 522.5,784.0 520.7,783.2 518.8,782.5 517.0,781.7 515.1,780.9 513.3,780.2 511.4,779.5 509.5,778.7 507.7,778.0 505.8,777.3 503.9,776.6 502.0,775.9 500.2,775.2 498.3,774.5 496.4,773.8 494.5,773.1 492.6,772.5 490.7,771.8 488.8,771.2 486.9,770.5 485.1,769.9 483.2,769.2 481.3,768.6 479.3,768.0 477.4,767.3 475.5,766.7 473.6,766.1 471.7,765.5 469.8,764.9 467.9,764.3 466.0,763.7 464.1,763.2 462.1,762.6 460.2,762.0 458.3,761.4 456.4,760.9 454.5,760.3 452.5,759.8 450.6,759.2 448.7,758.7 446.7,758.1 444.8,757.6 442.9,757.1 440.9,756.6 439.0,756.0 437.1,755.5 435.1,755.0 433.2,754.5 431.3,754.0 429.3,753.5 427.4,753.0 425.4,752.5 423.5,752.0 421.6,751.5 419.6,751.1 417.7,750.6 415.7,750.1 413.8,749.6 411.8,749.2 409.9,748.7 407.9,748.2 406.0,747.8 404.0,747.3 402.1,746.9 400.1,746.4 398.2,746.0 396.2,745.5 394.3,745.1 392.3,744.6 390.4,744.2 388.4,743.8 386.4,743.3 384.5,742.9 382.5,742.5 380.6,742.0 378.6,741.6 376.7,741.2 374.7,740.8 372.7,740.3 370.8,739.9 368.8,739.5 366.9,739.1 364.9,738.7 363.0,738.3 361.0,737.8 359.0,737.4 357.1,737.0 355.1,736.6 353.1,736.2 351.2,735.8 349.2,735.4 347.3,735.0 345.3,734.6 343.3,734.2 341.4,733.8 339.4,733.4 337.5,732.9 335.5,732.5 333.5,732.1 331.6,731.7 329.6,731.3 327.7,730.9 325.7,730.5 323.7,730.1 321.8,729.7 319.8,729.3 317.8,728.9 315.9,728.5 313.9,728.1 312.0,727.7 310.0,727.2 310.0,727.8 312.0,728.2 313.9,728.6 315.9,729.0 317.8,729.4 319.8,729.8 321.8,730.2 323.7,730.6 325.7,731.0 327.7,731.5 329.6,731.9 331.6,732.3 333.5,732.7 335.5,733.1 337.5,733.5 339.4,733.9 341.4,734.3 343.3,734.7 345.3,735.1 347.3,735.5 349.2,735.9 351.2,736.4 353.1,736.8 355.1,737.2 357.1,737.6 359.0,738.0 361.0,738.4 363.0,738.8 364.9,739.3 366.9,739.7 368.8,740.1 370.8,740.5 372.7,740.9 374.7,741.4 376.7,741.8 378.6,742.2 380.6,742.6 382.5,743.1 384.5,743.5 386.4,743.9 388.4,744.4 390.4,744.8 392.3,745.3 394.3,745.7 396.2,746.1 398.2,746.6 400.1,747.0 402.1,747.5 404.0,748.0 406.0,748.4 407.9,748.9 409.9,749.3 411.8,749.8 413.8,750.3 415.7,750.8 417.7,751.2 419.6,751.7 421.6,752.2 423.5,752.7 425.4,753.2 427.4,753.7 429.3,754.2 431.3,754.7 433.2,755.2 435.1,755.7 437.1,756.2 439.0,756.7 440.9,757.2 442.9,757.8 444.8,758.3 446.7,758.8 448.7,759.4 450.6,759.9 452.5,760.5 454.5,761.0 456.4,761.6 458.3,762.1 460.2,762.7 462.1,763.3 464.1,763.9 466.0,764.4 467.9,765.0 469.8,765.6 471.7,766.2 473.6,766.8 475.5,767.4 477.4,768.1 479.3,768.7 481.3,769.3 483.2,769.9 485.1,770.6 486.9,771.2 488.8,771.9 490.7,772.5 492.6,773.2 494.5,773.9 496.4,774.6 498.3,775.2 500.2,775.9 502.0,776.6 503.9,777.3 505.8,778.1 507.7,778.8 509.5,779.5 511.4,780.2 513.3,781.0 515.1,781.7 517.0,782.5 518.8,783.2 520.7,784.0 522.5,784.8 524.4,785.6 526.2,786.4 528.0,787.2 529.9,788.0 531.7,788.8 533.5,789.6 535.4,790.4 537.2,791.3 539.0,792.1 540.8,793.0 542.6,793.8 544.4,794.7 546.2,795.6 548.0,796.5 549.8,797.4 551.6,798.3 553.4,799.2 555.2,800.1 556.9,801.0 558.7,802.0 560.5,802.9 562.2,803.9 564.0,804.8 565.7,805.8 567.5,806.8 569.2,807.8 571.0,808.8 572.7,809.8 574.4,810.8 576.2,811.8 577.9,812.9 579.6,813.9 581.3,814.9 583.0,816.0 584.7,817.1 586.4,818.1 588.1,819.2 589.8,820.3 591.4,821.4 593.1,822.5 594.8,823.6 596.4,824.7 598.1,825.9 599.7,827.0 601.4,828.2 603.0,829.3 604.7,830.5 606.3,831.6 607.9,832.8 609.5,834.0 611.1,835.2 612.7,836.4 614.3,837.6 615.9,838.8 617.5,840.0 619.1,841.2 620.7,842.5 622.3,843.7 623.8,845.0 625.4,846.2 627.0,847.5 628.5,848.8 630.0,850.0 631.6,851.3 633.1,852.6 634.6,853.9 636.2,855.2 637.7,856.5 639.2,857.9 640.7,859.2 642.2,860.5 643.7,861.9 645.1,863.2 646.6,864.6 648.1,865.9 649.5,867.3 651.0,868.7 652.5,870.1 653.9,871.5 655.3,872.9 656.8,874.3 658.2,875.7 659.6,877.1 661.0,878.5 662.4,880.0 663.8,881.4 665.2,882.8 666.6,884.3 668.0,885.7 669.3,887.2 670.7,888.7 672.0,890.2 673.4,891.6 674.7,893.1 676.1,894.6 677.4,896.1 678.7,897.6 680.0,899.2 681.3,900.7 682.6,902.2 683.9,903.8 685.2,905.3 686.4,906.8 687.7,908.4 689.0,910.0 690.2,911.5 691.5,913.1 692.7,914.7 693.9,916.3 695.1,917.9 696.3,919.4 697.6,921.0 698.8,922.7 700.0,924.3 701.1,925.9 702.3,927.5 703.5,929.1 704.7,930.7 705.9,932.3 707.1,934.0 708.2,935.6 709.4,937.2 710.6,938.8 711.8,940.4 713.0,942.1 714.1,943.7 715.3,945.3 716.5,946.9 717.7,948.5 718.9,950.2 720.1,951.8 721.3,953.4 722.5,955.0 723.7,956.6 724.9,958.1 726.2,959.7 727.4,961.3 728.7,962.9 730.0,964.4 731.2,965.9 732.5,967.5 733.9,969.0 735.2,970.5 736.5,972.0 737.9,973.4 739.3,974.9 740.7,976.3 742.1,977.8 743.5,979.2 745.0,980.6 746.4,981.9 747.9,983.2 749.4,984.6 751.0,985.8 752.5,987.1 754.1,988.3 755.7,989.5 757.3,990.7 759.0,991.9 760.7,993.0 762.3,994.1 764.1,995.1 765.8,996.1 767.5,997.1 769.3,998.0 771.1,998.9 772.9,999.8 774.7,1000.6 776.6,1001.4 778.5,1002.1 780.3,1002.8 782.3,1003.4 784.2,1003.9 786.1,1004.4 788.1,1004.8 790.1,1005.2 792.0,1005.5 794.0,1005.6 796.0,1005.7 798.0,1005.8 800.0,1005.7 802.0,1005.5 804.0,1005.1 806.0,1004.7 807.9,1004.2 809.8,1003.6 811.7,1002.9 813.5,1002.1 815.3,1001.2 817.1,1000.2 818.8,999.1 820.4,998.0 822.0,996.9 823.6,995.6 825.2,994.3 826.7,993.0 828.1,991.6 829.5,990.2 830.9,988.8 832.3,987.3 833.6,985.8 834.9,984.3 836.1,982.7 837.4,981.1 838.6,979.5 839.8,977.9 840.9,976.3 842.0,974.6 843.1,973.0 844.2,971.3 845.3,969.6 846.3,967.9 847.4,966.2 848.4,964.4 849.4,962.7 850.3,960.9 851.3,959.2 852.2,957.4 853.2,955.6 854.1,953.9 855.0,952.1 855.9,950.3 856.8,948.5 857.7,946.7 858.5,944.9 859.4,943.1 860.2,941.3 861.1,939.4 861.9,937.6 862.7,935.8 863.5,934.0 864.3,932.1 865.1,930.3 865.9,928.4 866.7,926.6 867.5,924.8 868.3,922.9 869.1,921.1 869.9,919.2 870.6,917.4 871.4,915.5 872.1,913.7 872.9,911.8 873.6,909.9 874.4,908.1 875.1,906.2 875.8,904.3 876.6,902.5 877.3,900.6 878.0,898.7 878.7,896.9 879.4,895.0 880.1,893.1 880.8,891.2 881.5,889.4 882.2,887.5 882.9,885.6 883.6,883.7 884.3,881.8 885.0,880.0 885.6,878.1 886.3,876.2 887.0,874.3 887.7,872.4 888.3,870.5 889.0,868.6 889.6,866.7 890.3,864.8 891.0,862.9 891.6,861.0 892.3,859.2 892.9,857.3 893.6,855.4 894.2,853.5 894.9,851.6 895.5,849.7 896.1,847.8 896.8,845.9 897.4,844.0 898.1,842.1 898.7,840.2 899.4,838.3 900.0,836.4 900.6,834.5 901.3,832.6 901.9,830.7 902.6,828.8 903.2,826.9 903.9,825.0 904.5,823.1 905.1,821.2 905.8,819.3 906.4,817.4 907.1,815.5 907.7,813.6 908.4,811.7 909.0,809.8 909.7,807.9 910.3,806.0 911.0,804.1 911.6,802.2 912.3,800.3 912.9,798.5 913.6,796.6 914.2,794.7 914.9,792.8 915.5,790.9 916.2,789.0 916.9,787.1 917.5,785.2 918.2,783.3 918.8,781.4 919.5,779.5 920.2,777.6 920.8,775.7 921.5,773.9 922.2,772.0 922.8,770.1 923.5,768.2 924.2,766.3 924.8,764.4 925.5,762.5 926.2,760.6 926.9,758.8 927.6,756.9 928.2,755.0 928.9,753.1 929.6,751.2 930.3,749.3 931.0,747.5 931.7,745.6 932.4,743.7 933.0,741.8 933.7,739.9 934.4,738.1 935.1,736.2 935.8,734.3 936.5,732.4 937.2,730.5 938.0,728.7 938.7,726.8 939.4,724.9 940.1,723.1 940.8,721.2 941.5,719.3 942.2,717.4 943.0,715.6 943.7,713.7 944.4,711.8 945.1,710.0 945.9,708.1 946.6,706.2 947.3,704.4 948.1,702.5 948.8,700.7 949.6,698.8 950.3,696.9 951.1,695.1 951.8,693.2 952.6,691.4 953.3,689.5 954.1,687.7 954.9,685.8 955.6,684.0 956.4,682.1 957.2,680.3 958.0,678.4 958.7,676.6 959.5,674.7 960.3,672.9 961.1,671.0 961.9,669.2 962.7,667.3 963.5,665.5 964.3,663.7 965.1,661.8 965.9,660.0 966.7,658.2 967.5,656.3 968.3,654.5 969.1,652.7 969.9,650.8 970.8,649.0 971.6,647.2 972.4,645.4 973.3,643.5 974.1,641.7 974.9,639.9 975.8,638.1 976.6,636.3 977.5,634.5 978.3,632.6 979.2,630.8 980.1,629.0 980.9,627.2 981.8,625.4 982.7,623.6 983.5,621.8 984.4,620.0 985.3,618.2 986.2,616.4 987.1,614.6 988.0,612.8 988.9,611.0 989.8,609.2 990.7,607.4 991.6,605.7 992.5,603.9 993.4,602.1 994.3,600.3 995.3,598.5 996.2,596.8 997.1,595.0 998.1,593.2 999.0,591.5 1000.0,589.7 1000.9,588.0 1001.9,586.2 1002.9,584.5 1003.9,582.7 1004.9,581.0 1005.9,579.2 1006.9,577.5 1007.9,575.8 1008.9,574.1 1010.0,572.3 1011.0,570.6 1012.0,568.9 1013.1,567.2 1014.2,565.5 1015.3,563.8 1016.3,562.1 1017.4,560.5 1018.5,558.8 1019.7,557.1 1020.8,555.5 1021.9,553.8 1023.1,552.2 1024.2,550.6 1025.4,548.9 1026.6,547.3 1027.8,545.7 1029.0,544.1 1030.2,542.5 1031.5,540.9 1032.7,539.4 1034.0,537.8 1035.2,536.3 1036.5,534.7 1037.8,533.2 1039.1,531.7 1040.5,530.2 1041.8,528.7 1043.2,527.2 1044.5,525.8 1045.9,524.3 1047.3,522.9 1048.7,521.4 1050.1,520.0 1051.6,518.6 1053.0,517.3 1054.5,515.9 1056.0,514.6 1057.5,513.2 1059.0,511.9 1060.5,510.6 1062.0,509.3 1063.6,508.0 1065.1,506.7 1066.7,505.5 1068.3,504.3 1069.9,503.0 1071.5,501.8 1073.1,500.6 1074.7,499.4 1076.3,498.3 1077.9,497.1 1079.6,496.0 1081.3,494.9 1082.9,493.8 1084.6,492.7 1086.3,491.6 1088.0,490.5 1089.7,489.4 1091.4,488.4 1093.1,487.4 1094.8,486.3 1096.6,485.3 1098.3,484.4 1100.1,483.4 1101.8,482.4 1103.6,481.5 1105.3,480.5 1107.1,479.6 1108.9,478.7 1110.7,477.8 1112.5,476.9 1114.3,476.0 1116.1,475.1 1117.9,474.3 1119.7,473.4 1121.5,472.6 1123.4,471.8 1125.2,470.9 1127.0,470.1 1128.9,469.4 1130.7,468.6 1132.6,467.8 1134.4,467.1 1136.3,466.3 1138.1,465.6 1140.0,464.8 1141.9,464.1 1143.8,463.4 1145.6,462.7 1147.5,462.0 1149.4,461.4 1151.3,460.7 1153.2,460.0 1155.1,459.4 1157.0,458.7 1158.9,458.1 1160.8,457.5 1162.7,456.9 1164.6,456.3 1166.5,455.7 1168.4,455.1 1170.4,454.5 1172.3,453.9 1174.2,453.4 1176.1,452.8 1178.0,452.3 1180.0,451.7 1181.9,451.2 1183.8,450.7 1185.8,450.1 1187.7,449.6 1189.7,449.1 1191.6,448.6 1193.5,448.2 1195.5,447.7 1197.4,447.2 1199.4,446.7 1201.3,446.3 1203.3,445.8 1205.2,445.4 1207.2,445.0 1209.2,444.5 1211.1,444.1 1213.1,443.7 1215.0,443.3 1217.0,442.9 1219.0,442.5 1220.9,442.1 1222.9,441.7 1224.9,441.3 1226.8,440.9 1228.8,440.5 1230.8,440.2 1232.7,439.8 1234.7,439.5 1236.7,439.1 1238.7,438.8 1240.6,438.4 1242.6,438.1 1244.6,437.8 1246.6,437.4 1248.5,437.1 1250.5,436.8 1252.5,436.5 1254.5,436.2 1256.4,435.9 1258.4,435.6 1260.4,435.3 1262.4,435.0 1264.4,434.7 1266.4,434.4 1268.3,434.1 1270.3,433.8 1272.3,433.5 1274.3,433.3 1276.3,433.0 1278.3,432.7 1280.2,432.4 1282.2,432.2 1284.2,431.9 1286.2,431.7 1288.2,431.4 1290.2,431.2 1292.2,430.9 1294.2,430.7 1296.1,430.4 1298.1,430.2 1300.1,429.9 1302.1,429.7 1304.1,429.4 1306.1,429.2 1308.1,429.0 1310.1,428.7 1312.1,428.5 1314.0,428.2 1316.0,428.0 1318.0,427.8 1320.0,427.6 1322.0,427.3 1324.0,427.1 1326.0,426.9 1328.0,426.6 1330.0,426.4 1332.0,426.2 1333.9,425.9 1335.9,425.7 1337.9,425.5 1339.9,425.3 1341.9,425.0 1343.9,424.8 1345.9,424.6 1347.9,424.3 1349.9,424.1 1351.9,423.9 1353.9,423.6 1355.8,423.4 1357.8,423.2 1359.8,422.9 1361.8,422.7 1363.8,422.5 1365.8,422.2 1367.8,422.0 1369.8,421.8 1371.8,421.5 1373.7,421.3 1375.7,421.0 1377.7,420.8 1379.7,420.5 1381.7,420.3 1383.7,420.0 1385.7,419.7 1387.7,419.5 1389.6,419.2 1391.6,419.0 1393.6,418.7 1395.6,418.4 1397.6,418.1 1399.6,417.9 1401.6,417.6 1403.5,417.3 1405.5,417.0 1407.5,416.7 1409.5,416.4 1411.5,416.1 1413.4,415.8 1415.4,415.5 1417.4,415.2 1419.4,414.9 1421.4,414.6 1423.3,414.3 1425.3,413.9 1427.3,413.6 1429.3,413.3 1431.2,412.9 1433.2,412.6 1435.2,412.3 1437.2,411.9 1439.1,411.5 1441.1,411.2 1443.1,410.8 1445.0,410.4 1447.0,410.1 1449.0,409.7 1450.9,409.3 1452.9,408.9 1454.9,408.5 1456.8,408.1 1458.8,407.7 1460.7,407.2 1462.7,406.8 1464.7,406.4 1466.6,405.9 1468.6,405.5 1470.5,405.1 1472.5,404.6 1474.4,404.1 1476.4,403.7 1478.3,403.2 1480.3,402.7 1482.2,402.2 1484.1,401.7 1486.1,401.2 1488.0,400.7 1490.0,400.1 1491.9,399.6 1493.8,399.1 1495.7,398.5 1497.7,398.0 1499.6,397.4 1501.5,396.8 1503.4,396.3 1505.3,395.7 1507.3,395.1 1509.2,394.5 1511.1,393.9 1513.0,393.3 1514.9,392.6 1516.8,392.0 1518.7,391.3 1520.6,390.7 1522.5,390.0 1524.3,389.3 1526.2,388.7 1528.1,388.0 1530.0,387.3 1531.9,386.6 1533.7,385.8 1535.6,385.1Z" fill="#0000ff" stroke="#0000ff" stroke-width="4.4" stroke-linejoin="round"/>
<path d="M310.0,725.7 311.9,725.0 313.7,724.2 315.6,723.5 317.5,722.8 319.4,722.2 321.3,721.5 323.2,720.8 325.1,720.2 327.0,719.5 328.9,718.9 330.8,718.3 332.7,717.7 334.6,717.1 336.5,716.5 338.4,715.9 340.4,715.3 342.3,714.8 344.2,714.2 346.1,713.7 348.1,713.1 350.0,712.6 351.9,712.1 353.9,711.6 355.8,711.1 357.8,710.6 359.7,710.1 361.7,709.6 363.6,709.2 365.6,708.7 367.5,708.3 369.5,707.8 371.4,707.4 373.4,707.0 375.4,706.6 377.3,706.1 379.3,705.7 381.3,705.3 383.2,705.0 385.2,704.6 387.2,704.2 389.1,703.8 391.1,703.5 393.1,703.1 395.0,702.7 397.0,702.4 399.0,702.1 401.0,701.7 403.0,701.4 404.9,701.1 406.9,700.7 408.9,700.4 410.9,700.1 412.9,699.8 414.8,699.5 416.8,699.2 418.8,698.9 420.8,698.6 422.8,698.4 424.8,698.1 426.8,697.8 428.7,697.5 430.7,697.3 432.7,697.0 434.7,696.7 436.7,696.5 438.7,696.2 440.7,696.0 442.7,695.7 444.6,695.5 446.6,695.2 448.6,695.0 450.6,694.8 452.6,694.5 454.6,694.3 456.6,694.1 458.6,693.8 460.6,693.6 462.6,693.4 464.6,693.2 466.6,692.9 468.6,692.7 470.5,692.5 472.5,692.3 474.5,692.1 476.5,691.8 478.5,691.6 480.5,691.4 482.5,691.2 484.5,691.0 486.5,690.8 488.5,690.6 490.5,690.4 492.5,690.1 494.5,689.9 496.5,689.7 498.5,689.5 500.5,689.3 502.5,689.1 504.4,688.9 506.4,688.7 508.4,688.4 510.4,688.2 512.4,688.0 514.4,687.8 516.4,687.6 518.4,687.3 520.4,687.1 522.4,686.9 524.4,686.7 526.4,686.4 528.4,686.2 530.4,686.0 532.3,685.7 534.3,685.5 536.3,685.3 538.3,685.0 540.3,684.8 542.3,684.5 544.3,684.3 546.3,684.0 548.3,683.8 550.3,683.5 552.2,683.2 554.2,683.0 556.2,682.7 558.2,682.4 560.2,682.1 562.2,681.9 564.2,681.6 566.1,681.3 568.1,681.0 570.1,680.7 572.1,680.4 574.1,680.1 576.1,679.7 578.0,679.4 580.0,679.1 582.0,678.8 584.0,678.4 585.9,678.1 587.9,677.7 589.9,677.4 591.9,677.0 593.8,676.6 595.8,676.3 597.8,675.9 599.7,675.5 601.7,675.1 603.7,674.7 605.6,674.3 607.6,673.9 609.6,673.5 611.5,673.0 613.5,672.6 615.4,672.1 617.4,671.7 619.3,671.2 621.3,670.7 623.2,670.3 625.2,669.8 627.1,669.3 629.1,668.8 631.0,668.2 632.9,667.7 634.9,667.2 636.8,666.6 638.7,666.1 640.6,665.5 642.6,664.9 644.5,664.3 646.4,663.7 648.3,663.1 650.2,662.5 652.1,661.9 654.0,661.2 655.9,660.6 657.8,659.9 659.7,659.2 661.6,658.6 663.5,657.9 665.3,657.1 667.2,656.4 669.1,655.7 670.9,654.9 672.8,654.2 674.6,653.4 676.5,652.6 678.3,651.8 680.1,651.0 682.0,650.2 683.8,649.3 685.6,648.5 687.4,647.6 689.2,646.7 691.0,645.8 692.8,644.9 694.6,644.0 696.4,643.1 698.1,642.1 699.9,641.2 701.6,640.2 703.4,639.2 705.1,638.2 706.8,637.2 708.6,636.1 710.3,635.1 712.0,634.0 713.7,632.9 715.3,631.8 717.0,630.7 718.7,629.6 720.3,628.5 722.0,627.4 723.6,626.2 725.3,625.0 726.9,623.9 728.5,622.7 730.1,621.5 731.7,620.2 733.3,619.0 734.9,617.8 736.4,616.5 738.0,615.3 739.5,614.0 741.1,612.7 742.6,611.4 744.2,610.1 745.7,608.8 747.2,607.5 748.7,606.2 750.2,604.9 751.7,603.5 753.1,602.2 754.6,600.8 756.1,599.4 757.5,598.0 759.0,596.6 760.4,595.2 761.8,593.8 763.3,592.4 764.7,591.0 766.1,589.6 767.5,588.1 768.9,586.7 770.2,585.2 771.6,583.8 773.0,582.3 774.3,580.8 775.7,579.3 777.0,577.8 778.4,576.4 779.7,574.8 781.0,573.3 782.3,571.8 783.6,570.3 784.9,568.8 786.2,567.2 787.5,565.7 788.8,564.2 790.1,562.6 791.3,561.0 792.6,559.5 793.8,557.9 795.1,556.3 796.3,554.8 797.6,553.2 798.8,551.6 800.0,550.0 801.2,548.4 802.4,546.8 803.6,545.2 804.8,543.6 806.0,542.0 807.2,540.3 808.3,538.7 809.5,537.1 810.7,535.4 811.8,533.8 813.0,532.2 814.1,530.5 815.3,528.9 816.4,527.2 817.5,525.6 818.6,523.9 819.8,522.2 820.9,520.6 822.0,518.9 823.1,517.2 824.2,515.5 825.3,513.8 826.3,512.1 827.4,510.5 828.5,508.8 829.6,507.1 830.6,505.4 831.7,503.7 832.7,502.0 833.8,500.2 834.8,498.5 835.9,496.8 836.9,495.1 837.9,493.4 839.0,491.7 840.0,489.9 841.0,488.2 842.0,486.5 843.0,484.7 844.0,483.0 845.0,481.3 846.0,479.5 847.0,477.8 848.0,476.0 849.0,474.3 849.9,472.5 850.9,470.8 851.9,469.0 852.9,467.3 853.8,465.5 854.8,463.8 855.8,462.0 856.7,460.2 857.7,458.5 858.6,456.7 859.6,454.9 860.5,453.2 861.5,451.4 862.4,449.6 863.4,447.9 864.3,446.1 865.2,444.3 866.2,442.5 867.1,440.8 868.0,439.0 869.0,437.2 869.9,435.4 870.8,433.7 871.8,431.9 872.7,430.1 873.6,428.3 874.5,426.6 875.5,424.8 876.4,423.0 877.3,421.2 878.3,419.4 879.2,417.7 880.1,415.9 881.0,414.1 882.0,412.3 882.9,410.5 883.8,408.8 884.7,407.0 885.7,405.2 886.6,403.4 887.5,401.7 888.5,399.9 889.4,398.1 890.3,396.3 891.3,394.6 892.2,392.8 893.1,391.0 894.1,389.2 895.0,387.5 895.9,385.7 896.9,383.9 897.8,382.2 898.8,380.4 899.7,378.6 900.7,376.9 901.6,375.1 902.6,373.3 903.6,371.6 904.5,369.8 905.5,368.0 906.5,366.3 907.4,364.5 908.4,362.8 909.4,361.0 910.4,359.3 911.4,357.5 912.4,355.8 913.4,354.1 914.4,352.3 915.5,350.6 916.5,348.9 917.5,347.2 918.6,345.5 919.6,343.7 920.7,342.0 921.8,340.3 922.9,338.7 923.9,337.0 925.0,335.3 926.2,333.6 927.3,332.0 928.4,330.3 929.6,328.7 930.7,327.0 931.9,325.4 933.1,323.8 934.3,322.1 935.5,320.5 936.7,319.0 938.0,317.4 939.2,315.8 940.5,314.2 941.8,312.7 943.1,311.2 944.4,309.6 945.7,308.1 947.0,306.6 948.4,305.1 949.7,303.7 951.1,302.2 952.5,300.8 953.9,299.3 955.3,297.9 956.8,296.5 958.2,295.1 959.7,293.7 961.2,292.4 962.6,291.0 964.1,289.7 965.7,288.4 967.2,287.1 968.7,285.8 970.3,284.5 971.8,283.3 973.4,282.0 975.0,280.8 976.6,279.6 978.3,278.4 979.9,277.2 981.5,276.1 983.2,275.0 984.9,273.8 986.5,272.7 988.2,271.7 990.0,270.6 991.7,269.6 993.4,268.6 995.1,267.6 996.9,266.6 998.7,265.6 1000.4,264.7 1002.2,263.8 1004.0,262.9 1005.9,262.1 1007.7,261.2 1009.5,260.4 1011.4,259.6 1013.2,258.9 1015.1,258.1 1016.9,257.4 1018.8,256.7 1020.7,256.0 1022.6,255.4 1024.5,254.8 1026.4,254.2 1028.4,253.6 1030.3,253.1 1032.2,252.6 1034.2,252.1 1036.1,251.7 1038.1,251.2 1040.1,250.8 1042.0,250.5 1044.0,250.1 1046.0,249.8 1048.0,249.5 1050.0,249.2 1052.0,249.0 1053.9,248.8 1055.9,248.6 1057.9,248.5 1059.9,248.4 1062.0,248.3 1064.0,248.3 1066.0,248.2 1068.0,248.2 1070.0,248.2 1072.0,248.3 1074.0,248.4 1076.0,248.5 1078.0,248.6 1080.0,248.7 1082.0,248.9 1084.0,249.1 1086.0,249.3 1088.0,249.5 1090.0,249.7 1091.9,250.0 1093.9,250.3 1095.9,250.6 1097.9,250.9 1099.9,251.2 1101.8,251.6 1103.8,252.0 1105.8,252.3 1107.8,252.7 1109.7,253.1 1111.7,253.6 1113.6,254.0 1115.6,254.5 1117.5,254.9 1119.5,255.4 1121.4,255.9 1123.4,256.4 1125.3,256.9 1127.3,257.4 1129.2,257.9 1131.1,258.5 1133.0,259.0 1135.0,259.6 1136.9,260.1 1138.8,260.7 1140.7,261.3 1142.7,261.9 1144.6,262.5 1146.5,263.1 1148.4,263.7 1150.3,264.3 1152.2,264.9 1154.1,265.5 1156.0,266.2 1157.9,266.8 1159.8,267.4 1161.7,268.1 1163.6,268.7 1165.5,269.4 1167.4,270.0 1169.3,270.7 1171.2,271.3 1173.1,272.0 1175.0,272.7 1176.9,273.3 1178.8,274.0 1180.7,274.7 1182.6,275.3 1184.4,276.0 1186.3,276.7 1188.2,277.4 1190.1,278.0 1192.0,278.7 1193.9,279.4 1195.8,280.0 1197.7,280.7 1199.6,281.4 1201.5,282.0 1203.4,282.7 1205.3,283.3 1207.1,284.0 1209.0,284.7 1210.9,285.3 1212.8,286.0 1214.7,286.6 1216.6,287.2 1218.5,287.9 1220.4,288.5 1222.3,289.2 1224.2,289.8 1226.2,290.4 1228.1,291.0 1230.0,291.7 1231.9,292.3 1233.8,292.9 1235.7,293.5 1237.6,294.1 1239.5,294.7 1241.4,295.3 1243.3,295.9 1245.2,296.5 1247.2,297.1 1249.1,297.7 1251.0,298.3 1252.9,298.9 1254.8,299.5 1256.7,300.1 1258.7,300.7 1260.6,301.3 1262.5,301.8 1264.4,302.4 1266.3,303.0 1268.3,303.5 1270.2,304.1 1272.1,304.7 1274.0,305.2 1276.0,305.8 1277.9,306.4 1279.8,306.9 1281.7,307.5 1283.7,308.0 1285.6,308.6 1287.5,309.1 1289.5,309.6 1291.4,310.2 1293.3,310.7 1295.3,311.2 1297.2,311.8 1299.1,312.3 1301.1,312.8 1303.0,313.4 1304.9,313.9 1306.9,314.4 1308.8,314.9 1310.8,315.4 1312.7,316.0 1314.6,316.5 1316.6,317.0 1318.5,317.5 1320.4,318.0 1322.4,318.5 1324.3,319.0 1326.3,319.5 1328.2,320.0 1330.2,320.5 1332.1,321.0 1334.0,321.5 1336.0,322.0 1337.9,322.4 1339.9,322.9 1341.8,323.4 1343.8,323.9 1345.7,324.4 1347.7,324.9 1349.6,325.3 1351.6,325.8 1353.5,326.3 1355.5,326.7 1357.4,327.2 1359.4,327.7 1361.3,328.2 1363.3,328.6 1365.2,329.1 1367.2,329.5 1369.1,330.0 1371.1,330.5 1373.0,330.9 1375.0,331.4 1376.9,331.8 1378.9,332.3 1380.8,332.7 1382.8,333.2 1384.7,333.6 1386.7,334.1 1388.7,334.5 1390.6,335.0 1392.6,335.4 1394.5,335.9 1396.5,336.3 1398.4,336.7 1400.4,337.2 1402.3,337.6 1404.3,338.1 1406.3,338.5 1408.2,338.9 1410.2,339.4 1412.1,339.8 1414.1,340.2 1416.1,340.7 1418.0,341.1 1420.0,341.5 1421.9,342.0 1423.9,342.4 1425.8,342.8 1427.8,343.3 1429.8,343.7 1431.7,344.1 1433.7,344.5 1435.6,345.0 1437.6,345.4 1439.6,345.8 1441.5,346.2 1443.5,346.7 1445.4,347.1 1447.4,347.5 1449.4,347.9 1451.3,348.4 1453.3,348.8 1455.2,349.2 1457.2,349.6 1459.2,350.1 1461.1,350.5 1463.1,350.9 1465.0,351.3 1467.0,351.7 1469.0,352.2 1470.9,352.6 1472.9,353.0 1474.8,353.4 1476.8,353.8 1478.8,354.3 1480.7,354.7 1482.7,355.1 1484.6,355.5 1486.6,356.0 1488.6,356.4 1490.5,356.8 1492.5,357.2 1494.5,357.6 1496.4,358.1 1498.4,358.5 1500.3,358.9 1502.3,359.3 1504.3,359.8 1506.2,360.2 1508.2,360.6 1510.1,361.0 1512.1,361.5 1514.1,361.9 1516.0,362.3 1518.0,362.7 1519.9,363.2 1521.9,363.6 1523.8,364.0 1525.8,364.5 1527.8,364.9 1529.7,365.3 1531.7,365.7 1533.6,366.2 1535.6,366.6 1535.6,367.8 1533.6,367.4 1531.7,366.9 1529.7,366.5 1527.8,366.1 1525.8,365.7 1523.8,365.2 1521.9,364.8 1519.9,364.4 1518.0,363.9 1516.0,363.5 1514.1,363.1 1512.1,362.7 1510.1,362.2 1508.2,361.8 1506.2,361.4 1504.3,361.0 1502.3,360.5 1500.3,360.1 1498.4,359.7 1496.4,359.3 1494.5,358.8 1492.5,358.4 1490.5,358.0 1488.6,357.6 1486.6,357.2 1484.6,356.7 1482.7,356.3 1480.7,355.9 1478.8,355.5 1476.8,355.0 1474.8,354.6 1472.9,354.2 1470.9,353.8 1469.0,353.4 1467.0,352.9 1465.0,352.5 1463.1,352.1 1461.1,351.7 1459.2,351.3 1457.2,350.8 1455.2,350.4 1453.3,350.0 1451.3,349.6 1449.4,349.1 1447.4,348.7 1445.4,348.3 1443.5,347.9 1441.5,347.4 1439.6,347.0 1437.6,346.6 1435.6,346.2 1433.7,345.7 1431.7,345.3 1429.8,344.9 1427.8,344.5 1425.8,344.0 1423.9,343.6 1421.9,343.2 1420.0,342.7 1418.0,342.3 1416.1,341.9 1414.1,341.4 1412.1,341.0 1410.2,340.6 1408.2,340.1 1406.3,339.7 1404.3,339.3 1402.3,338.8 1400.4,338.4 1398.4,337.9 1396.5,337.5 1394.5,337.1 1392.6,336.6 1390.6,336.2 1388.7,335.7 1386.7,335.3 1384.7,334.8 1382.8,334.4 1380.8,333.9 1378.9,333.5 1376.9,333.0 1375.0,332.6 1373.0,332.1 1371.1,331.7 1369.1,331.2 1367.2,330.7 1365.2,330.3 1363.3,329.8 1361.3,329.4 1359.4,328.9 1357.4,328.4 1355.5,327.9 1353.5,327.5 1351.6,327.0 1349.6,326.5 1347.7,326.1 1345.7,325.6 1343.8,325.1 1341.8,324.6 1339.9,324.1 1337.9,323.6 1336.0,323.2 1334.0,322.7 1332.1,322.2 1330.2,321.7 1328.2,321.2 1326.3,320.7 1324.3,320.2 1322.4,319.7 1320.4,319.2 1318.5,318.7 1316.6,318.2 1314.6,317.7 1312.7,317.2 1310.8,316.6 1308.8,316.1 1306.9,315.6 1304.9,315.1 1303.0,314.6 1301.1,314.0 1299.1,313.5 1297.2,313.0 1295.3,312.4 1293.3,311.9 1291.4,311.4 1289.5,310.8 1287.5,310.3 1285.6,309.8 1283.7,309.2 1281.7,308.7 1279.8,308.1 1277.9,307.6 1276.0,307.0 1274.0,306.4 1272.1,305.9 1270.2,305.3 1268.3,304.7 1266.3,304.2 1264.4,303.6 1262.5,303.0 1260.6,302.5 1258.7,301.9 1256.7,301.3 1254.8,300.7 1252.9,300.1 1251.0,299.5 1249.1,298.9 1247.2,298.3 1245.2,297.7 1243.3,297.1 1241.4,296.5 1239.5,295.9 1237.6,295.3 1235.7,294.7 1233.8,294.1 1231.9,293.5 1230.0,292.9 1228.1,292.2 1226.2,291.6 1224.2,291.0 1222.3,290.4 1220.4,289.7 1218.5,289.1 1216.6,288.4 1214.7,287.8 1212.8,287.2 1210.9,286.5 1209.0,285.9 1207.1,285.2 1205.3,284.5 1203.4,283.9 1201.5,283.2 1199.6,282.6 1197.7,281.9 1195.8,281.2 1193.9,280.6 1192.0,279.9 1190.1,279.2 1188.2,278.6 1186.3,277.9 1184.4,277.2 1182.6,276.5 1180.7,275.9 1178.8,275.2 1176.9,274.5 1175.0,273.9 1173.1,273.2 1171.2,272.5 1169.3,271.9 1167.4,271.2 1165.5,270.6 1163.6,269.9 1161.7,269.3 1159.8,268.6 1157.9,268.0 1156.0,267.4 1154.1,266.7 1152.2,266.1 1150.3,265.5 1148.4,264.9 1146.5,264.3 1144.6,263.7 1142.7,263.1 1140.7,262.5 1138.8,261.9 1136.9,261.3 1135.0,260.8 1133.0,260.2 1131.1,259.7 1129.2,259.1 1127.3,258.6 1125.3,258.1 1123.4,257.6 1121.4,257.1 1119.5,256.6 1117.5,256.1 1115.6,255.7 1113.6,255.2 1111.7,254.8 1109.7,254.3 1107.8,253.9 1105.8,253.5 1103.8,253.2 1101.8,252.8 1099.9,252.4 1097.9,252.1 1095.9,251.8 1093.9,251.5 1091.9,251.2 1090.0,250.9 1088.0,250.7 1086.0,250.5 1084.0,250.3 1082.0,250.1 1080.0,249.9 1078.0,249.8 1076.0,249.7 1074.0,249.6 1072.0,249.5 1070.0,249.4 1068.0,249.4 1066.0,249.4 1064.0,249.5 1062.0,249.5 1059.9,249.6 1057.9,249.7 1055.9,249.8 1053.9,250.0 1052.0,250.2 1050.0,250.4 1048.0,250.7 1046.0,251.0 1044.0,251.3 1042.0,251.7 1040.1,252.0 1038.1,252.4 1036.1,252.9 1034.2,253.3 1032.2,253.8 1030.3,254.3 1028.4,254.8 1026.4,255.4 1024.5,256.0 1022.6,256.6 1020.7,257.2 1018.8,257.9 1016.9,258.6 1015.1,259.3 1013.2,260.1 1011.4,260.8 1009.5,261.6 1007.7,262.4 1005.9,263.3 1004.0,264.1 1002.2,265.0 1000.4,265.9 998.7,266.8 996.9,267.8 995.1,268.7 993.4,269.7 991.7,270.7 990.0,271.8 988.2,272.8 986.5,273.9 984.9,274.9 983.2,276.1 981.5,277.2 979.9,278.3 978.3,279.5 976.6,280.6 975.0,281.8 973.4,283.1 971.8,284.3 970.3,285.5 968.7,286.8 967.2,288.1 965.7,289.4 964.1,290.7 962.6,292.0 961.2,293.3 959.7,294.7 958.2,296.1 956.8,297.4 955.3,298.8 953.9,300.3 952.5,301.7 951.1,303.1 949.7,304.6 948.4,306.0 947.0,307.5 945.7,309.0 944.4,310.5 943.1,312.0 941.8,313.6 940.5,315.1 939.2,316.6 938.0,318.2 936.7,319.8 935.5,321.4 934.3,323.0 933.1,324.6 931.9,326.2 930.7,327.8 929.6,329.4 928.4,331.1 927.3,332.7 926.2,334.4 925.0,336.0 923.9,337.7 922.9,339.4 921.8,341.1 920.7,342.8 919.6,344.5 918.6,346.2 917.5,347.9 916.5,349.6 915.5,351.3 914.4,353.0 913.4,354.7 912.4,356.5 911.4,358.2 910.4,359.9 909.4,361.7 908.4,363.4 907.4,365.2 906.5,366.9 905.5,368.7 904.5,370.4 903.6,372.2 902.6,373.9 901.6,375.7 900.7,377.5 899.7,379.2 898.8,381.0 897.8,382.8 896.9,384.5 895.9,386.3 895.0,388.1 894.1,389.8 893.1,391.6 892.2,393.4 891.3,395.2 890.3,396.9 889.4,398.7 888.5,400.5 887.5,402.3 886.6,404.0 885.7,405.8 884.7,407.6 883.8,409.4 882.9,411.1 882.0,412.9 881.0,414.7 880.1,416.5 879.2,418.3 878.3,420.0 877.3,421.8 876.4,423.6 875.5,425.4 874.5,427.1 873.6,428.9 872.7,430.7 871.8,432.5 870.8,434.3 869.9,436.0 869.0,437.8 868.0,439.6 867.1,441.4 866.2,443.1 865.2,444.9 864.3,446.7 863.4,448.5 862.4,450.2 861.5,452.0 860.5,453.8 859.6,455.5 858.6,457.3 857.7,459.1 856.7,460.8 855.8,462.6 854.8,464.3 853.8,466.1 852.9,467.9 851.9,469.6 850.9,471.4 849.9,473.1 849.0,474.9 848.0,476.6 847.0,478.4 846.0,480.1 845.0,481.8 844.0,483.6 843.0,485.3 842.0,487.0 841.0,488.8 840.0,490.5 839.0,492.2 837.9,494.0 836.9,495.7 835.9,497.4 834.8,499.1 833.8,500.8 832.7,502.5 831.7,504.2 830.6,505.9 829.6,507.6 828.5,509.3 827.4,511.0 826.3,512.7 825.3,514.4 824.2,516.1 823.1,517.8 822.0,519.5 820.9,521.1 819.8,522.8 818.6,524.5 817.5,526.1 816.4,527.8 815.3,529.4 814.1,531.1 813.0,532.7 811.8,534.4 810.7,536.0 809.5,537.7 808.3,539.3 807.2,540.9 806.0,542.5 804.8,544.1 803.6,545.8 802.4,547.4 801.2,549.0 800.0,550.6 798.8,552.2 797.6,553.7 796.3,555.3 795.1,556.9 793.8,558.5 792.6,560.0 791.3,561.6 790.1,563.2 788.8,564.7 787.5,566.3 786.2,567.8 784.9,569.3 783.6,570.9 782.3,572.4 781.0,573.9 779.7,575.4 778.4,576.9 777.0,578.4 775.7,579.9 774.3,581.4 773.0,582.9 771.6,584.3 770.2,585.8 768.9,587.2 767.5,588.7 766.1,590.1 764.7,591.5 763.3,593.0 761.8,594.4 760.4,595.8 759.0,597.2 757.5,598.6 756.1,600.0 754.6,601.3 753.1,602.7 751.7,604.1 750.2,605.4 748.7,606.7 747.2,608.1 745.7,609.4 744.2,610.7 742.6,612.0 741.1,613.3 739.5,614.6 738.0,615.8 736.4,617.1 734.9,618.3 733.3,619.6 731.7,620.8 730.1,622.0 728.5,623.2 726.9,624.4 725.3,625.6 723.6,626.7 722.0,627.9 720.3,629.0 718.7,630.2 717.0,631.3 715.3,632.4 713.7,633.5 712.0,634.5 710.3,635.6 708.6,636.7 706.8,637.7 705.1,638.7 703.4,639.7 701.6,640.7 699.9,641.7 698.1,642.7 696.4,643.6 694.6,644.5 692.8,645.5 691.0,646.4 689.2,647.3 687.4,648.1 685.6,649.0 683.8,649.9 682.0,650.7 680.1,651.5 678.3,652.3 676.5,653.1 674.6,653.9 672.8,654.7 670.9,655.5 669.1,656.2 667.2,656.9 665.3,657.7 663.5,658.4 661.6,659.1 659.7,659.8 657.8,660.4 655.9,661.1 654.0,661.8 652.1,662.4 650.2,663.0 648.3,663.6 646.4,664.3 644.5,664.9 642.6,665.4 640.6,666.0 638.7,666.6 636.8,667.1 634.9,667.7 632.9,668.2 631.0,668.7 629.1,669.3 627.1,669.8 625.2,670.3 623.2,670.8 621.3,671.2 619.3,671.7 617.4,672.2 615.4,672.6 613.5,673.1 611.5,673.5 609.6,674.0 607.6,674.4 605.6,674.8 603.7,675.2 601.7,675.6 599.7,676.0 597.8,676.4 595.8,676.8 593.8,677.1 591.9,677.5 589.9,677.9 587.9,678.2 585.9,678.6 584.0,678.9 582.0,679.3 580.0,679.6 578.0,679.9 576.1,680.2 574.1,680.6 572.1,680.9 570.1,681.2 568.1,681.5 566.1,681.8 564.2,682.1 562.2,682.3 560.2,682.6 558.2,682.9 556.2,683.2 554.2,683.5 552.2,683.7 550.3,684.0 548.3,684.2 546.3,684.5 544.3,684.8 542.3,685.0 540.3,685.3 538.3,685.5 536.3,685.7 534.3,686.0 532.3,686.2 530.4,686.5 528.4,686.7 526.4,686.9 524.4,687.1 522.4,687.4 520.4,687.6 518.4,687.8 516.4,688.0 514.4,688.3 512.4,688.5 510.4,688.7 508.4,688.9 506.4,689.1 504.4,689.3 502.5,689.5 500.5,689.8 498.5,690.0 496.5,690.2 494.5,690.4 492.5,690.6 490.5,690.8 488.5,691.0 486.5,691.2 484.5,691.5 482.5,691.7 480.5,691.9 478.5,692.1 476.5,692.3 474.5,692.5 472.5,692.7 470.5,693.0 468.6,693.2 466.6,693.4 464.6,693.6 462.6,693.8 460.6,694.1 458.6,694.3 456.6,694.5 454.6,694.7 452.6,695.0 450.6,695.2 448.6,695.4 446.6,695.7 444.6,695.9 442.7,696.2 440.7,696.4 438.7,696.7 436.7,696.9 434.7,697.2 432.7,697.4 430.7,697.7 428.7,698.0 426.8,698.2 424.8,698.5 422.8,698.8 420.8,699.1 418.8,699.4 416.8,699.7 414.8,700.0 412.9,700.3 410.9,700.6 408.9,700.9 406.9,701.2 404.9,701.5 403.0,701.8 401.0,702.2 399.0,702.5 397.0,702.8 395.0,703.2 393.1,703.5 391.1,703.9 389.1,704.2 387.2,704.6 385.2,705.0 383.2,705.4 381.3,705.8 379.3,706.2 377.3,706.6 375.4,707.0 373.4,707.4 371.4,707.8 369.5,708.3 367.5,708.7 365.6,709.1 363.6,709.6 361.7,710.1 359.7,710.5 357.8,711.0 355.8,711.5 353.9,712.0 351.9,712.5 350.0,713.0 348.1,713.5 346.1,714.1 344.2,714.6 342.3,715.2 340.4,715.7 338.4,716.3 336.5,716.9 334.6,717.5 332.7,718.1 330.8,718.7 328.9,719.3 327.0,719.9 325.1,720.6 323.2,721.2 321.3,721.9 319.4,722.6 317.5,723.2 315.6,723.9 313.7,724.7 311.9,725.4 310.0,726.1Z" fill="#000000" stroke="#000000" stroke-width="5.0" stroke-linejoin="round"/>
<path d="M1535.6,366.9 1533.8,367.7 1532.0,368.6 1530.1,369.4 1528.3,370.2 1526.5,371.0 1524.6,371.8 1522.8,372.6 1521.0,373.4 1519.1,374.2 1517.3,375.0 1515.4,375.8 1513.6,376.6 1511.7,377.4 1509.9,378.1 1508.0,378.9 1506.2,379.6 1504.3,380.4 1502.5,381.2 1500.6,381.9 1498.7,382.6 1496.9,383.4 1495.0,384.1 1493.1,384.8 1491.3,385.5 1489.4,386.2 1487.5,386.9 1485.6,387.6 1483.8,388.3 1481.9,389.0 1480.0,389.7 1478.1,390.4 1476.2,391.1 1474.3,391.8 1472.5,392.4 1470.6,393.1 1468.7,393.7 1466.8,394.4 1464.9,395.0 1463.0,395.7 1461.1,396.3 1459.2,396.9 1457.3,397.6 1455.4,398.2 1453.5,398.8 1451.6,399.4 1449.6,400.0 1447.7,400.6 1445.8,401.2 1443.9,401.8 1442.0,402.4 1440.1,403.0 1438.2,403.6 1436.2,404.2 1434.3,404.7 1432.4,405.3 1430.5,405.9 1428.5,406.4 1426.6,407.0 1424.7,407.5 1422.8,408.1 1420.8,408.6 1418.9,409.1 1417.0,409.7 1415.0,410.2 1413.1,410.7 1411.2,411.2 1409.2,411.7 1407.3,412.2 1405.3,412.8 1403.4,413.3 1401.5,413.8 1399.5,414.2 1397.6,414.7 1395.6,415.2 1393.7,415.7 1391.7,416.2 1389.8,416.7 1387.9,417.1 1385.9,417.6 1384.0,418.1 1382.0,418.5 1380.1,419.0 1378.1,419.4 1376.1,419.9 1374.2,420.3 1372.2,420.8 1370.3,421.2 1368.3,421.6 1366.4,422.1 1364.4,422.5 1362.5,422.9 1360.5,423.4 1358.5,423.8 1356.6,424.2 1354.6,424.6 1352.7,425.0 1350.7,425.4 1348.7,425.8 1346.8,426.3 1344.8,426.7 1342.8,427.1 1340.9,427.5 1338.9,427.8 1336.9,428.2 1335.0,428.6 1333.0,429.0 1331.1,429.4 1329.1,429.8 1327.1,430.2 1325.1,430.5 1323.2,430.9 1321.2,431.3 1319.2,431.7 1317.3,432.0 1315.3,432.4 1313.3,432.8 1311.4,433.1 1309.4,433.5 1307.4,433.8 1305.4,434.2 1303.5,434.6 1301.5,434.9 1299.5,435.3 1297.6,435.6 1295.6,436.0 1293.6,436.3 1291.6,436.7 1289.7,437.0 1287.7,437.4 1285.7,437.7 1283.7,438.1 1281.8,438.4 1279.8,438.7 1277.8,439.1 1275.8,439.4 1273.9,439.8 1271.9,440.1 1269.9,440.4 1267.9,440.8 1266.0,441.1 1264.0,441.5 1262.0,441.8 1260.0,442.1 1258.1,442.5 1256.1,442.8 1254.1,443.2 1252.1,443.5 1250.2,443.8 1248.2,444.2 1246.2,444.5 1244.2,444.9 1242.3,445.2 1240.3,445.6 1238.3,445.9 1236.4,446.3 1234.4,446.6 1232.4,447.0 1230.4,447.4 1228.5,447.7 1226.5,448.1 1224.5,448.4 1222.6,448.8 1220.6,449.2 1218.6,449.5 1216.7,449.9 1214.7,450.3 1212.7,450.7 1210.7,451.1 1208.8,451.4 1206.8,451.8 1204.8,452.2 1202.9,452.6 1200.9,453.0 1199.0,453.4 1197.0,453.8 1195.0,454.2 1193.1,454.7 1191.1,455.1 1189.2,455.5 1187.2,455.9 1185.2,456.4 1183.3,456.8 1181.3,457.2 1179.4,457.7 1177.4,458.1 1175.5,458.6 1173.5,459.0 1171.6,459.5 1169.6,460.0 1167.7,460.5 1165.7,460.9 1163.8,461.4 1161.8,461.9 1159.9,462.4 1158.0,462.9 1156.0,463.4 1154.1,464.0 1152.2,464.5 1150.2,465.0 1148.3,465.6 1146.4,466.1 1144.4,466.6 1142.5,467.2 1140.6,467.8 1138.7,468.3 1136.8,468.9 1134.8,469.5 1132.9,470.1 1131.0,470.7 1129.1,471.3 1127.2,472.0 1125.3,472.6 1123.4,473.2 1121.5,473.9 1119.6,474.5 1117.7,475.2 1115.8,475.9 1113.9,476.5 1112.1,477.2 1110.2,477.9 1108.3,478.6 1106.4,479.4 1104.6,480.1 1102.7,480.8 1100.9,481.6 1099.0,482.3 1097.2,483.1 1095.3,483.9 1093.5,484.7 1091.6,485.5 1089.8,486.3 1088.0,487.1 1086.1,487.9 1084.3,488.8 1082.5,489.6 1080.7,490.5 1078.9,491.4 1077.1,492.3 1075.3,493.2 1073.6,494.1 1071.8,495.0 1070.0,496.0 1068.2,496.9 1066.5,497.9 1064.7,498.9 1063.0,499.9 1061.3,500.9 1059.5,501.9 1057.8,502.9 1056.1,504.0 1054.4,505.0 1052.7,506.1 1051.0,507.2 1049.4,508.3 1047.7,509.4 1046.0,510.5 1044.4,511.7 1042.7,512.8 1041.1,514.0 1039.5,515.2 1037.9,516.4 1036.3,517.6 1034.7,518.8 1033.1,520.0 1031.6,521.3 1030.0,522.6 1028.5,523.8 1026.9,525.1 1025.4,526.4 1023.9,527.7 1022.4,529.1 1020.9,530.4 1019.4,531.8 1017.9,533.1 1016.5,534.5 1015.0,535.9 1013.6,537.3 1012.2,538.7 1010.7,540.1 1009.3,541.5 1007.9,542.9 1006.6,544.4 1005.2,545.8 1003.8,547.3 1002.4,548.8 1001.1,550.3 999.8,551.7 998.4,553.2 997.1,554.8 995.8,556.3 994.5,557.8 993.2,559.3 991.9,560.9 990.7,562.4 989.4,564.0 988.1,565.5 986.9,567.1 985.7,568.7 984.4,570.3 983.2,571.9 982.0,573.5 980.8,575.1 979.6,576.7 978.4,578.3 977.2,579.9 976.1,581.5 974.9,583.2 973.8,584.8 972.6,586.5 971.5,588.1 970.4,589.8 969.2,591.4 968.1,593.1 967.0,594.8 965.9,596.4 964.8,598.1 963.7,599.8 962.7,601.5 961.6,603.2 960.5,604.9 959.5,606.6 958.4,608.3 957.4,610.0 956.4,611.7 955.3,613.5 954.3,615.2 953.3,616.9 952.3,618.6 951.3,620.4 950.3,622.1 949.3,623.9 948.3,625.6 947.3,627.3 946.4,629.1 945.4,630.8 944.4,632.6 943.5,634.4 942.5,636.1 941.6,637.9 940.6,639.7 939.7,641.4 938.8,643.2 937.8,645.0 936.9,646.8 936.0,648.5 935.1,650.3 934.2,652.1 933.3,653.9 932.4,655.7 931.5,657.5 930.6,659.3 929.7,661.1 928.8,662.9 927.9,664.7 927.1,666.5 926.2,668.3 925.3,670.1 924.5,671.9 923.6,673.7 922.7,675.5 921.9,677.3 921.0,679.2 920.2,681.0 919.4,682.8 918.5,684.6 917.7,686.4 916.8,688.3 916.0,690.1 915.2,691.9 914.4,693.7 913.6,695.6 912.7,697.4 911.9,699.2 911.1,701.1 910.3,702.9 909.5,704.7 908.7,706.6 907.9,708.4 907.1,710.3 906.3,712.1 905.5,713.9 904.8,715.8 904.0,717.6 903.2,719.5 902.4,721.3 901.6,723.2 900.9,725.0 900.1,726.9 899.3,728.7 898.5,730.6 897.8,732.4 897.0,734.3 896.3,736.1 895.5,738.0 894.7,739.8 894.0,741.7 893.2,743.5 892.5,745.4 891.7,747.3 891.0,749.1 890.2,751.0 889.5,752.8 888.8,754.7 888.0,756.6 887.3,758.4 886.5,760.3 885.8,762.2 885.1,764.0 884.3,765.9 883.6,767.7 882.9,769.6 882.1,771.5 881.4,773.3 880.7,775.2 879.9,777.1 879.2,778.9 878.5,780.8 877.8,782.7 877.0,784.5 876.3,786.4 875.6,788.3 874.9,790.2 874.1,792.0 873.4,793.9 872.7,795.8 872.0,797.6 871.2,799.5 870.5,801.4 869.8,803.2 869.1,805.1 868.4,807.0 867.6,808.8 866.9,810.7 866.2,812.6 865.5,814.5 864.8,816.3 864.0,818.2 863.3,820.1 862.6,821.9 861.9,823.8 861.1,825.7 860.4,827.5 859.7,829.4 858.9,831.3 858.2,833.1 857.5,835.0 856.8,836.9 856.0,838.7 855.3,840.6 854.6,842.5 853.8,844.3 853.1,846.2 852.3,848.0 851.6,849.9 850.9,851.8 850.1,853.6 849.4,855.5 848.6,857.4 847.9,859.2 847.1,861.1 846.4,862.9 845.6,864.8 844.8,866.6 844.1,868.5 843.3,870.3 842.6,872.2 841.8,874.0 841.0,875.9 840.2,877.7 839.4,879.6 838.6,881.4 837.8,883.3 837.0,885.1 836.2,886.9 835.4,888.8 834.6,890.6 833.8,892.4 832.9,894.2 832.1,896.0 831.2,897.8 830.4,899.7 829.5,901.5 828.6,903.3 827.7,905.1 826.8,906.8 825.9,908.6 825.0,910.4 824.0,912.2 823.1,914.0 822.1,915.7 821.2,917.5 820.2,919.2 819.2,921.0 818.2,922.7 817.2,924.4 816.2,926.2 815.1,927.9 814.1,929.6 813.0,931.3 812.0,933.0 810.9,934.7 809.8,936.3 808.7,938.0 807.5,939.7 806.4,941.3 805.2,942.9 804.1,944.6 802.8,946.2 801.6,947.7 800.4,949.3 799.1,950.8 797.8,952.3 796.4,953.8 795.0,955.3 793.6,956.7 792.2,958.1 790.7,959.5 789.2,960.8 787.6,962.0 786.1,963.3 784.4,964.4 782.8,965.5 781.1,966.6 779.3,967.6 777.5,968.5 775.7,969.3 773.9,970.1 772.0,970.8 770.1,971.4 768.1,972.0 766.2,972.4 764.2,972.8 762.2,973.1 760.3,973.3 758.3,973.4 756.2,973.4 754.2,973.4 752.2,973.2 750.3,973.0 748.3,972.7 746.3,972.3 744.4,971.8 742.4,971.3 740.5,970.7 738.6,970.0 736.7,969.3 734.9,968.6 733.0,967.8 731.2,966.9 729.4,966.1 727.7,965.1 725.9,964.2 724.2,963.2 722.4,962.2 720.7,961.1 719.0,960.0 717.4,958.9 715.7,957.8 714.1,956.6 712.5,955.4 710.9,954.2 709.3,953.0 707.7,951.8 706.2,950.5 704.6,949.2 703.1,947.9 701.5,946.6 700.0,945.3 698.5,944.0 697.1,942.6 695.6,941.3 694.1,939.9 692.7,938.5 691.2,937.1 689.8,935.7 688.4,934.3 687.0,932.9 685.5,931.5 684.2,930.0 682.8,928.6 681.4,927.1 680.0,925.7 678.6,924.2 677.3,922.8 675.9,921.3 674.6,919.8 673.2,918.3 671.9,916.8 670.5,915.4 669.2,913.9 667.8,912.4 666.5,910.9 665.1,909.4 663.8,907.9 662.5,906.4 661.1,905.0 659.8,903.5 658.4,902.0 657.1,900.5 655.7,899.0 654.3,897.6 653.0,896.1 651.6,894.6 650.2,893.2 648.8,891.7 647.4,890.3 646.0,888.9 644.6,887.4 643.2,886.0 641.8,884.6 640.4,883.2 639.0,881.8 637.6,880.3 636.1,878.9 634.7,877.5 633.2,876.2 631.8,874.8 630.3,873.4 628.9,872.0 627.4,870.7 626.0,869.3 624.5,867.9 623.0,866.6 621.5,865.2 620.0,863.9 618.5,862.6 617.0,861.2 615.5,859.9 614.0,858.6 612.5,857.3 611.0,856.0 609.4,854.7 607.9,853.4 606.4,852.1 604.8,850.8 603.3,849.5 601.7,848.3 600.2,847.0 598.6,845.8 597.1,844.5 595.5,843.3 593.9,842.0 592.3,840.8 590.7,839.6 589.1,838.4 587.5,837.2 585.9,836.0 584.3,834.8 582.7,833.6 581.1,832.4 579.5,831.2 577.8,830.0 576.2,828.9 574.6,827.7 572.9,826.6 571.3,825.4 569.6,824.3 568.0,823.2 566.3,822.1 564.6,820.9 563.0,819.8 561.3,818.7 559.6,817.7 557.9,816.6 556.2,815.5 554.5,814.4 552.8,813.4 551.1,812.3 549.4,811.3 547.7,810.2 546.0,809.2 544.3,808.2 542.5,807.2 540.8,806.2 539.1,805.2 537.3,804.2 535.6,803.2 533.8,802.2 532.1,801.3 530.3,800.3 528.5,799.3 526.8,798.4 525.0,797.5 523.2,796.5 521.4,795.6 519.7,794.7 517.9,793.8 516.1,792.9 514.3,792.0 512.5,791.2 510.7,790.3 508.9,789.5 507.0,788.6 505.2,787.8 503.4,786.9 501.6,786.1 499.7,785.3 497.9,784.5 496.1,783.7 494.2,782.9 492.4,782.1 490.5,781.4 488.7,780.6 486.8,779.8 485.0,779.1 483.1,778.3 481.2,777.6 479.4,776.9 477.5,776.2 475.6,775.4 473.7,774.7 471.9,774.0 470.0,773.3 468.1,772.7 466.2,772.0 464.3,771.3 462.4,770.6 460.5,770.0 458.7,769.3 456.8,768.7 454.9,768.0 453.0,767.4 451.1,766.8 449.2,766.1 447.2,765.5 445.3,764.9 443.4,764.3 441.5,763.7 439.6,763.1 437.7,762.5 435.8,761.9 433.9,761.3 431.9,760.7 430.0,760.2 428.1,759.6 426.2,759.0 424.3,758.5 422.3,757.9 420.4,757.3 418.5,756.8 416.6,756.2 414.6,755.7 412.7,755.1 410.8,754.6 408.8,754.1 406.9,753.5 405.0,753.0 403.0,752.5 401.1,751.9 399.2,751.4 397.2,750.9 395.3,750.4 393.4,749.9 391.4,749.4 389.5,748.8 387.6,748.3 385.6,747.8 383.7,747.3 381.7,746.8 379.8,746.3 377.9,745.8 375.9,745.3 374.0,744.8 372.0,744.3 370.1,743.8 368.2,743.3 366.2,742.8 364.3,742.3 362.3,741.8 360.4,741.3 358.5,740.8 356.5,740.3 354.6,739.8 352.6,739.3 350.7,738.8 348.8,738.3 346.8,737.8 344.9,737.3 342.9,736.8 341.0,736.3 339.1,735.8 337.1,735.3 335.2,734.8 333.2,734.3 331.3,733.8 329.4,733.3 327.4,732.8 325.5,732.3 323.5,731.8 321.6,731.2 319.7,730.7 317.7,730.2 315.8,729.7 313.9,729.2 311.9,728.6 310.0,728.1 310.0,728.7 311.9,729.2 313.9,729.8 315.8,730.3 317.7,730.8 319.7,731.3 321.6,731.8 323.5,732.4 325.5,732.9 327.4,733.4 329.4,733.9 331.3,734.4 333.2,734.9 335.2,735.4 337.1,735.9 339.1,736.4 341.0,736.9 342.9,737.4 344.9,737.9 346.8,738.4 348.8,738.9 350.7,739.4 352.6,739.9 354.6,740.4 356.5,740.9 358.5,741.4 360.4,741.9 362.3,742.4 364.3,742.9 366.2,743.4 368.2,743.9 370.1,744.4 372.0,744.9 374.0,745.4 375.9,745.9 377.9,746.4 379.8,746.9 381.7,747.4 383.7,747.9 385.6,748.4 387.6,748.9 389.5,749.4 391.4,750.0 393.4,750.5 395.3,751.0 397.2,751.5 399.2,752.0 401.1,752.5 403.0,753.1 405.0,753.6 406.9,754.1 408.8,754.7 410.8,755.2 412.7,755.7 414.6,756.3 416.6,756.8 418.5,757.4 420.4,757.9 422.3,758.5 424.3,759.1 426.2,759.6 428.1,760.2 430.0,760.8 431.9,761.3 433.9,761.9 435.8,762.5 437.7,763.1 439.6,763.7 441.5,764.3 443.4,764.9 445.3,765.5 447.2,766.1 449.2,766.7 451.1,767.4 453.0,768.0 454.9,768.6 456.8,769.3 458.7,769.9 460.5,770.6 462.4,771.2 464.3,771.9 466.2,772.6 468.1,773.3 470.0,773.9 471.9,774.6 473.7,775.3 475.6,776.0 477.5,776.8 479.4,777.5 481.2,778.2 483.1,778.9 485.0,779.7 486.8,780.4 488.7,781.2 490.5,782.0 492.4,782.7 494.2,783.5 496.1,784.3 497.9,785.1 499.7,785.9 501.6,786.7 503.4,787.5 505.2,788.4 507.0,789.2 508.9,790.1 510.7,790.9 512.5,791.8 514.3,792.6 516.1,793.5 517.9,794.4 519.7,795.3 521.4,796.2 523.2,797.1 525.0,798.1 526.8,799.0 528.5,799.9 530.3,800.9 532.1,801.9 533.8,802.8 535.6,803.8 537.3,804.8 539.1,805.8 540.8,806.8 542.5,807.8 544.3,808.8 546.0,809.8 547.7,810.8 549.4,811.9 551.1,812.9 552.8,814.0 554.5,815.0 556.2,816.1 557.9,817.2 559.6,818.3 561.3,819.3 563.0,820.4 564.6,821.5 566.3,822.7 568.0,823.8 569.6,824.9 571.3,826.0 572.9,827.2 574.6,828.3 576.2,829.5 577.8,830.6 579.5,831.8 581.1,833.0 582.7,834.2 584.3,835.4 585.9,836.6 587.5,837.8 589.1,839.0 590.7,840.2 592.3,841.4 593.9,842.6 595.5,843.9 597.1,845.1 598.6,846.4 600.2,847.6 601.7,848.9 603.3,850.1 604.8,851.4 606.4,852.7 607.9,854.0 609.4,855.3 611.0,856.6 612.5,857.9 614.0,859.2 615.5,860.5 617.0,861.8 618.5,863.2 620.0,864.5 621.5,865.8 623.0,867.2 624.5,868.5 626.0,869.9 627.4,871.3 628.9,872.6 630.3,874.0 631.8,875.4 633.2,876.8 634.7,878.1 636.1,879.5 637.6,880.9 639.0,882.4 640.4,883.8 641.8,885.2 643.2,886.6 644.6,888.0 646.0,889.5 647.4,890.9 648.8,892.3 650.2,893.8 651.6,895.2 653.0,896.7 654.3,898.2 655.7,899.6 657.1,901.1 658.4,902.6 659.8,904.1 661.1,905.6 662.5,907.0 663.8,908.5 665.1,910.0 666.5,911.5 667.8,913.0 669.2,914.5 670.5,916.0 671.9,917.4 673.2,918.9 674.6,920.4 675.9,921.9 677.3,923.4 678.6,924.8 680.0,926.3 681.4,927.7 682.8,929.2 684.2,930.6 685.5,932.1 687.0,933.5 688.4,934.9 689.8,936.3 691.2,937.7 692.7,939.1 694.1,940.5 695.6,941.9 697.1,943.2 698.5,944.6 700.0,945.9 701.5,947.2 703.1,948.5 704.6,949.8 706.2,951.1 707.7,952.4 709.3,953.6 710.9,954.8 712.5,956.0 714.1,957.2 715.7,958.4 717.4,959.5 719.0,960.6 720.7,961.7 722.4,962.8 724.2,963.8 725.9,964.8 727.7,965.7 729.4,966.7 731.2,967.5 733.0,968.4 734.9,969.2 736.7,969.9 738.6,970.6 740.5,971.3 742.4,971.9 744.4,972.4 746.3,972.9 748.3,973.3 750.3,973.6 752.2,973.8 754.2,974.0 756.2,974.0 758.3,974.0 760.3,973.9 762.2,973.7 764.2,973.4 766.2,973.0 768.1,972.6 770.1,972.0 772.0,971.4 773.9,970.7 775.7,969.9 777.5,969.1 779.3,968.2 781.1,967.2 782.8,966.1 784.4,965.0 786.1,963.9 787.6,962.6 789.2,961.4 790.7,960.1 792.2,958.7 793.6,957.3 795.0,955.9 796.4,954.4 797.8,952.9 799.1,951.4 800.4,949.9 801.6,948.3 802.8,946.8 804.1,945.2 805.2,943.5 806.4,941.9 807.5,940.3 808.7,938.6 809.8,936.9 810.9,935.3 812.0,933.6 813.0,931.9 814.1,930.2 815.1,928.5 816.2,926.8 817.2,925.0 818.2,923.3 819.2,921.6 820.2,919.8 821.2,918.1 822.1,916.3 823.1,914.6 824.0,912.8 825.0,911.0 825.9,909.2 826.8,907.4 827.7,905.7 828.6,903.9 829.5,902.1 830.4,900.3 831.2,898.4 832.1,896.6 832.9,894.8 833.8,893.0 834.6,891.2 835.4,889.4 836.2,887.5 837.0,885.7 837.8,883.9 838.6,882.0 839.4,880.2 840.2,878.3 841.0,876.5 841.8,874.6 842.6,872.8 843.3,870.9 844.1,869.1 844.8,867.2 845.6,865.4 846.4,863.5 847.1,861.7 847.9,859.8 848.6,858.0 849.4,856.1 850.1,854.2 850.9,852.4 851.6,850.5 852.3,848.6 853.1,846.8 853.8,844.9 854.6,843.1 855.3,841.2 856.0,839.3 856.8,837.5 857.5,835.6 858.2,833.7 858.9,831.9 859.7,830.0 860.4,828.1 861.1,826.3 861.9,824.4 862.6,822.5 863.3,820.7 864.0,818.8 864.8,816.9 865.5,815.1 866.2,813.2 866.9,811.3 867.6,809.4 868.4,807.6 869.1,805.7 869.8,803.8 870.5,802.0 871.2,800.1 872.0,798.2 872.7,796.4 873.4,794.5 874.1,792.6 874.9,790.8 875.6,788.9 876.3,787.0 877.0,785.1 877.8,783.3 878.5,781.4 879.2,779.5 879.9,777.7 880.7,775.8 881.4,773.9 882.1,772.1 882.9,770.2 883.6,768.3 884.3,766.5 885.1,764.6 885.8,762.8 886.5,760.9 887.3,759.0 888.0,757.2 888.8,755.3 889.5,753.4 890.2,751.6 891.0,749.7 891.7,747.9 892.5,746.0 893.2,744.1 894.0,742.3 894.7,740.4 895.5,738.6 896.3,736.7 897.0,734.9 897.8,733.0 898.5,731.2 899.3,729.3 900.1,727.5 900.9,725.6 901.6,723.8 902.4,721.9 903.2,720.1 904.0,718.2 904.8,716.4 905.5,714.5 906.3,712.7 907.1,710.9 907.9,709.0 908.7,707.2 909.5,705.3 910.3,703.5 911.1,701.7 911.9,699.8 912.7,698.0 913.6,696.2 914.4,694.3 915.2,692.5 916.0,690.7 916.8,688.9 917.7,687.0 918.5,685.2 919.4,683.4 920.2,681.6 921.0,679.8 921.9,677.9 922.7,676.1 923.6,674.3 924.5,672.5 925.3,670.7 926.2,668.9 927.1,667.1 927.9,665.3 928.8,663.5 929.7,661.7 930.6,659.9 931.5,658.1 932.4,656.3 933.3,654.5 934.2,652.7 935.1,650.9 936.0,649.1 936.9,647.4 937.8,645.6 938.8,643.8 939.7,642.0 940.6,640.3 941.6,638.5 942.5,636.7 943.5,635.0 944.4,633.2 945.4,631.4 946.4,629.7 947.3,627.9 948.3,626.2 949.3,624.5 950.3,622.7 951.3,621.0 952.3,619.2 953.3,617.5 954.3,615.8 955.3,614.1 956.4,612.3 957.4,610.6 958.4,608.9 959.5,607.2 960.5,605.5 961.6,603.8 962.7,602.1 963.7,600.4 964.8,598.7 965.9,597.0 967.0,595.4 968.1,593.7 969.2,592.0 970.4,590.4 971.5,588.7 972.6,587.1 973.8,585.4 974.9,583.8 976.1,582.1 977.2,580.5 978.4,578.9 979.6,577.3 980.8,575.7 982.0,574.1 983.2,572.5 984.4,570.9 985.7,569.3 986.9,567.7 988.1,566.1 989.4,564.6 990.7,563.0 991.9,561.5 993.2,559.9 994.5,558.4 995.8,556.9 997.1,555.4 998.4,553.8 999.8,552.3 1001.1,550.9 1002.4,549.4 1003.8,547.9 1005.2,546.4 1006.6,545.0 1007.9,543.5 1009.3,542.1 1010.7,540.7 1012.2,539.3 1013.6,537.9 1015.0,536.5 1016.5,535.1 1017.9,533.7 1019.4,532.4 1020.9,531.0 1022.4,529.7 1023.9,528.3 1025.4,527.0 1026.9,525.7 1028.5,524.4 1030.0,523.2 1031.6,521.9 1033.1,520.6 1034.7,519.4 1036.3,518.2 1037.9,517.0 1039.5,515.8 1041.1,514.6 1042.7,513.4 1044.4,512.3 1046.0,511.1 1047.7,510.0 1049.4,508.9 1051.0,507.8 1052.7,506.7 1054.4,505.6 1056.1,504.6 1057.8,503.5 1059.5,502.5 1061.3,501.5 1063.0,500.5 1064.7,499.5 1066.5,498.5 1068.2,497.5 1070.0,496.6 1071.8,495.6 1073.6,494.7 1075.3,493.8 1077.1,492.9 1078.9,492.0 1080.7,491.1 1082.5,490.2 1084.3,489.4 1086.1,488.5 1088.0,487.7 1089.8,486.9 1091.6,486.1 1093.5,485.3 1095.3,484.5 1097.2,483.7 1099.0,482.9 1100.9,482.2 1102.7,481.4 1104.6,480.7 1106.4,480.0 1108.3,479.2 1110.2,478.5 1112.1,477.8 1113.9,477.1 1115.8,476.5 1117.7,475.8 1119.6,475.1 1121.5,474.5 1123.4,473.8 1125.3,473.2 1127.2,472.6 1129.1,471.9 1131.0,471.3 1132.9,470.7 1134.8,470.1 1136.8,469.5 1138.7,468.9 1140.6,468.4 1142.5,467.8 1144.4,467.2 1146.4,466.7 1148.3,466.2 1150.2,465.6 1152.2,465.1 1154.1,464.6 1156.0,464.0 1158.0,463.5 1159.9,463.0 1161.8,462.5 1163.8,462.0 1165.7,461.5 1167.7,461.1 1169.6,460.6 1171.6,460.1 1173.5,459.6 1175.5,459.2 1177.4,458.7 1179.4,458.3 1181.3,457.8 1183.3,457.4 1185.2,457.0 1187.2,456.5 1189.2,456.1 1191.1,455.7 1193.1,455.3 1195.0,454.8 1197.0,454.4 1199.0,454.0 1200.9,453.6 1202.9,453.2 1204.8,452.8 1206.8,452.4 1208.8,452.0 1210.7,451.7 1212.7,451.3 1214.7,450.9 1216.7,450.5 1218.6,450.1 1220.6,449.8 1222.6,449.4 1224.5,449.0 1226.5,448.7 1228.5,448.3 1230.4,448.0 1232.4,447.6 1234.4,447.2 1236.4,446.9 1238.3,446.5 1240.3,446.2 1242.3,445.8 1244.2,445.5 1246.2,445.1 1248.2,444.8 1250.2,444.4 1252.1,444.1 1254.1,443.8 1256.1,443.4 1258.1,443.1 1260.0,442.7 1262.0,442.4 1264.0,442.1 1266.0,441.7 1267.9,441.4 1269.9,441.0 1271.9,440.7 1273.9,440.4 1275.8,440.0 1277.8,439.7 1279.8,439.3 1281.8,439.0 1283.7,438.7 1285.7,438.3 1287.7,438.0 1289.7,437.6 1291.6,437.3 1293.6,436.9 1295.6,436.6 1297.6,436.2 1299.5,435.9 1301.5,435.5 1303.5,435.2 1305.4,434.8 1307.4,434.4 1309.4,434.1 1311.4,433.7 1313.3,433.4 1315.3,433.0 1317.3,432.6 1319.2,432.3 1321.2,431.9 1323.2,431.5 1325.1,431.1 1327.1,430.8 1329.1,430.4 1331.1,430.0 1333.0,429.6 1335.0,429.2 1336.9,428.8 1338.9,428.4 1340.9,428.1 1342.8,427.7 1344.8,427.3 1346.8,426.9 1348.7,426.4 1350.7,426.0 1352.7,425.6 1354.6,425.2 1356.6,424.8 1358.5,424.4 1360.5,424.0 1362.5,423.5 1364.4,423.1 1366.4,422.7 1368.3,422.2 1370.3,421.8 1372.2,421.4 1374.2,420.9 1376.1,420.5 1378.1,420.0 1380.1,419.6 1382.0,419.1 1384.0,418.7 1385.9,418.2 1387.9,417.7 1389.8,417.3 1391.7,416.8 1393.7,416.3 1395.6,415.8 1397.6,415.3 1399.5,414.8 1401.5,414.4 1403.4,413.9 1405.3,413.4 1407.3,412.8 1409.2,412.3 1411.2,411.8 1413.1,411.3 1415.0,410.8 1417.0,410.3 1418.9,409.7 1420.8,409.2 1422.8,408.7 1424.7,408.1 1426.6,407.6 1428.5,407.0 1430.5,406.5 1432.4,405.9 1434.3,405.3 1436.2,404.8 1438.2,404.2 1440.1,403.6 1442.0,403.0 1443.9,402.4 1445.8,401.8 1447.7,401.2 1449.6,400.6 1451.6,400.0 1453.5,399.4 1455.4,398.8 1457.3,398.2 1459.2,397.5 1461.1,396.9 1463.0,396.3 1464.9,395.6 1466.8,395.0 1468.7,394.3 1470.6,393.7 1472.5,393.0 1474.3,392.4 1476.2,391.7 1478.1,391.0 1480.0,390.3 1481.9,389.6 1483.8,388.9 1485.6,388.2 1487.5,387.5 1489.4,386.8 1491.3,386.1 1493.1,385.4 1495.0,384.7 1496.9,384.0 1498.7,383.2 1500.6,382.5 1502.5,381.8 1504.3,381.0 1506.2,380.2 1508.0,379.5 1509.9,378.7 1511.7,378.0 1513.6,377.2 1515.4,376.4 1517.3,375.6 1519.1,374.8 1521.0,374.0 1522.8,373.2 1524.6,372.4 1526.5,371.6 1528.3,370.8 1530.1,370.0 1532.0,369.2 1533.8,368.3 1535.6,367.5Z" fill="#000000" stroke="#000000" stroke-width="5.0" stroke-linejoin="round"/>
<rect x="209.5" y="22.8" width="1428.9" height="1065.6" fill="none" stroke="#000" stroke-width="3.4"/>
<line x1="311.8" y1="1088.4" x2="311.8" y2="1066.4" stroke="#000" stroke-width="3"/>
<line x1="515.8" y1="1088.4" x2="515.8" y2="1066.4" stroke="#000" stroke-width="3"/>
<line x1="719.8" y1="1088.4" x2="719.8" y2="1066.4" stroke="#000" stroke-width="3"/>
<line x1="923.8" y1="1088.4" x2="923.8" y2="1066.4" stroke="#000" stroke-width="3"/>
<line x1="1127.8" y1="1088.4" x2="1127.8" y2="1066.4" stroke="#000" stroke-width="3"/>
<line x1="1331.8" y1="1088.4" x2="1331.8" y2="1066.4" stroke="#000" stroke-width="3"/>
<line x1="1535.8" y1="1088.4" x2="1535.8" y2="1066.4" stroke="#000" stroke-width="3"/>
<line x1="209.5" y1="129.8" x2="231.5" y2="129.8" stroke="#000" stroke-width="3"/>
<line x1="209.5" y1="342.9" x2="231.5" y2="342.9" stroke="#000" stroke-width="3"/>
<line x1="209.5" y1="555.9" x2="231.5" y2="555.9" stroke="#000" stroke-width="3"/>
<line x1="209.5" y1="769.0" x2="231.5" y2="769.0" stroke="#000" stroke-width="3"/>
<line x1="209.5" y1="982.0" x2="231.5" y2="982.0" stroke="#000" stroke-width="3"/>
<text transform="translate(311.8,1161.2) scale(1,1.03)" text-anchor="middle" class="t">-0.1</text>
<text transform="translate(515.8,1161.2) scale(1,1.03)" text-anchor="middle" class="t">0.0</text>
<text transform="translate(719.8,1161.2) scale(1,1.03)" text-anchor="middle" class="t">0.1</text>
<text transform="translate(923.8,1161.2) scale(1,1.03)" text-anchor="middle" class="t">0.2</text>
<text transform="translate(1127.8,1161.2) scale(1,1.03)" text-anchor="middle" class="t">0.3</text>
<text transform="translate(1331.8,1161.2) scale(1,1.03)" text-anchor="middle" class="t">0.4</text>
<text transform="translate(1535.8,1161.2) scale(1,1.03)" text-anchor="middle" class="t">0.5</text>
<text transform="translate(186.5,147.4) scale(1,1.03)" text-anchor="end" class="t">40</text>
<text transform="translate(186.5,360.5) scale(1,1.03)" text-anchor="end" class="t">20</text>
<text transform="translate(186.5,573.5) scale(1,1.03)" text-anchor="end" class="t">0</text>
<text transform="translate(186.5,786.6) scale(1,1.03)" text-anchor="end" class="t">-20</text>
<text transform="translate(186.5,999.6) scale(1,1.03)" text-anchor="end" class="t">-40</text>
<text x="914.4" y="1268.8" text-anchor="middle" class="t" textLength="580" lengthAdjust="spacingAndGlyphs">Potential vs.SCE / V</text>
<text transform="translate(66.2,474.9) rotate(-90)" text-anchor="middle" class="t">Current / <tspan style="font-size:54px">&#956;</tspan>A</text>
<line x1="321" y1="78.1" x2="433" y2="78.1" stroke="#ff0000" stroke-width="5" stroke-linecap="round"/>
<text x="445.7" y="94.0" class="l">(a)</text>
<line x1="321" y1="139.8" x2="433" y2="139.8" stroke="#ff00ff" stroke-width="5" stroke-linecap="round"/>
<text x="445.7" y="155.4" class="l">(b)</text>
<line x1="321" y1="201.5" x2="433" y2="201.5" stroke="#0000ff" stroke-width="5" stroke-linecap="round"/>
<text x="445.7" y="216.9" class="l">(c)</text>
<line x1="321" y1="262.4" x2="433" y2="262.4" stroke="#000000" stroke-width="5" stroke-linecap="round"/>
<text x="445.7" y="278.4" class="l">(d)</text>
</svg>
</body></html>
